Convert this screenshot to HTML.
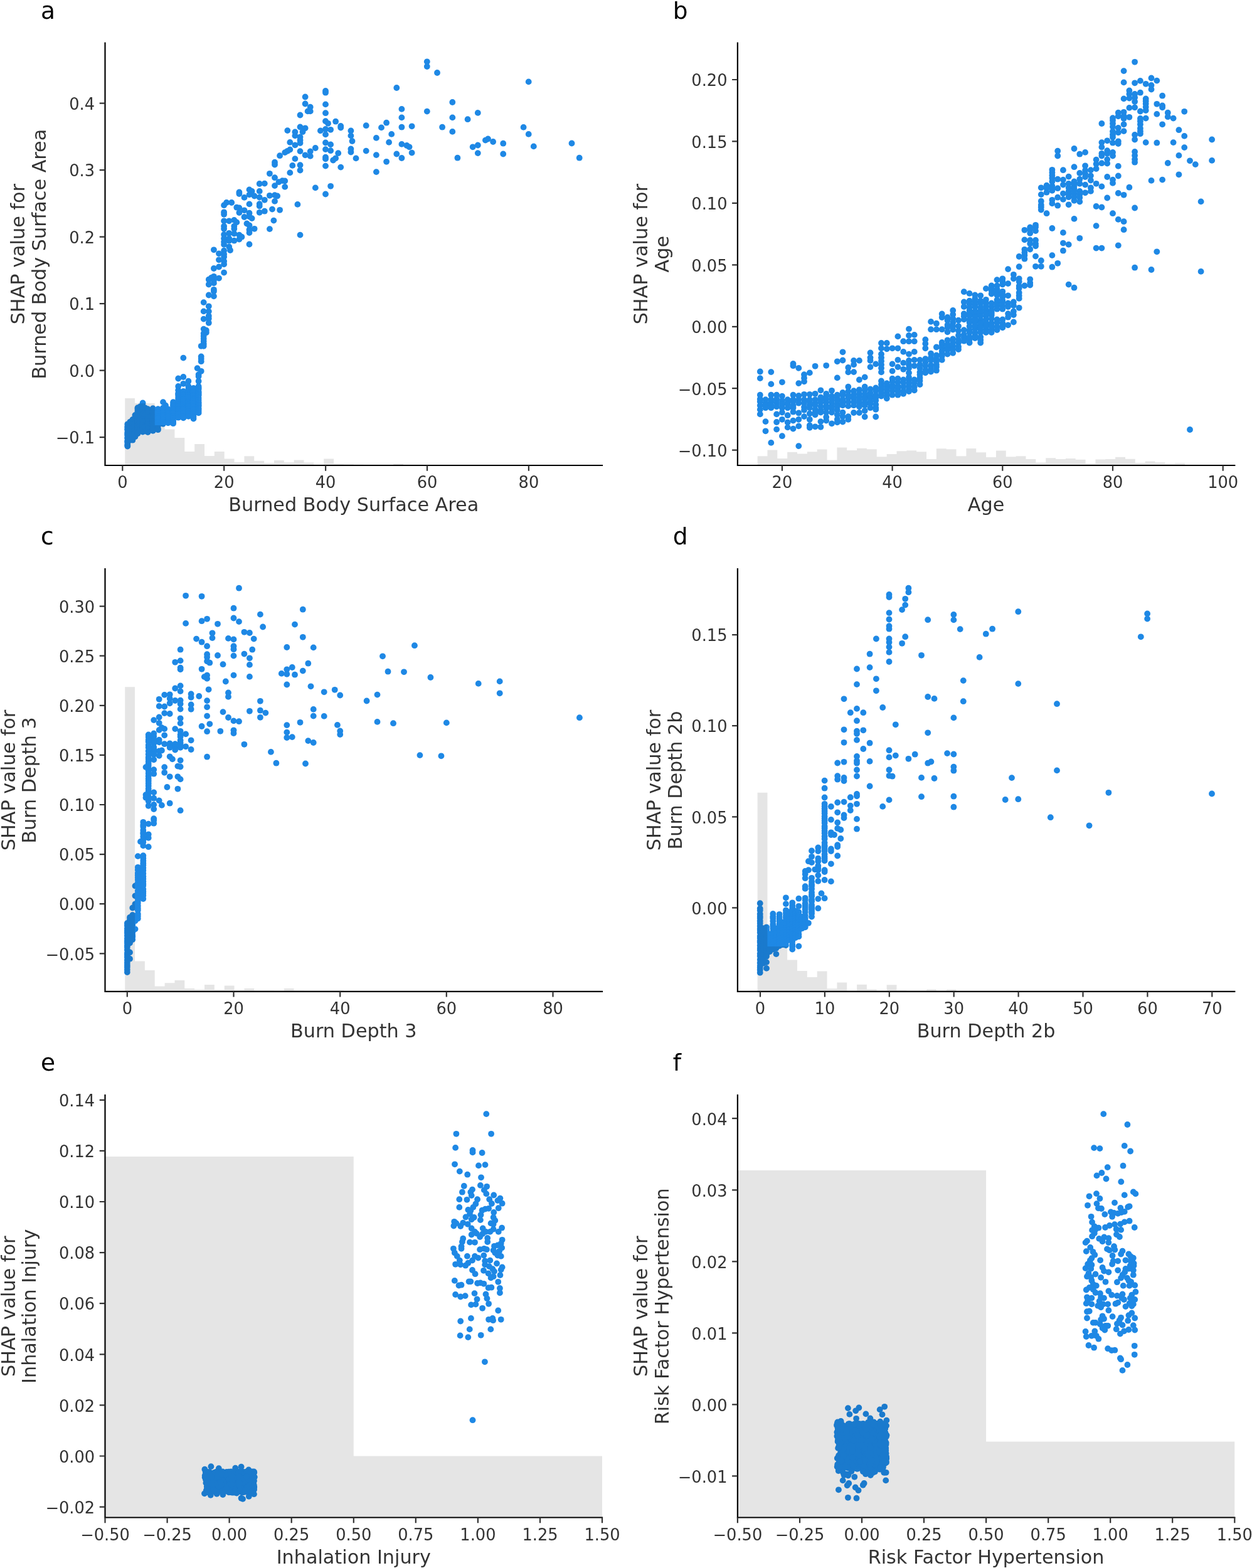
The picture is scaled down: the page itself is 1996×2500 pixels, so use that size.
<!DOCTYPE html>
<html lang="en">
<head>
<meta charset="utf-8">
<title>SHAP dependence plots</title>
<style>
html,body{margin:0;padding:0;background:#fff;}
body{width:1996px;height:2500px;overflow:hidden;font-family:"DejaVu Sans","Liberation Sans",sans-serif;}
svg{display:block;}
svg text{font-family:"DejaVu Sans","Liberation Sans",sans-serif;}
.tk text{font-size:25.7px;fill:#333333;}
.lb{font-size:30.25px;fill:#333333;}
.pl{font-size:37.5px;fill:#000;}
</style>
</head>
<body>
<svg width="1996" height="2500" viewBox="0 0 1996 2500">
<rect width="1996" height="2500" fill="#ffffff"/>
<g class="panel">
<g fill="#1e88e5">
<circle cx="680.8" cy="98.3" r="4.9"/><circle cx="680.8" cy="106" r="4.9"/><circle cx="697" cy="116" r="4.9"/><circle cx="842.7" cy="130.4" r="4.9"/><circle cx="632.3" cy="140" r="4.9"/><circle cx="721.3" cy="163" r="4.9"/><circle cx="640.4" cy="173.9" r="4.9"/><circle cx="680.8" cy="177.6" r="4.9"/><circle cx="761.8" cy="179.9" r="4.9"/><circle cx="640.4" cy="187.4" r="4.9"/><circle cx="721.3" cy="187.4" r="4.9"/><circle cx="745.6" cy="190.2" r="4.9"/><circle cx="616.1" cy="195.7" r="4.9"/><circle cx="583.7" cy="200.2" r="4.9"/><circle cx="608" cy="203.4" r="4.9"/><circle cx="640.4" cy="202.7" r="4.9"/><circle cx="656.6" cy="201.3" r="4.9"/><circle cx="705.1" cy="202.7" r="4.9"/><circle cx="834.6" cy="202.9" r="4.9"/><circle cx="624.2" cy="213.9" r="4.9"/><circle cx="721.3" cy="209.9" r="4.9"/><circle cx="842.7" cy="213.9" r="4.9"/><circle cx="599.9" cy="219.9" r="4.9"/><circle cx="620.1" cy="226.9" r="4.9"/><circle cx="773.9" cy="223.6" r="4.9"/><circle cx="778" cy="221.5" r="4.9"/><circle cx="786.1" cy="226" r="4.9"/><circle cx="802.2" cy="228.7" r="4.9"/><circle cx="911.5" cy="228.5" r="4.9"/><circle cx="640.4" cy="229.9" r="4.9"/><circle cx="648.5" cy="232" r="4.9"/><circle cx="652.5" cy="234.3" r="4.9"/><circle cx="761.8" cy="231.5" r="4.9"/><circle cx="753.7" cy="234.3" r="4.9"/><circle cx="850.8" cy="233.4" r="4.9"/><circle cx="583.7" cy="240.6" r="4.9"/><circle cx="656.6" cy="243.6" r="4.9"/><circle cx="632.3" cy="245.5" r="4.9"/><circle cx="599.9" cy="247.1" r="4.9"/><circle cx="761.8" cy="244.1" r="4.9"/><circle cx="802.2" cy="245.5" r="4.9"/><circle cx="567.5" cy="252.4" r="4.9"/><circle cx="640.4" cy="252" r="4.9"/><circle cx="729.4" cy="251.7" r="4.9"/><circle cx="923.7" cy="251.7" r="4.9"/><circle cx="616.1" cy="257.8" r="4.9"/><circle cx="599.9" cy="274.1" r="4.9"/><circle cx="519" cy="144.9" r="4.9"/><circle cx="519" cy="147.7" r="4.9"/><circle cx="486.6" cy="154.5" r="4.9"/><circle cx="486.6" cy="165.5" r="4.9"/><circle cx="519" cy="166.4" r="4.9"/><circle cx="494.7" cy="170.7" r="4.9"/><circle cx="490.6" cy="177.4" r="4.9"/><circle cx="494.7" cy="177.4" r="4.9"/><circle cx="519" cy="180.2" r="4.9"/><circle cx="478.5" cy="183.5" r="4.9"/><circle cx="519" cy="193.2" r="4.9"/><circle cx="523" cy="196.8" r="4.9"/><circle cx="535.1" cy="193.7" r="4.9"/><circle cx="543.2" cy="201" r="4.9"/><circle cx="543.2" cy="203.5" r="4.9"/><circle cx="478.5" cy="202.5" r="4.9"/><circle cx="486.6" cy="204.3" r="4.9"/><circle cx="482.5" cy="210.2" r="4.9"/><circle cx="458.3" cy="208.1" r="4.9"/><circle cx="470.4" cy="210.4" r="4.9"/><circle cx="510.9" cy="208.4" r="4.9"/><circle cx="519" cy="206" r="4.9"/><circle cx="527.1" cy="206.8" r="4.9"/><circle cx="519" cy="214.4" r="4.9"/><circle cx="559.4" cy="208.5" r="4.9"/><circle cx="470.4" cy="216.4" r="4.9"/><circle cx="478.5" cy="218.5" r="4.9"/><circle cx="559.4" cy="216.4" r="4.9"/><circle cx="478.5" cy="223.4" r="4.9"/><circle cx="561.5" cy="225" r="4.9"/><circle cx="462.3" cy="226.9" r="4.9"/><circle cx="478.5" cy="228" r="4.9"/><circle cx="470.4" cy="231.4" r="4.9"/><circle cx="519" cy="227.5" r="4.9"/><circle cx="527.1" cy="230.4" r="4.9"/><circle cx="502.8" cy="236" r="4.9"/><circle cx="462.3" cy="238.5" r="4.9"/><circle cx="458.3" cy="240.8" r="4.9"/><circle cx="454.2" cy="243.1" r="4.9"/><circle cx="519" cy="238.1" r="4.9"/><circle cx="527.1" cy="240.2" r="4.9"/><circle cx="559.4" cy="237.4" r="4.9"/><circle cx="559.4" cy="242.5" r="4.9"/><circle cx="478.5" cy="241.1" r="4.9"/><circle cx="494.7" cy="241.4" r="4.9"/><circle cx="539.2" cy="244.2" r="4.9"/><circle cx="446.1" cy="248.2" r="4.9"/><circle cx="486.6" cy="247.3" r="4.9"/><circle cx="494.7" cy="248.9" r="4.9"/><circle cx="519" cy="250.6" r="4.9"/><circle cx="519" cy="253.4" r="4.9"/><circle cx="535.1" cy="252.3" r="4.9"/><circle cx="531.1" cy="255.5" r="4.9"/><circle cx="470.4" cy="253.1" r="4.9"/><circle cx="438" cy="258.7" r="4.9"/><circle cx="438" cy="262.5" r="4.9"/><circle cx="466.3" cy="263.9" r="4.9"/><circle cx="478.5" cy="263.2" r="4.9"/><circle cx="519" cy="264.6" r="4.9"/><circle cx="543.2" cy="266.6" r="4.9"/><circle cx="478.5" cy="271.5" r="4.9"/><circle cx="462.3" cy="275.4" r="4.9"/><circle cx="429.9" cy="276.8" r="4.9"/><circle cx="438" cy="283.2" r="4.9"/><circle cx="450.2" cy="288.1" r="4.9"/><circle cx="454.2" cy="288.5" r="4.9"/><circle cx="444.4" cy="290.2" r="4.9"/><circle cx="413.7" cy="293" r="4.9"/><circle cx="421.8" cy="292.6" r="4.9"/><circle cx="438" cy="296.1" r="4.9"/><circle cx="454.2" cy="297.9" r="4.9"/><circle cx="502.8" cy="299.4" r="4.9"/><circle cx="527.1" cy="296.8" r="4.9"/><circle cx="519" cy="309.5" r="4.9"/><circle cx="397.5" cy="302.4" r="4.9"/><circle cx="401.6" cy="304.9" r="4.9"/><circle cx="381.4" cy="306.5" r="4.9"/><circle cx="381.4" cy="309" r="4.9"/><circle cx="413.7" cy="304.9" r="4.9"/><circle cx="397.5" cy="310.4" r="4.9"/><circle cx="405.6" cy="312.5" r="4.9"/><circle cx="429.9" cy="311.8" r="4.9"/><circle cx="438" cy="311.1" r="4.9"/><circle cx="442.1" cy="312.5" r="4.9"/><circle cx="389.5" cy="314.9" r="4.9"/><circle cx="413.7" cy="314.6" r="4.9"/><circle cx="421.8" cy="318.8" r="4.9"/><circle cx="438" cy="320.9" r="4.9"/><circle cx="361.1" cy="323" r="4.9"/><circle cx="369.2" cy="323" r="4.9"/><circle cx="357.1" cy="327.2" r="4.9"/><circle cx="397.5" cy="325.4" r="4.9"/><circle cx="413.7" cy="325.1" r="4.9"/><circle cx="413.7" cy="328.6" r="4.9"/><circle cx="474.4" cy="325.9" r="4.9"/><circle cx="377.3" cy="330.7" r="4.9"/><circle cx="381.4" cy="331.4" r="4.9"/><circle cx="389.5" cy="335.3" r="4.9"/><circle cx="434" cy="333.6" r="4.9"/><circle cx="446.1" cy="334.8" r="4.9"/><circle cx="381.4" cy="339" r="4.9"/><circle cx="397.5" cy="339.7" r="4.9"/><circle cx="413.7" cy="338.8" r="4.9"/><circle cx="421.8" cy="336.7" r="4.9"/><circle cx="357.1" cy="338.3" r="4.9"/><circle cx="357.1" cy="341.8" r="4.9"/><circle cx="389.5" cy="346" r="4.9"/><circle cx="397.5" cy="345.3" r="4.9"/><circle cx="401.6" cy="348.1" r="4.9"/><circle cx="357.1" cy="352.3" r="4.9"/><circle cx="365.2" cy="352.3" r="4.9"/><circle cx="373.3" cy="350.9" r="4.9"/><circle cx="377.3" cy="354.4" r="4.9"/><circle cx="436.4" cy="351.6" r="4.9"/><circle cx="393.5" cy="356.5" r="4.9"/><circle cx="397.5" cy="359.3" r="4.9"/><circle cx="357.1" cy="360.6" r="4.9"/><circle cx="373.3" cy="360.6" r="4.9"/><circle cx="357.1" cy="364.8" r="4.9"/><circle cx="373.3" cy="364.8" r="4.9"/><circle cx="405.6" cy="364.8" r="4.9"/><circle cx="429.9" cy="365.1" r="4.9"/><circle cx="397.5" cy="366.2" r="4.9"/><circle cx="397.5" cy="371.1" r="4.9"/><circle cx="365.2" cy="371.8" r="4.9"/><circle cx="357.1" cy="373.9" r="4.9"/><circle cx="373.3" cy="372.5" r="4.9"/><circle cx="381.4" cy="374.6" r="4.9"/><circle cx="385.4" cy="377.7" r="4.9"/><circle cx="478.5" cy="374.6" r="4.9"/><circle cx="357.1" cy="380.2" r="4.9"/><circle cx="365.2" cy="380.2" r="4.9"/><circle cx="381.4" cy="381.6" r="4.9"/><circle cx="373.3" cy="383.7" r="4.9"/><circle cx="365.2" cy="383.7" r="4.9"/><circle cx="357.1" cy="385.7" r="4.9"/><circle cx="397.5" cy="389.5" r="4.9"/><circle cx="357.1" cy="389.9" r="4.9"/><circle cx="365.2" cy="393.4" r="4.9"/><circle cx="340.9" cy="398.3" r="4.9"/><circle cx="367" cy="399" r="4.9"/><circle cx="357.1" cy="399.7" r="4.9"/><circle cx="349" cy="404.3" r="4.9"/><circle cx="357.1" cy="405.3" r="4.9"/><circle cx="357.1" cy="409.5" r="4.9"/><circle cx="349" cy="414.3" r="4.9"/><circle cx="357.1" cy="416.4" r="4.9"/><circle cx="357.1" cy="421.3" r="4.9"/><circle cx="349" cy="425.5" r="4.9"/><circle cx="340.9" cy="428" r="4.9"/><circle cx="357.1" cy="434.6" r="4.9"/><circle cx="340.9" cy="440.8" r="4.9"/><circle cx="349" cy="443.6" r="4.9"/><circle cx="332.8" cy="445.7" r="4.9"/><circle cx="340.9" cy="447.1" r="4.9"/><circle cx="336.8" cy="443" r="4.9"/><circle cx="340.9" cy="451.4" r="4.9"/><circle cx="332.8" cy="453.5" r="4.9"/><circle cx="340.9" cy="461.8" r="4.9"/><circle cx="340.9" cy="464.6" r="4.9"/><circle cx="332.8" cy="470.5" r="4.9"/><circle cx="340.9" cy="472.3" r="4.9"/><circle cx="324.7" cy="482.1" r="4.9"/><circle cx="332.8" cy="488.3" r="4.9"/><circle cx="324.7" cy="496.4" r="4.9"/><circle cx="332.8" cy="496.4" r="4.9"/><circle cx="332.8" cy="503.7" r="4.9"/><circle cx="324.7" cy="508.6" r="4.9"/><circle cx="332.8" cy="507.9" r="4.9"/><circle cx="332.8" cy="514.8" r="4.9"/><circle cx="324.7" cy="524.6" r="4.9"/><circle cx="328.8" cy="526.7" r="4.9"/><circle cx="328.8" cy="530.2" r="4.9"/><circle cx="324.7" cy="531.6" r="4.9"/><circle cx="324.7" cy="535.7" r="4.9"/><circle cx="324.7" cy="539.9" r="4.9"/><circle cx="324.7" cy="544.1" r="4.9"/><circle cx="324.7" cy="548.3" r="4.9"/><circle cx="320.7" cy="551.8" r="4.9"/><circle cx="324.7" cy="551.8" r="4.9"/><circle cx="320.7" cy="568.5" r="4.9"/><circle cx="292.3" cy="570.6" r="4.9"/><circle cx="320.7" cy="576.2" r="4.9"/><circle cx="314.6" cy="587.1" r="4.9"/><circle cx="320.7" cy="591.8" r="4.9"/><circle cx="316.6" cy="597.1" r="4.9"/><circle cx="320.7" cy="572.1" r="4.9"/><circle cx="316.6" cy="600" r="4.9"/><circle cx="316.6" cy="607.7" r="4.9"/><circle cx="284.2" cy="603.5" r="4.9"/><circle cx="292.3" cy="601" r="4.9"/><circle cx="300.4" cy="607.7" r="4.9"/><circle cx="292.3" cy="611.8" r="4.9"/><circle cx="284.2" cy="616" r="4.9"/><circle cx="300.4" cy="616" r="4.9"/><circle cx="308.5" cy="618.8" r="4.9"/><circle cx="316.6" cy="616" r="4.9"/><circle cx="260" cy="641.1" r="4.9"/><circle cx="264" cy="646.4" r="4.9"/><circle cx="203.3" cy="711.5" r="4.9"/><circle cx="308.5" cy="667.6" r="4.9"/><circle cx="227.6" cy="642.5" r="4.9"/><circle cx="203.3" cy="676.3" r="4.9"/><circle cx="203.3" cy="680" r="4.9"/><circle cx="203.3" cy="681.6" r="4.9"/><circle cx="203.3" cy="684.2" r="4.9"/><circle cx="203.3" cy="685.2" r="4.9"/><circle cx="203.3" cy="689.1" r="4.9"/><circle cx="203.3" cy="691.2" r="4.9"/><circle cx="203.3" cy="692.8" r="4.9"/><circle cx="203.3" cy="694.5" r="4.9"/><circle cx="203.3" cy="698.3" r="4.9"/><circle cx="203.3" cy="698.6" r="4.9"/><circle cx="203.3" cy="702.9" r="4.9"/><circle cx="203.3" cy="703.5" r="4.9"/><circle cx="203.3" cy="705.3" r="4.9"/><circle cx="203.3" cy="708.5" r="4.9"/><circle cx="203.3" cy="710.3" r="4.9"/><circle cx="207.3" cy="672.7" r="4.9"/><circle cx="207.3" cy="676.1" r="4.9"/><circle cx="207.3" cy="681.1" r="4.9"/><circle cx="207.3" cy="683.7" r="4.9"/><circle cx="207.3" cy="688" r="4.9"/><circle cx="207.3" cy="688.4" r="4.9"/><circle cx="207.3" cy="693.5" r="4.9"/><circle cx="207.3" cy="697.4" r="4.9"/><circle cx="207.3" cy="700.3" r="4.9"/><circle cx="207.3" cy="701.8" r="4.9"/><circle cx="211.4" cy="668.9" r="4.9"/><circle cx="211.4" cy="670.3" r="4.9"/><circle cx="211.4" cy="671.5" r="4.9"/><circle cx="211.4" cy="675.3" r="4.9"/><circle cx="211.4" cy="676.1" r="4.9"/><circle cx="211.4" cy="679.5" r="4.9"/><circle cx="211.4" cy="680.9" r="4.9"/><circle cx="211.4" cy="683.4" r="4.9"/><circle cx="211.4" cy="685.6" r="4.9"/><circle cx="211.4" cy="687.8" r="4.9"/><circle cx="211.4" cy="689" r="4.9"/><circle cx="211.4" cy="693.2" r="4.9"/><circle cx="211.4" cy="694.1" r="4.9"/><circle cx="211.4" cy="696.5" r="4.9"/><circle cx="211.4" cy="699.3" r="4.9"/><circle cx="211.4" cy="701.7" r="4.9"/><circle cx="215.4" cy="662" r="4.9"/><circle cx="215.4" cy="666" r="4.9"/><circle cx="215.4" cy="668.6" r="4.9"/><circle cx="215.4" cy="675" r="4.9"/><circle cx="215.4" cy="678.2" r="4.9"/><circle cx="215.4" cy="682.4" r="4.9"/><circle cx="215.4" cy="685.9" r="4.9"/><circle cx="215.4" cy="688.7" r="4.9"/><circle cx="215.4" cy="690.6" r="4.9"/><circle cx="215.4" cy="696.4" r="4.9"/><circle cx="219.5" cy="650.2" r="4.9"/><circle cx="219.5" cy="652.3" r="4.9"/><circle cx="219.5" cy="655.2" r="4.9"/><circle cx="219.5" cy="657.8" r="4.9"/><circle cx="219.5" cy="658.8" r="4.9"/><circle cx="219.5" cy="661.7" r="4.9"/><circle cx="219.5" cy="665.8" r="4.9"/><circle cx="219.5" cy="668.1" r="4.9"/><circle cx="219.5" cy="669.2" r="4.9"/><circle cx="219.5" cy="672.6" r="4.9"/><circle cx="219.5" cy="673.5" r="4.9"/><circle cx="219.5" cy="677.7" r="4.9"/><circle cx="219.5" cy="678.6" r="4.9"/><circle cx="219.5" cy="681.6" r="4.9"/><circle cx="219.5" cy="683.6" r="4.9"/><circle cx="219.5" cy="686.1" r="4.9"/><circle cx="219.5" cy="689.9" r="4.9"/><circle cx="219.5" cy="691.3" r="4.9"/><circle cx="223.5" cy="648.1" r="4.9"/><circle cx="223.5" cy="654" r="4.9"/><circle cx="223.5" cy="656.9" r="4.9"/><circle cx="223.5" cy="662.7" r="4.9"/><circle cx="223.5" cy="667.3" r="4.9"/><circle cx="223.5" cy="669.1" r="4.9"/><circle cx="223.5" cy="673.8" r="4.9"/><circle cx="223.5" cy="678.1" r="4.9"/><circle cx="223.5" cy="684.4" r="4.9"/><circle cx="223.5" cy="686.7" r="4.9"/><circle cx="227.6" cy="647" r="4.9"/><circle cx="227.6" cy="648.1" r="4.9"/><circle cx="227.6" cy="651" r="4.9"/><circle cx="227.6" cy="653.3" r="4.9"/><circle cx="227.6" cy="655.1" r="4.9"/><circle cx="227.6" cy="659.9" r="4.9"/><circle cx="227.6" cy="660.8" r="4.9"/><circle cx="227.6" cy="663.3" r="4.9"/><circle cx="227.6" cy="666.9" r="4.9"/><circle cx="227.6" cy="668.1" r="4.9"/><circle cx="227.6" cy="672.2" r="4.9"/><circle cx="227.6" cy="674.5" r="4.9"/><circle cx="227.6" cy="676.4" r="4.9"/><circle cx="227.6" cy="679.7" r="4.9"/><circle cx="227.6" cy="681.8" r="4.9"/><circle cx="227.6" cy="683.4" r="4.9"/><circle cx="227.6" cy="685.5" r="4.9"/><circle cx="227.6" cy="688.6" r="4.9"/><circle cx="231.6" cy="650.5" r="4.9"/><circle cx="231.6" cy="656.3" r="4.9"/><circle cx="231.6" cy="661.3" r="4.9"/><circle cx="231.6" cy="669" r="4.9"/><circle cx="231.6" cy="670.5" r="4.9"/><circle cx="231.6" cy="679.2" r="4.9"/><circle cx="231.6" cy="680.9" r="4.9"/><circle cx="231.6" cy="687.4" r="4.9"/><circle cx="235.7" cy="652.1" r="4.9"/><circle cx="235.7" cy="654.2" r="4.9"/><circle cx="235.7" cy="655.5" r="4.9"/><circle cx="235.7" cy="657.2" r="4.9"/><circle cx="235.7" cy="659.1" r="4.9"/><circle cx="235.7" cy="663.1" r="4.9"/><circle cx="235.7" cy="665" r="4.9"/><circle cx="235.7" cy="667.4" r="4.9"/><circle cx="235.7" cy="668.5" r="4.9"/><circle cx="235.7" cy="671.9" r="4.9"/><circle cx="235.7" cy="674.3" r="4.9"/><circle cx="235.7" cy="674.7" r="4.9"/><circle cx="235.7" cy="676.9" r="4.9"/><circle cx="235.7" cy="679.1" r="4.9"/><circle cx="235.7" cy="682.9" r="4.9"/><circle cx="235.7" cy="684.1" r="4.9"/><circle cx="235.7" cy="687.3" r="4.9"/><circle cx="235.7" cy="689" r="4.9"/><circle cx="243.8" cy="651.2" r="4.9"/><circle cx="243.8" cy="655.5" r="4.9"/><circle cx="243.8" cy="657.9" r="4.9"/><circle cx="243.8" cy="658.8" r="4.9"/><circle cx="243.8" cy="662.5" r="4.9"/><circle cx="243.8" cy="664.5" r="4.9"/><circle cx="243.8" cy="665.5" r="4.9"/><circle cx="243.8" cy="667.7" r="4.9"/><circle cx="243.8" cy="672.3" r="4.9"/><circle cx="243.8" cy="672.6" r="4.9"/><circle cx="243.8" cy="675.3" r="4.9"/><circle cx="243.8" cy="677.4" r="4.9"/><circle cx="243.8" cy="680.4" r="4.9"/><circle cx="243.8" cy="684" r="4.9"/><circle cx="243.8" cy="684.9" r="4.9"/><circle cx="243.8" cy="686.9" r="4.9"/><circle cx="251.9" cy="652.1" r="4.9"/><circle cx="251.9" cy="656.8" r="4.9"/><circle cx="251.9" cy="658.3" r="4.9"/><circle cx="251.9" cy="660" r="4.9"/><circle cx="251.9" cy="663.9" r="4.9"/><circle cx="251.9" cy="666.5" r="4.9"/><circle cx="251.9" cy="667.1" r="4.9"/><circle cx="251.9" cy="671.4" r="4.9"/><circle cx="251.9" cy="673.1" r="4.9"/><circle cx="251.9" cy="674.5" r="4.9"/><circle cx="251.9" cy="677" r="4.9"/><circle cx="251.9" cy="678.9" r="4.9"/><circle cx="251.9" cy="683.5" r="4.9"/><circle cx="251.9" cy="685.2" r="4.9"/><circle cx="260" cy="650.3" r="4.9"/><circle cx="260" cy="651.2" r="4.9"/><circle cx="260" cy="653.6" r="4.9"/><circle cx="260" cy="657.4" r="4.9"/><circle cx="260" cy="658.5" r="4.9"/><circle cx="260" cy="661.5" r="4.9"/><circle cx="260" cy="663.1" r="4.9"/><circle cx="260" cy="665.5" r="4.9"/><circle cx="260" cy="668.7" r="4.9"/><circle cx="260" cy="669.9" r="4.9"/><circle cx="260" cy="672.9" r="4.9"/><circle cx="260" cy="675.8" r="4.9"/><circle cx="268" cy="652.4" r="4.9"/><circle cx="268" cy="656.3" r="4.9"/><circle cx="268" cy="659.1" r="4.9"/><circle cx="268" cy="661.1" r="4.9"/><circle cx="268" cy="663.6" r="4.9"/><circle cx="268" cy="664.3" r="4.9"/><circle cx="268" cy="668.6" r="4.9"/><circle cx="268" cy="670.9" r="4.9"/><circle cx="268" cy="673.4" r="4.9"/><circle cx="268" cy="674.4" r="4.9"/><circle cx="276.1" cy="641.2" r="4.9"/><circle cx="276.1" cy="644" r="4.9"/><circle cx="276.1" cy="646.3" r="4.9"/><circle cx="276.1" cy="648.3" r="4.9"/><circle cx="276.1" cy="651.8" r="4.9"/><circle cx="276.1" cy="653.3" r="4.9"/><circle cx="276.1" cy="657.9" r="4.9"/><circle cx="276.1" cy="659.5" r="4.9"/><circle cx="276.1" cy="663" r="4.9"/><circle cx="276.1" cy="664.5" r="4.9"/><circle cx="276.1" cy="666.8" r="4.9"/><circle cx="276.1" cy="670.6" r="4.9"/><circle cx="276.1" cy="673.1" r="4.9"/><circle cx="276.1" cy="675.2" r="4.9"/><circle cx="284.2" cy="622.3" r="4.9"/><circle cx="284.2" cy="627" r="4.9"/><circle cx="284.2" cy="628.6" r="4.9"/><circle cx="284.2" cy="630.9" r="4.9"/><circle cx="284.2" cy="634.5" r="4.9"/><circle cx="284.2" cy="637.5" r="4.9"/><circle cx="284.2" cy="640.4" r="4.9"/><circle cx="284.2" cy="641.9" r="4.9"/><circle cx="284.2" cy="645.3" r="4.9"/><circle cx="284.2" cy="647.9" r="4.9"/><circle cx="284.2" cy="652" r="4.9"/><circle cx="284.2" cy="653" r="4.9"/><circle cx="284.2" cy="655.1" r="4.9"/><circle cx="284.2" cy="659.2" r="4.9"/><circle cx="284.2" cy="660.9" r="4.9"/><circle cx="284.2" cy="665.7" r="4.9"/><circle cx="292.3" cy="623.9" r="4.9"/><circle cx="292.3" cy="625.9" r="4.9"/><circle cx="292.3" cy="629.7" r="4.9"/><circle cx="292.3" cy="632.8" r="4.9"/><circle cx="292.3" cy="636" r="4.9"/><circle cx="292.3" cy="636.6" r="4.9"/><circle cx="292.3" cy="639.5" r="4.9"/><circle cx="292.3" cy="643.8" r="4.9"/><circle cx="292.3" cy="646.4" r="4.9"/><circle cx="292.3" cy="648.3" r="4.9"/><circle cx="292.3" cy="650.6" r="4.9"/><circle cx="292.3" cy="653.1" r="4.9"/><circle cx="292.3" cy="658" r="4.9"/><circle cx="292.3" cy="659.3" r="4.9"/><circle cx="292.3" cy="664.1" r="4.9"/><circle cx="292.3" cy="666.4" r="4.9"/><circle cx="300.4" cy="620" r="4.9"/><circle cx="300.4" cy="622.3" r="4.9"/><circle cx="300.4" cy="626.9" r="4.9"/><circle cx="300.4" cy="629.4" r="4.9"/><circle cx="300.4" cy="630.5" r="4.9"/><circle cx="300.4" cy="633.4" r="4.9"/><circle cx="300.4" cy="638.9" r="4.9"/><circle cx="300.4" cy="640.8" r="4.9"/><circle cx="300.4" cy="642.4" r="4.9"/><circle cx="300.4" cy="645.7" r="4.9"/><circle cx="300.4" cy="648" r="4.9"/><circle cx="300.4" cy="652.3" r="4.9"/><circle cx="300.4" cy="655.9" r="4.9"/><circle cx="300.4" cy="659.5" r="4.9"/><circle cx="300.4" cy="660.9" r="4.9"/><circle cx="300.4" cy="663.8" r="4.9"/><circle cx="308.5" cy="620.8" r="4.9"/><circle cx="308.5" cy="625.9" r="4.9"/><circle cx="308.5" cy="629.8" r="4.9"/><circle cx="308.5" cy="631.5" r="4.9"/><circle cx="308.5" cy="635.7" r="4.9"/><circle cx="308.5" cy="637.7" r="4.9"/><circle cx="308.5" cy="640.1" r="4.9"/><circle cx="308.5" cy="643.4" r="4.9"/><circle cx="308.5" cy="648.1" r="4.9"/><circle cx="308.5" cy="652.1" r="4.9"/><circle cx="308.5" cy="653.3" r="4.9"/><circle cx="308.5" cy="658" r="4.9"/><circle cx="308.5" cy="661.1" r="4.9"/><circle cx="308.5" cy="664.5" r="4.9"/><circle cx="316.6" cy="618.2" r="4.9"/><circle cx="316.6" cy="620.5" r="4.9"/><circle cx="316.6" cy="624.5" r="4.9"/><circle cx="316.6" cy="626.4" r="4.9"/><circle cx="316.6" cy="628.8" r="4.9"/><circle cx="316.6" cy="630.4" r="4.9"/><circle cx="316.6" cy="634.7" r="4.9"/><circle cx="316.6" cy="638" r="4.9"/><circle cx="316.6" cy="641.2" r="4.9"/><circle cx="316.6" cy="643.4" r="4.9"/><circle cx="316.6" cy="645.9" r="4.9"/><circle cx="316.6" cy="647.4" r="4.9"/><circle cx="316.6" cy="650.9" r="4.9"/><circle cx="316.6" cy="652.9" r="4.9"/><circle cx="316.6" cy="655.7" r="4.9"/><circle cx="316.6" cy="658.4" r="4.9"/>
</g>
<path d="M199.2 742V635H215.05V642.9H230.9V642.9H246.75V678.1H262.6V684.4H278.45V698H294.3V719.9H310.15V708.1H326V726.9H341.85V719.9H357.7V731.4H373.55V737.1H389.4V727.3H405.25V734.8H421.1V738.3H436.95V733.9H452.8V737.2H468.65V733.4H484.5V737.4H500.35V740.5H516.2V731.4H532.05V739H547.9V740H563.75V740.5H579.6V740.7H595.45V740.7H611.3V740.7H627.15V739H643V740.7H658.85V740.7H674.7V742Z" fill="#000" fill-opacity="0.1"/>
<g stroke="#000" stroke-width="2.2" fill="none">
<path d="M167.5 68.5V742H960" stroke-linecap="square"/>
</g>
<path d="M195.3 742v8.8M357.2 742v8.8M519.1 742v8.8M681 742v8.8M842.9 742v8.8M167.5 164.6h-8.8M167.5 271.1h-8.8M167.5 377.6h-8.8M167.5 484.1h-8.8M167.5 590.6h-8.8M167.5 697.1h-8.8" stroke="#333" stroke-width="2.2" fill="none"/>
<g class="tk" text-anchor="middle">
<text x="195.3" y="778.2">0</text>
<text x="357.2" y="778.2">20</text>
<text x="519.1" y="778.2">40</text>
<text x="681" y="778.2">60</text>
<text x="842.9" y="778.2">80</text>
</g>
<g class="tk" text-anchor="end">
<text x="151.1" y="174.8">0.4</text>
<text x="151.1" y="281.3">0.3</text>
<text x="151.1" y="387.8">0.2</text>
<text x="151.1" y="494.3">0.1</text>
<text x="151.1" y="600.8">0.0</text>
<text x="151.1" y="707.3">−0.1</text>
</g>
<text class="lb" text-anchor="middle" x="563.8" y="815">Burned Body Surface Area</text>
<text class="lb" text-anchor="middle" transform="translate(39.2 405.2) rotate(-90)">SHAP value for</text>
<text class="lb" text-anchor="middle" transform="translate(73.1 405.2) rotate(-90)">Burned Body Surface Area</text>
<text class="pl" x="65.1" y="29.5">a</text>
</g>
<g class="panel">
<g fill="#1e88e5">
<circle cx="1211.8" cy="592.5" r="4.9"/><circle cx="1211.8" cy="603.1" r="4.9"/><circle cx="1211.8" cy="629.7" r="4.9"/><circle cx="1211.8" cy="636.2" r="4.9"/><circle cx="1211.8" cy="640.2" r="4.9"/><circle cx="1211.8" cy="646.4" r="4.9"/><circle cx="1211.8" cy="652.9" r="4.9"/><circle cx="1211.8" cy="660.4" r="4.9"/><circle cx="1220.5" cy="637.1" r="4.9"/><circle cx="1220.5" cy="642.5" r="4.9"/><circle cx="1220.5" cy="646.6" r="4.9"/><circle cx="1220.5" cy="650.2" r="4.9"/><circle cx="1220.5" cy="672.1" r="4.9"/><circle cx="1220.5" cy="687.3" r="4.9"/><circle cx="1229.3" cy="593.1" r="4.9"/><circle cx="1229.3" cy="612.4" r="4.9"/><circle cx="1229.3" cy="629.7" r="4.9"/><circle cx="1229.3" cy="637.1" r="4.9"/><circle cx="1229.3" cy="640.7" r="4.9"/><circle cx="1229.3" cy="645.8" r="4.9"/><circle cx="1229.3" cy="650.2" r="4.9"/><circle cx="1229.3" cy="705.9" r="4.9"/><circle cx="1238.1" cy="629.7" r="4.9"/><circle cx="1238.1" cy="636.2" r="4.9"/><circle cx="1238.1" cy="642.1" r="4.9"/><circle cx="1238.1" cy="648.3" r="4.9"/><circle cx="1238.1" cy="660.4" r="4.9"/><circle cx="1238.1" cy="673" r="4.9"/><circle cx="1238.1" cy="684.6" r="4.9"/><circle cx="1246.9" cy="609.3" r="4.9"/><circle cx="1246.9" cy="631.6" r="4.9"/><circle cx="1246.9" cy="639" r="4.9"/><circle cx="1246.9" cy="645" r="4.9"/><circle cx="1246.9" cy="650.2" r="4.9"/><circle cx="1246.9" cy="657.6" r="4.9"/><circle cx="1246.9" cy="668.8" r="4.9"/><circle cx="1246.9" cy="695.2" r="4.9"/><circle cx="1255.7" cy="637.1" r="4.9"/><circle cx="1255.7" cy="642.3" r="4.9"/><circle cx="1255.7" cy="644.6" r="4.9"/><circle cx="1255.7" cy="650.2" r="4.9"/><circle cx="1255.7" cy="662.2" r="4.9"/><circle cx="1255.7" cy="673.4" r="4.9"/><circle cx="1255.7" cy="681.4" r="4.9"/><circle cx="1264.5" cy="579.9" r="4.9"/><circle cx="1264.5" cy="583.2" r="4.9"/><circle cx="1264.5" cy="629.7" r="4.9"/><circle cx="1264.5" cy="637.1" r="4.9"/><circle cx="1264.5" cy="640.1" r="4.9"/><circle cx="1264.5" cy="646.8" r="4.9"/><circle cx="1264.5" cy="650.2" r="4.9"/><circle cx="1264.5" cy="656.7" r="4.9"/><circle cx="1264.5" cy="670.6" r="4.9"/><circle cx="1264.5" cy="683.6" r="4.9"/><circle cx="1273.3" cy="586.9" r="4.9"/><circle cx="1273.3" cy="611.1" r="4.9"/><circle cx="1273.3" cy="631" r="4.9"/><circle cx="1273.3" cy="637.1" r="4.9"/><circle cx="1273.3" cy="642.7" r="4.9"/><circle cx="1273.3" cy="658.5" r="4.9"/><circle cx="1273.3" cy="668.8" r="4.9"/><circle cx="1273.3" cy="679.4" r="4.9"/><circle cx="1273.3" cy="711.1" r="4.9"/><circle cx="1282" cy="597.2" r="4.9"/><circle cx="1282" cy="602.7" r="4.9"/><circle cx="1282" cy="608.3" r="4.9"/><circle cx="1282" cy="628.8" r="4.9"/><circle cx="1282" cy="637.1" r="4.9"/><circle cx="1282" cy="642.5" r="4.9"/><circle cx="1282" cy="649.1" r="4.9"/><circle cx="1282" cy="653.9" r="4.9"/><circle cx="1282" cy="664.1" r="4.9"/><circle cx="1290.8" cy="594.4" r="4.9"/><circle cx="1290.8" cy="628.8" r="4.9"/><circle cx="1290.8" cy="637.1" r="4.9"/><circle cx="1290.8" cy="640" r="4.9"/><circle cx="1290.8" cy="645.7" r="4.9"/><circle cx="1290.8" cy="650.2" r="4.9"/><circle cx="1290.8" cy="659.5" r="4.9"/><circle cx="1290.8" cy="668.8" r="4.9"/><circle cx="1290.8" cy="678.1" r="4.9"/><circle cx="1290.8" cy="681.8" r="4.9"/><circle cx="1299.6" cy="583.8" r="4.9"/><circle cx="1299.6" cy="627.8" r="4.9"/><circle cx="1299.6" cy="637.1" r="4.9"/><circle cx="1299.6" cy="642.6" r="4.9"/><circle cx="1299.6" cy="646" r="4.9"/><circle cx="1299.6" cy="653" r="4.9"/><circle cx="1299.6" cy="657.7" r="4.9"/><circle cx="1299.6" cy="661.3" r="4.9"/><circle cx="1299.6" cy="680.3" r="4.9"/><circle cx="1308.4" cy="622.3" r="4.9"/><circle cx="1308.4" cy="633.4" r="4.9"/><circle cx="1308.4" cy="636.9" r="4.9"/><circle cx="1308.4" cy="641.7" r="4.9"/><circle cx="1308.4" cy="648.1" r="4.9"/><circle cx="1308.4" cy="654.1" r="4.9"/><circle cx="1308.4" cy="657.6" r="4.9"/><circle cx="1308.4" cy="672.1" r="4.9"/><circle cx="1308.4" cy="680.8" r="4.9"/><circle cx="1317.2" cy="582.8" r="4.9"/><circle cx="1317.2" cy="627.8" r="4.9"/><circle cx="1317.2" cy="631.6" r="4.9"/><circle cx="1317.2" cy="636.4" r="4.9"/><circle cx="1317.2" cy="641.1" r="4.9"/><circle cx="1317.2" cy="647" r="4.9"/><circle cx="1317.2" cy="651" r="4.9"/><circle cx="1317.2" cy="657.6" r="4.9"/><circle cx="1317.2" cy="665" r="4.9"/><circle cx="1317.2" cy="670.6" r="4.9"/><circle cx="1326" cy="622.8" r="4.9"/><circle cx="1326" cy="631.6" r="4.9"/><circle cx="1326" cy="635.9" r="4.9"/><circle cx="1326" cy="641.8" r="4.9"/><circle cx="1326" cy="647.2" r="4.9"/><circle cx="1326" cy="651.6" r="4.9"/><circle cx="1326" cy="657.6" r="4.9"/><circle cx="1326" cy="675.3" r="4.9"/><circle cx="1334.8" cy="576.3" r="4.9"/><circle cx="1334.8" cy="602.4" r="4.9"/><circle cx="1334.8" cy="629.7" r="4.9"/><circle cx="1334.8" cy="633.7" r="4.9"/><circle cx="1334.8" cy="638.5" r="4.9"/><circle cx="1334.8" cy="644.1" r="4.9"/><circle cx="1334.8" cy="648.4" r="4.9"/><circle cx="1334.8" cy="653.9" r="4.9"/><circle cx="1334.8" cy="661.3" r="4.9"/><circle cx="1334.8" cy="668.8" r="4.9"/><circle cx="1334.8" cy="673.4" r="4.9"/><circle cx="1343.5" cy="561.3" r="4.9"/><circle cx="1343.5" cy="574.5" r="4.9"/><circle cx="1343.5" cy="626" r="4.9"/><circle cx="1343.5" cy="629.7" r="4.9"/><circle cx="1343.5" cy="637.2" r="4.9"/><circle cx="1343.5" cy="641.5" r="4.9"/><circle cx="1343.5" cy="646.4" r="4.9"/><circle cx="1343.5" cy="657.6" r="4.9"/><circle cx="1343.5" cy="664.1" r="4.9"/><circle cx="1343.5" cy="672.5" r="4.9"/><circle cx="1352.3" cy="586" r="4.9"/><circle cx="1352.3" cy="593.4" r="4.9"/><circle cx="1352.3" cy="616.7" r="4.9"/><circle cx="1352.3" cy="624.1" r="4.9"/><circle cx="1352.3" cy="630.1" r="4.9"/><circle cx="1352.3" cy="634.3" r="4.9"/><circle cx="1352.3" cy="640.9" r="4.9"/><circle cx="1352.3" cy="647.4" r="4.9"/><circle cx="1352.3" cy="664.1" r="4.9"/><circle cx="1352.3" cy="668.8" r="4.9"/><circle cx="1361.1" cy="574.9" r="4.9"/><circle cx="1361.1" cy="581.4" r="4.9"/><circle cx="1361.1" cy="593.1" r="4.9"/><circle cx="1361.1" cy="623.2" r="4.9"/><circle cx="1361.1" cy="629.3" r="4.9"/><circle cx="1361.1" cy="633.6" r="4.9"/><circle cx="1361.1" cy="636" r="4.9"/><circle cx="1361.1" cy="641.3" r="4.9"/><circle cx="1361.1" cy="646.4" r="4.9"/><circle cx="1361.1" cy="658" r="4.9"/><circle cx="1369.9" cy="574.9" r="4.9"/><circle cx="1369.9" cy="605.5" r="4.9"/><circle cx="1369.9" cy="621.3" r="4.9"/><circle cx="1369.9" cy="627.4" r="4.9"/><circle cx="1369.9" cy="632.8" r="4.9"/><circle cx="1369.9" cy="638.8" r="4.9"/><circle cx="1369.9" cy="642.7" r="4.9"/><circle cx="1369.9" cy="648.3" r="4.9"/><circle cx="1369.9" cy="658" r="4.9"/><circle cx="1378.7" cy="601.4" r="4.9"/><circle cx="1378.7" cy="616.7" r="4.9"/><circle cx="1378.7" cy="622.3" r="4.9"/><circle cx="1378.7" cy="628.1" r="4.9"/><circle cx="1378.7" cy="632.4" r="4.9"/><circle cx="1378.7" cy="636.2" r="4.9"/><circle cx="1378.7" cy="641.9" r="4.9"/><circle cx="1378.7" cy="646.4" r="4.9"/><circle cx="1378.7" cy="654.8" r="4.9"/><circle cx="1378.7" cy="664.5" r="4.9"/><circle cx="1387.5" cy="562.4" r="4.9"/><circle cx="1387.5" cy="570.2" r="4.9"/><circle cx="1387.5" cy="574.9" r="4.9"/><circle cx="1387.5" cy="585.1" r="4.9"/><circle cx="1387.5" cy="620.4" r="4.9"/><circle cx="1387.5" cy="626.5" r="4.9"/><circle cx="1387.5" cy="631.4" r="4.9"/><circle cx="1387.5" cy="635.3" r="4.9"/><circle cx="1387.5" cy="640.5" r="4.9"/><circle cx="1387.5" cy="643.8" r="4.9"/><circle cx="1387.5" cy="650.2" r="4.9"/><circle cx="1396.2" cy="580.4" r="4.9"/><circle cx="1396.2" cy="618.5" r="4.9"/><circle cx="1396.2" cy="623" r="4.9"/><circle cx="1396.2" cy="630" r="4.9"/><circle cx="1396.2" cy="634.1" r="4.9"/><circle cx="1396.2" cy="638.6" r="4.9"/><circle cx="1396.2" cy="645" r="4.9"/><circle cx="1396.2" cy="650.2" r="4.9"/><circle cx="1396.2" cy="652.9" r="4.9"/><circle cx="1396.2" cy="664.5" r="4.9"/><circle cx="1405" cy="547" r="4.9"/><circle cx="1405" cy="555.3" r="4.9"/><circle cx="1405" cy="564.6" r="4.9"/><circle cx="1405" cy="570.2" r="4.9"/><circle cx="1405" cy="575.8" r="4.9"/><circle cx="1405" cy="581.4" r="4.9"/><circle cx="1405" cy="586.9" r="4.9"/><circle cx="1405" cy="593.4" r="4.9"/><circle cx="1405" cy="607.4" r="4.9"/><circle cx="1405" cy="613" r="4.9"/><circle cx="1405" cy="618.2" r="4.9"/><circle cx="1405" cy="622.8" r="4.9"/><circle cx="1405" cy="626.5" r="4.9"/><circle cx="1405" cy="631.6" r="4.9"/><circle cx="1413.8" cy="547" r="4.9"/><circle cx="1413.8" cy="556.3" r="4.9"/><circle cx="1413.8" cy="611.1" r="4.9"/><circle cx="1413.8" cy="615.8" r="4.9"/><circle cx="1413.8" cy="620.8" r="4.9"/><circle cx="1413.8" cy="626.5" r="4.9"/><circle cx="1413.8" cy="630.5" r="4.9"/><circle cx="1413.8" cy="635.3" r="4.9"/><circle cx="1422.6" cy="555.3" r="4.9"/><circle cx="1422.6" cy="580.4" r="4.9"/><circle cx="1422.6" cy="591.6" r="4.9"/><circle cx="1422.6" cy="603.7" r="4.9"/><circle cx="1422.6" cy="608.6" r="4.9"/><circle cx="1422.6" cy="614.1" r="4.9"/><circle cx="1422.6" cy="617.9" r="4.9"/><circle cx="1422.6" cy="623.1" r="4.9"/><circle cx="1422.6" cy="629.7" r="4.9"/><circle cx="1431.4" cy="536.4" r="4.9"/><circle cx="1431.4" cy="555.3" r="4.9"/><circle cx="1431.4" cy="573.9" r="4.9"/><circle cx="1431.4" cy="585.1" r="4.9"/><circle cx="1431.4" cy="603.7" r="4.9"/><circle cx="1431.4" cy="609.5" r="4.9"/><circle cx="1431.4" cy="615.5" r="4.9"/><circle cx="1431.4" cy="619.6" r="4.9"/><circle cx="1431.4" cy="624.2" r="4.9"/><circle cx="1431.4" cy="629.7" r="4.9"/><circle cx="1440.2" cy="544.2" r="4.9"/><circle cx="1440.2" cy="560.9" r="4.9"/><circle cx="1440.2" cy="578.6" r="4.9"/><circle cx="1440.2" cy="588.8" r="4.9"/><circle cx="1440.2" cy="605.5" r="4.9"/><circle cx="1440.2" cy="610.1" r="4.9"/><circle cx="1440.2" cy="616.7" r="4.9"/><circle cx="1440.2" cy="623.7" r="4.9"/><circle cx="1440.2" cy="627.8" r="4.9"/><circle cx="1449" cy="524.6" r="4.9"/><circle cx="1449" cy="534.9" r="4.9"/><circle cx="1449" cy="544.2" r="4.9"/><circle cx="1449" cy="564.6" r="4.9"/><circle cx="1449" cy="574.9" r="4.9"/><circle cx="1449" cy="581.4" r="4.9"/><circle cx="1449" cy="586.9" r="4.9"/><circle cx="1449" cy="594.4" r="4.9"/><circle cx="1449" cy="601.8" r="4.9"/><circle cx="1449" cy="605.5" r="4.9"/><circle cx="1449" cy="611" r="4.9"/><circle cx="1449" cy="614.9" r="4.9"/><circle cx="1449" cy="620.6" r="4.9"/><circle cx="1449" cy="624.1" r="4.9"/><circle cx="1457.7" cy="533.9" r="4.9"/><circle cx="1457.7" cy="544.2" r="4.9"/><circle cx="1457.7" cy="560.9" r="4.9"/><circle cx="1457.7" cy="573.9" r="4.9"/><circle cx="1457.7" cy="583.2" r="4.9"/><circle cx="1457.7" cy="605.5" r="4.9"/><circle cx="1457.7" cy="610.3" r="4.9"/><circle cx="1457.7" cy="616.7" r="4.9"/><circle cx="1457.7" cy="622.3" r="4.9"/><circle cx="1466.5" cy="573.9" r="4.9"/><circle cx="1466.5" cy="581.4" r="4.9"/><circle cx="1466.5" cy="586.9" r="4.9"/><circle cx="1466.5" cy="593.5" r="4.9"/><circle cx="1466.5" cy="597.6" r="4.9"/><circle cx="1466.5" cy="602.4" r="4.9"/><circle cx="1466.5" cy="607.1" r="4.9"/><circle cx="1466.5" cy="613" r="4.9"/><circle cx="1475.3" cy="541.4" r="4.9"/><circle cx="1475.3" cy="547.9" r="4.9"/><circle cx="1475.3" cy="555.3" r="4.9"/><circle cx="1475.3" cy="572.1" r="4.9"/><circle cx="1475.3" cy="577.6" r="4.9"/><circle cx="1475.3" cy="583.4" r="4.9"/><circle cx="1475.3" cy="590.2" r="4.9"/><circle cx="1475.3" cy="594.4" r="4.9"/><circle cx="1484.1" cy="525.2" r="4.9"/><circle cx="1484.1" cy="563.7" r="4.9"/><circle cx="1484.1" cy="570.2" r="4.9"/><circle cx="1484.1" cy="574.3" r="4.9"/><circle cx="1484.1" cy="582.2" r="4.9"/><circle cx="1484.1" cy="587.9" r="4.9"/><circle cx="1484.1" cy="592.5" r="4.9"/><circle cx="1484.1" cy="512.9" r="4.9"/><circle cx="1492.9" cy="525.2" r="4.9"/><circle cx="1492.9" cy="553.5" r="4.9"/><circle cx="1492.9" cy="566.5" r="4.9"/><circle cx="1492.9" cy="572.3" r="4.9"/><circle cx="1492.9" cy="576.5" r="4.9"/><circle cx="1492.9" cy="581.4" r="4.9"/><circle cx="1492.9" cy="585.1" r="4.9"/><circle cx="1492.9" cy="590.7" r="4.9"/><circle cx="1492.9" cy="515.7" r="4.9"/><circle cx="1501.7" cy="525.2" r="4.9"/><circle cx="1501.7" cy="546" r="4.9"/><circle cx="1501.7" cy="549.8" r="4.9"/><circle cx="1501.7" cy="554.6" r="4.9"/><circle cx="1501.7" cy="559.6" r="4.9"/><circle cx="1501.7" cy="564" r="4.9"/><circle cx="1501.7" cy="567.8" r="4.9"/><circle cx="1501.7" cy="573.9" r="4.9"/><circle cx="1510.5" cy="521.9" r="4.9"/><circle cx="1510.5" cy="529.3" r="4.9"/><circle cx="1510.5" cy="542.3" r="4.9"/><circle cx="1510.5" cy="549" r="4.9"/><circle cx="1510.5" cy="553.7" r="4.9"/><circle cx="1510.5" cy="558.1" r="4.9"/><circle cx="1510.5" cy="564.6" r="4.9"/><circle cx="1519.2" cy="525.6" r="4.9"/><circle cx="1519.2" cy="540.5" r="4.9"/><circle cx="1519.2" cy="546" r="4.9"/><circle cx="1519.2" cy="551.6" r="4.9"/><circle cx="1519.2" cy="556.8" r="4.9"/><circle cx="1519.2" cy="562.8" r="4.9"/><circle cx="1536.8" cy="465.2" r="4.9"/><circle cx="1536.8" cy="481.5" r="4.9"/><circle cx="1536.8" cy="489" r="4.9"/><circle cx="1536.8" cy="500.1" r="4.9"/><circle cx="1536.8" cy="504.3" r="4.9"/><circle cx="1536.8" cy="509.4" r="4.9"/><circle cx="1536.8" cy="526.1" r="4.9"/><circle cx="1545.6" cy="467.9" r="4.9"/><circle cx="1545.6" cy="479.7" r="4.9"/><circle cx="1545.6" cy="484.8" r="4.9"/><circle cx="1545.6" cy="490.1" r="4.9"/><circle cx="1545.6" cy="495.1" r="4.9"/><circle cx="1545.6" cy="499.7" r="4.9"/><circle cx="1545.6" cy="503.4" r="4.9"/><circle cx="1545.6" cy="509.1" r="4.9"/><circle cx="1545.6" cy="514" r="4.9"/><circle cx="1545.6" cy="520.2" r="4.9"/><circle cx="1545.6" cy="526.1" r="4.9"/><circle cx="1545.6" cy="530.1" r="4.9"/><circle cx="1554.4" cy="470.4" r="4.9"/><circle cx="1554.4" cy="476.2" r="4.9"/><circle cx="1554.4" cy="481.2" r="4.9"/><circle cx="1554.4" cy="486.2" r="4.9"/><circle cx="1554.4" cy="489.5" r="4.9"/><circle cx="1554.4" cy="496.3" r="4.9"/><circle cx="1554.4" cy="500.7" r="4.9"/><circle cx="1554.4" cy="503.9" r="4.9"/><circle cx="1554.4" cy="508.7" r="4.9"/><circle cx="1554.4" cy="513.7" r="4.9"/><circle cx="1554.4" cy="520.9" r="4.9"/><circle cx="1554.4" cy="524.3" r="4.9"/><circle cx="1554.4" cy="530.1" r="4.9"/><circle cx="1563.2" cy="471.3" r="4.9"/><circle cx="1563.2" cy="479.7" r="4.9"/><circle cx="1563.2" cy="483.5" r="4.9"/><circle cx="1563.2" cy="490.1" r="4.9"/><circle cx="1563.2" cy="494.3" r="4.9"/><circle cx="1563.2" cy="498.5" r="4.9"/><circle cx="1563.2" cy="503.8" r="4.9"/><circle cx="1563.2" cy="510" r="4.9"/><circle cx="1563.2" cy="513.9" r="4.9"/><circle cx="1563.2" cy="519.3" r="4.9"/><circle cx="1563.2" cy="525.6" r="4.9"/><circle cx="1563.2" cy="530.1" r="4.9"/><circle cx="1571.9" cy="460.1" r="4.9"/><circle cx="1571.9" cy="477.8" r="4.9"/><circle cx="1571.9" cy="482.9" r="4.9"/><circle cx="1571.9" cy="487.7" r="4.9"/><circle cx="1571.9" cy="493.4" r="4.9"/><circle cx="1571.9" cy="497.3" r="4.9"/><circle cx="1571.9" cy="503.6" r="4.9"/><circle cx="1571.9" cy="508.9" r="4.9"/><circle cx="1571.9" cy="513.4" r="4.9"/><circle cx="1571.9" cy="518.4" r="4.9"/><circle cx="1571.9" cy="526" r="4.9"/><circle cx="1571.9" cy="530.1" r="4.9"/><circle cx="1580.7" cy="455.5" r="4.9"/><circle cx="1580.7" cy="459.9" r="4.9"/><circle cx="1580.7" cy="463.3" r="4.9"/><circle cx="1580.7" cy="468.5" r="4.9"/><circle cx="1580.7" cy="483.4" r="4.9"/><circle cx="1580.7" cy="488.9" r="4.9"/><circle cx="1580.7" cy="494.7" r="4.9"/><circle cx="1580.7" cy="497.5" r="4.9"/><circle cx="1580.7" cy="502.7" r="4.9"/><circle cx="1580.7" cy="508.2" r="4.9"/><circle cx="1580.7" cy="515.2" r="4.9"/><circle cx="1580.7" cy="518.7" r="4.9"/><circle cx="1580.7" cy="525.5" r="4.9"/><circle cx="1580.7" cy="530.1" r="4.9"/><circle cx="1589.5" cy="446.2" r="4.9"/><circle cx="1589.5" cy="455.5" r="4.9"/><circle cx="1589.5" cy="461.3" r="4.9"/><circle cx="1589.5" cy="466.2" r="4.9"/><circle cx="1589.5" cy="470.6" r="4.9"/><circle cx="1589.5" cy="478.2" r="4.9"/><circle cx="1589.5" cy="482.9" r="4.9"/><circle cx="1589.5" cy="487.4" r="4.9"/><circle cx="1589.5" cy="492.7" r="4.9"/><circle cx="1589.5" cy="509.4" r="4.9"/><circle cx="1589.5" cy="514.2" r="4.9"/><circle cx="1589.5" cy="521" r="4.9"/><circle cx="1589.5" cy="526.1" r="4.9"/><circle cx="1598.3" cy="444.3" r="4.9"/><circle cx="1598.3" cy="448.7" r="4.9"/><circle cx="1598.3" cy="453.6" r="4.9"/><circle cx="1598.3" cy="464.8" r="4.9"/><circle cx="1598.3" cy="469.7" r="4.9"/><circle cx="1598.3" cy="473.5" r="4.9"/><circle cx="1598.3" cy="479.1" r="4.9"/><circle cx="1598.3" cy="482.1" r="4.9"/><circle cx="1598.3" cy="487.4" r="4.9"/><circle cx="1598.3" cy="492.7" r="4.9"/><circle cx="1598.3" cy="509.4" r="4.9"/><circle cx="1598.3" cy="515.2" r="4.9"/><circle cx="1598.3" cy="519.2" r="4.9"/><circle cx="1598.3" cy="522.4" r="4.9"/><circle cx="1607.1" cy="429.1" r="4.9"/><circle cx="1607.1" cy="452.1" r="4.9"/><circle cx="1607.1" cy="471.3" r="4.9"/><circle cx="1607.1" cy="483.4" r="4.9"/><circle cx="1607.1" cy="489" r="4.9"/><circle cx="1607.1" cy="500.1" r="4.9"/><circle cx="1607.1" cy="505.7" r="4.9"/><circle cx="1607.1" cy="518.3" r="4.9"/><circle cx="1615.9" cy="437.8" r="4.9"/><circle cx="1615.9" cy="444.3" r="4.9"/><circle cx="1615.9" cy="481.5" r="4.9"/><circle cx="1615.9" cy="487.1" r="4.9"/><circle cx="1615.9" cy="496.4" r="4.9"/><circle cx="1615.9" cy="502" r="4.9"/><circle cx="1615.9" cy="513.5" r="4.9"/><circle cx="1624.7" cy="409" r="4.9"/><circle cx="1624.7" cy="425.2" r="4.9"/><circle cx="1624.7" cy="444.3" r="4.9"/><circle cx="1624.7" cy="449" r="4.9"/><circle cx="1624.7" cy="455.9" r="4.9"/><circle cx="1624.7" cy="459.6" r="4.9"/><circle cx="1624.7" cy="466.7" r="4.9"/><circle cx="1624.7" cy="471.4" r="4.9"/><circle cx="1624.7" cy="475.9" r="4.9"/><circle cx="1624.7" cy="490.8" r="4.9"/><circle cx="1633.4" cy="366.8" r="4.9"/><circle cx="1633.4" cy="382.4" r="4.9"/><circle cx="1633.4" cy="397.8" r="4.9"/><circle cx="1633.4" cy="402.6" r="4.9"/><circle cx="1633.4" cy="407" r="4.9"/><circle cx="1633.4" cy="412.7" r="4.9"/><circle cx="1633.4" cy="455.5" r="4.9"/><circle cx="1642.2" cy="362.5" r="4.9"/><circle cx="1642.2" cy="365.7" r="4.9"/><circle cx="1642.2" cy="371.8" r="4.9"/><circle cx="1642.2" cy="383" r="4.9"/><circle cx="1642.2" cy="388.5" r="4.9"/><circle cx="1642.2" cy="397.5" r="4.9"/><circle cx="1642.2" cy="445.3" r="4.9"/><circle cx="1642.2" cy="451" r="4.9"/><circle cx="1642.2" cy="454.6" r="4.9"/><circle cx="1651" cy="358.8" r="4.9"/><circle cx="1651" cy="362.1" r="4.9"/><circle cx="1651" cy="368.1" r="4.9"/><circle cx="1651" cy="383" r="4.9"/><circle cx="1651" cy="388.6" r="4.9"/><circle cx="1651" cy="392.3" r="4.9"/><circle cx="1651" cy="408.6" r="4.9"/><circle cx="1651" cy="424.8" r="4.9"/><circle cx="1659.8" cy="299.3" r="4.9"/><circle cx="1659.8" cy="310.1" r="4.9"/><circle cx="1659.8" cy="320.7" r="4.9"/><circle cx="1659.8" cy="326.7" r="4.9"/><circle cx="1659.8" cy="330.2" r="4.9"/><circle cx="1659.8" cy="334.6" r="4.9"/><circle cx="1659.8" cy="415.5" r="4.9"/><circle cx="1659.8" cy="424.8" r="4.9"/><circle cx="1668.6" cy="295.6" r="4.9"/><circle cx="1668.6" cy="300.2" r="4.9"/><circle cx="1668.6" cy="306.7" r="4.9"/><circle cx="1668.6" cy="340.2" r="4.9"/><circle cx="1677.4" cy="296.5" r="4.9"/><circle cx="1677.4" cy="303.9" r="4.9"/><circle cx="1677.4" cy="318.8" r="4.9"/><circle cx="1677.4" cy="324.4" r="4.9"/><circle cx="1677.4" cy="364" r="4.9"/><circle cx="1677.4" cy="407.1" r="4.9"/><circle cx="1677.4" cy="425.7" r="4.9"/><circle cx="1686.2" cy="300.2" r="4.9"/><circle cx="1686.2" cy="314.7" r="4.9"/><circle cx="1686.2" cy="327.7" r="4.9"/><circle cx="1686.2" cy="419.8" r="4.9"/><circle cx="1694.9" cy="294.6" r="4.9"/><circle cx="1694.9" cy="308.6" r="4.9"/><circle cx="1694.9" cy="317.9" r="4.9"/><circle cx="1694.9" cy="370.9" r="4.9"/><circle cx="1694.9" cy="387.6" r="4.9"/><circle cx="1694.9" cy="399.7" r="4.9"/><circle cx="1703.7" cy="292.8" r="4.9"/><circle cx="1703.7" cy="299.2" r="4.9"/><circle cx="1703.7" cy="304.9" r="4.9"/><circle cx="1703.7" cy="309.4" r="4.9"/><circle cx="1703.7" cy="314.2" r="4.9"/><circle cx="1703.7" cy="326.3" r="4.9"/><circle cx="1703.7" cy="389.9" r="4.9"/><circle cx="1703.7" cy="453.6" r="4.9"/><circle cx="1712.5" cy="291.9" r="4.9"/><circle cx="1712.5" cy="296.5" r="4.9"/><circle cx="1712.5" cy="301.2" r="4.9"/><circle cx="1712.5" cy="308.6" r="4.9"/><circle cx="1712.5" cy="313.8" r="4.9"/><circle cx="1712.5" cy="319.8" r="4.9"/><circle cx="1712.5" cy="348.9" r="4.9"/><circle cx="1712.5" cy="458.7" r="4.9"/><circle cx="1721.3" cy="292.8" r="4.9"/><circle cx="1721.3" cy="304.9" r="4.9"/><circle cx="1721.3" cy="310" r="4.9"/><circle cx="1721.3" cy="315.1" r="4.9"/><circle cx="1721.3" cy="321.6" r="4.9"/><circle cx="1721.3" cy="379.8" r="4.9"/><circle cx="1730.1" cy="294.6" r="4.9"/><circle cx="1730.1" cy="307.3" r="4.9"/><circle cx="1738.9" cy="299.3" r="4.9"/><circle cx="1738.9" cy="304.9" r="4.9"/><circle cx="1747.6" cy="292.8" r="4.9"/><circle cx="1747.6" cy="329" r="4.9"/><circle cx="1747.6" cy="360.1" r="4.9"/><circle cx="1747.6" cy="395.6" r="4.9"/><circle cx="1756.4" cy="297.4" r="4.9"/><circle cx="1756.4" cy="330.5" r="4.9"/><circle cx="1756.4" cy="395.6" r="4.9"/><circle cx="1765.2" cy="315.5" r="4.9"/><circle cx="1774" cy="291.9" r="4.9"/><circle cx="1774" cy="340.2" r="4.9"/><circle cx="1782.8" cy="308" r="4.9"/><circle cx="1782.8" cy="349.9" r="4.9"/><circle cx="1782.8" cy="391.3" r="4.9"/><circle cx="1791.6" cy="310.8" r="4.9"/><circle cx="1791.6" cy="353.2" r="4.9"/><circle cx="1791.6" cy="366.2" r="4.9"/><circle cx="1800.4" cy="298.7" r="4.9"/><circle cx="1809.1" cy="331.5" r="4.9"/><circle cx="1809.1" cy="426.7" r="4.9"/><circle cx="1536.8" cy="533.7" r="4.9"/><circle cx="1536.8" cy="538.2" r="4.9"/><circle cx="1536.8" cy="543.7" r="4.9"/><circle cx="1545.6" cy="537.2" r="4.9"/><circle cx="1545.6" cy="541.3" r="4.9"/><circle cx="1545.6" cy="546.5" r="4.9"/><circle cx="1554.4" cy="506" r="4.9"/><circle cx="1554.4" cy="511" r="4.9"/><circle cx="1554.4" cy="518.6" r="4.9"/><circle cx="1554.4" cy="535" r="4.9"/><circle cx="1554.4" cy="539" r="4.9"/><circle cx="1563.2" cy="516" r="4.9"/><circle cx="1563.2" cy="521.7" r="4.9"/><circle cx="1563.2" cy="537.3" r="4.9"/><circle cx="1563.2" cy="541.9" r="4.9"/><circle cx="1563.2" cy="546.5" r="4.9"/><circle cx="1571.9" cy="500" r="4.9"/><circle cx="1571.9" cy="520.8" r="4.9"/><circle cx="1580.7" cy="500" r="4.9"/><circle cx="1580.7" cy="520.7" r="4.9"/><circle cx="1677.4" cy="270.8" r="4.9"/><circle cx="1677.4" cy="275.1" r="4.9"/><circle cx="1677.4" cy="279.6" r="4.9"/><circle cx="1677.4" cy="284.1" r="4.9"/><circle cx="1677.4" cy="289.4" r="4.9"/><circle cx="1677.4" cy="300.6" r="4.9"/><circle cx="1686.2" cy="240.7" r="4.9"/><circle cx="1686.2" cy="248.5" r="4.9"/><circle cx="1686.2" cy="285.7" r="4.9"/><circle cx="1694.9" cy="271.2" r="4.9"/><circle cx="1694.9" cy="286.6" r="4.9"/><circle cx="1703.7" cy="281.6" r="4.9"/><circle cx="1712.5" cy="237" r="4.9"/><circle cx="1712.5" cy="266.2" r="4.9"/><circle cx="1712.5" cy="289.4" r="4.9"/><circle cx="1712.5" cy="303.8" r="4.9"/><circle cx="1721.3" cy="245.7" r="4.9"/><circle cx="1721.3" cy="276" r="4.9"/><circle cx="1721.3" cy="285.7" r="4.9"/><circle cx="1730.1" cy="242.9" r="4.9"/><circle cx="1730.1" cy="264.3" r="4.9"/><circle cx="1730.1" cy="271.7" r="4.9"/><circle cx="1730.1" cy="277" r="4.9"/><circle cx="1730.1" cy="282" r="4.9"/><circle cx="1738.9" cy="271.2" r="4.9"/><circle cx="1738.9" cy="280.1" r="4.9"/><circle cx="1738.9" cy="287.6" r="4.9"/><circle cx="1747.6" cy="254.6" r="4.9"/><circle cx="1747.6" cy="261.5" r="4.9"/><circle cx="1747.6" cy="269" r="4.9"/><circle cx="1756.4" cy="197" r="4.9"/><circle cx="1756.4" cy="227.1" r="4.9"/><circle cx="1756.4" cy="234.6" r="4.9"/><circle cx="1756.4" cy="244.8" r="4.9"/><circle cx="1756.4" cy="248.5" r="4.9"/><circle cx="1756.4" cy="260.2" r="4.9"/><circle cx="1765.2" cy="224.3" r="4.9"/><circle cx="1765.2" cy="240.1" r="4.9"/><circle cx="1765.2" cy="244.8" r="4.9"/><circle cx="1765.2" cy="254.1" r="4.9"/><circle cx="1765.2" cy="260.6" r="4.9"/><circle cx="1765.2" cy="282" r="4.9"/><circle cx="1774" cy="188.1" r="4.9"/><circle cx="1774" cy="192" r="4.9"/><circle cx="1774" cy="196.9" r="4.9"/><circle cx="1774" cy="202.1" r="4.9"/><circle cx="1774" cy="209.6" r="4.9"/><circle cx="1774" cy="214.5" r="4.9"/><circle cx="1774" cy="218.8" r="4.9"/><circle cx="1774" cy="227.7" r="4.9"/><circle cx="1774" cy="242.9" r="4.9"/><circle cx="1774" cy="248.5" r="4.9"/><circle cx="1774" cy="286.6" r="4.9"/><circle cx="1782.8" cy="179.7" r="4.9"/><circle cx="1782.8" cy="185.3" r="4.9"/><circle cx="1782.8" cy="203.9" r="4.9"/><circle cx="1782.8" cy="211.3" r="4.9"/><circle cx="1782.8" cy="225.3" r="4.9"/><circle cx="1782.8" cy="229" r="4.9"/><circle cx="1782.8" cy="264.9" r="4.9"/><circle cx="1782.8" cy="280.5" r="4.9"/><circle cx="1791.6" cy="113.1" r="4.9"/><circle cx="1791.6" cy="131.4" r="4.9"/><circle cx="1791.6" cy="157.4" r="4.9"/><circle cx="1791.6" cy="178.8" r="4.9"/><circle cx="1791.6" cy="184.9" r="4.9"/><circle cx="1791.6" cy="189" r="4.9"/><circle cx="1791.6" cy="198.3" r="4.9"/><circle cx="1791.6" cy="209.1" r="4.9"/><circle cx="1800.4" cy="144.4" r="4.9"/><circle cx="1800.4" cy="149.9" r="4.9"/><circle cx="1800.4" cy="156.5" r="4.9"/><circle cx="1800.4" cy="171.9" r="4.9"/><circle cx="1800.4" cy="186.8" r="4.9"/><circle cx="1809.1" cy="98.8" r="4.9"/><circle cx="1809.1" cy="132.3" r="4.9"/><circle cx="1809.1" cy="150" r="4.9"/><circle cx="1809.1" cy="155.5" r="4.9"/><circle cx="1809.1" cy="162" r="4.9"/><circle cx="1809.1" cy="171.3" r="4.9"/><circle cx="1809.1" cy="215" r="4.9"/><circle cx="1809.1" cy="222.5" r="4.9"/><circle cx="1809.1" cy="242" r="4.9"/><circle cx="1809.1" cy="247.9" r="4.9"/><circle cx="1809.1" cy="254" r="4.9"/><circle cx="1809.1" cy="258.7" r="4.9"/><circle cx="1817.9" cy="128.9" r="4.9"/><circle cx="1817.9" cy="147.7" r="4.9"/><circle cx="1817.9" cy="177.5" r="4.9"/><circle cx="1817.9" cy="189" r="4.9"/><circle cx="1817.9" cy="193.3" r="4.9"/><circle cx="1817.9" cy="198.3" r="4.9"/><circle cx="1817.9" cy="204.8" r="4.9"/><circle cx="1817.9" cy="209.2" r="4.9"/><circle cx="1817.9" cy="213.2" r="4.9"/><circle cx="1826.7" cy="133.8" r="4.9"/><circle cx="1826.7" cy="157.4" r="4.9"/><circle cx="1826.7" cy="161.2" r="4.9"/><circle cx="1826.7" cy="165.4" r="4.9"/><circle cx="1826.7" cy="170.6" r="4.9"/><circle cx="1826.7" cy="176" r="4.9"/><circle cx="1826.7" cy="188.6" r="4.9"/><circle cx="1826.7" cy="227.1" r="4.9"/><circle cx="1835.5" cy="124.5" r="4.9"/><circle cx="1835.5" cy="136" r="4.9"/><circle cx="1835.5" cy="142.5" r="4.9"/><circle cx="1835.5" cy="287.9" r="4.9"/><circle cx="1844.3" cy="128.6" r="4.9"/><circle cx="1844.3" cy="165.8" r="4.9"/><circle cx="1844.3" cy="181.9" r="4.9"/><circle cx="1844.3" cy="227.7" r="4.9"/><circle cx="1853.1" cy="152.7" r="4.9"/><circle cx="1853.1" cy="168.5" r="4.9"/><circle cx="1853.1" cy="171.3" r="4.9"/><circle cx="1853.1" cy="198.3" r="4.9"/><circle cx="1853.1" cy="286.6" r="4.9"/><circle cx="1861.8" cy="179.7" r="4.9"/><circle cx="1861.8" cy="186.2" r="4.9"/><circle cx="1861.8" cy="260" r="4.9"/><circle cx="1870.6" cy="188.6" r="4.9"/><circle cx="1870.6" cy="227.1" r="4.9"/><circle cx="1879.4" cy="207.2" r="4.9"/><circle cx="1879.4" cy="247.9" r="4.9"/><circle cx="1879.4" cy="278.3" r="4.9"/><circle cx="1888.2" cy="177.8" r="4.9"/><circle cx="1888.2" cy="216.9" r="4.9"/><circle cx="1888.2" cy="235.1" r="4.9"/><circle cx="1897" cy="256.3" r="4.9"/><circle cx="1905.8" cy="262.1" r="4.9"/><circle cx="1932.1" cy="222.5" r="4.9"/><circle cx="1932.1" cy="255.9" r="4.9"/><circle cx="1844.3" cy="401.3" r="4.9"/><circle cx="1835.5" cy="430" r="4.9"/><circle cx="1914.6" cy="321.4" r="4.9"/><circle cx="1914.6" cy="432.9" r="4.9"/><circle cx="1897" cy="685" r="4.9"/><circle cx="1501.7" cy="500.4" r="4.9"/><circle cx="1501.7" cy="506" r="4.9"/><circle cx="1510.5" cy="506" r="4.9"/><circle cx="1510.5" cy="510.7" r="4.9"/><circle cx="1510.5" cy="518.1" r="4.9"/><circle cx="1519.2" cy="494.9" r="4.9"/><circle cx="1519.2" cy="501.4" r="4.9"/><circle cx="1519.2" cy="507.9" r="4.9"/><circle cx="1519.2" cy="514.4" r="4.9"/><circle cx="1519.2" cy="520" r="4.9"/><circle cx="1528" cy="510.7" r="4.9"/><circle cx="1528" cy="520" r="4.9"/><circle cx="1528" cy="527.4" r="4.9"/><circle cx="1528" cy="534.8" r="4.9"/><circle cx="1528" cy="541.6" r="4.9"/><circle cx="1528" cy="546.2" r="4.9"/><circle cx="1528" cy="552.8" r="4.9"/><circle cx="1528" cy="557.1" r="4.9"/>
</g>
<path d="M1207.6 742V727.3H1223.44V717.5H1239.29V731H1255.14V720.8H1270.99V723.6H1286.84V720.3H1302.68V716.5H1318.53V733.5H1334.38V713.4H1350.23V718H1366.08V714.7H1381.92V716.2H1397.77V728.3H1413.62V724H1429.47V719.3H1445.32V718.2H1461.16V720.3H1477.01V732H1492.86V715.2H1508.71V716.2H1524.56V727.2H1540.4V715.1H1556.25V721.3H1572.1V729.1H1587.95V718.5H1603.8V728.2H1619.64V727.2H1635.49V731.9H1651.34V737.6H1667.19V730.2H1683.04V732.1H1698.88V730.9H1714.73V732.8H1730.58V738.9H1746.43V732.4H1762.28V731.9H1778.12V728.8H1793.97V731.8H1809.82V738H1825.67V735.4H1841.52V737.2H1857.36V739.4H1873.21V738.3H1889.06V742Z" fill="#000" fill-opacity="0.1"/>
<g stroke="#000" stroke-width="2.2" fill="none">
<path d="M1175.9 68.5V742H1968.3" stroke-linecap="square"/>
</g>
<path d="M1246.9 742v8.8M1422.6 742v8.8M1598.3 742v8.8M1774 742v8.8M1949.7 742v8.8M1175.9 127h-8.8M1175.9 225.4h-8.8M1175.9 323.9h-8.8M1175.9 422.3h-8.8M1175.9 520.8h-8.8M1175.9 619.2h-8.8M1175.9 717.7h-8.8" stroke="#333" stroke-width="2.2" fill="none"/>
<g class="tk" text-anchor="middle">
<text x="1246.9" y="778.2">20</text>
<text x="1422.6" y="778.2">40</text>
<text x="1598.3" y="778.2">60</text>
<text x="1774" y="778.2">80</text>
<text x="1949.7" y="778.2">100</text>
</g>
<g class="tk" text-anchor="end">
<text x="1159.5" y="137.2">0.20</text>
<text x="1159.5" y="235.6">0.15</text>
<text x="1159.5" y="334.1">0.10</text>
<text x="1159.5" y="432.5">0.05</text>
<text x="1159.5" y="531">0.00</text>
<text x="1159.5" y="629.5">−0.05</text>
<text x="1159.5" y="727.9">−0.10</text>
</g>
<text class="lb" text-anchor="middle" x="1572.1" y="815">Age</text>
<text class="lb" text-anchor="middle" transform="translate(1032.2 405.2) rotate(-90)">SHAP value for</text>
<text class="lb" text-anchor="middle" transform="translate(1066.3 405.2) rotate(-90)">Age</text>
<text class="pl" x="1072.8" y="29.5">b</text>
</g>
<g class="panel">
<g fill="#1e88e5">
<circle cx="414.9" cy="1117.8" r="4.9"/><circle cx="364" cy="1110.9" r="4.9"/><circle cx="330.1" cy="1117.1" r="4.9"/><circle cx="330.1" cy="1127.3" r="4.9"/><circle cx="304.6" cy="1111.9" r="4.9"/><circle cx="317.3" cy="1110" r="4.9"/><circle cx="304.6" cy="1123.4" r="4.9"/><circle cx="304.6" cy="1130.8" r="4.9"/><circle cx="355.5" cy="1135.1" r="4.9"/><circle cx="397.9" cy="1133.8" r="4.9"/><circle cx="414.9" cy="1132.7" r="4.9"/><circle cx="423.4" cy="1136.6" r="4.9"/><circle cx="414.9" cy="1143.8" r="4.9"/><circle cx="330.1" cy="1141.6" r="4.9"/><circle cx="364" cy="1144" r="4.9"/><circle cx="372.5" cy="1149.4" r="4.9"/><circle cx="381" cy="1150.2" r="4.9"/><circle cx="334.3" cy="1154.3" r="4.9"/><circle cx="321.6" cy="1158" r="4.9"/><circle cx="330.1" cy="1166.2" r="4.9"/><circle cx="351.3" cy="1165.8" r="4.9"/><circle cx="372.5" cy="1164.3" r="4.9"/><circle cx="372.5" cy="1169.1" r="4.9"/><circle cx="457.3" cy="1156.1" r="4.9"/><circle cx="457.3" cy="1167.6" r="4.9"/><circle cx="457.3" cy="1176" r="4.9"/><circle cx="465.8" cy="1175.1" r="4.9"/><circle cx="389.4" cy="1186.8" r="4.9"/><circle cx="431.9" cy="1198.9" r="4.9"/><circle cx="440.4" cy="1216.7" r="4.9"/><circle cx="330.1" cy="1206.7" r="4.9"/><circle cx="304.6" cy="1180.3" r="4.9"/><circle cx="304.6" cy="1195" r="4.9"/><circle cx="296.1" cy="1170.4" r="4.9"/><circle cx="296.1" cy="1190.3" r="4.9"/><circle cx="381" cy="937.7" r="4.9"/><circle cx="296.1" cy="949.8" r="4.9"/><circle cx="321.6" cy="950.8" r="4.9"/><circle cx="372.5" cy="969.7" r="4.9"/><circle cx="414.9" cy="979.6" r="4.9"/><circle cx="330.1" cy="986.8" r="4.9"/><circle cx="321.6" cy="990.2" r="4.9"/><circle cx="372.5" cy="985.5" r="4.9"/><circle cx="381" cy="991.1" r="4.9"/><circle cx="296.1" cy="993.9" r="4.9"/><circle cx="347" cy="994.8" r="4.9"/><circle cx="470" cy="995.6" r="4.9"/><circle cx="419.1" cy="999.5" r="4.9"/><circle cx="338.5" cy="1009.3" r="4.9"/><circle cx="389.4" cy="1007.8" r="4.9"/><circle cx="397.9" cy="1009" r="4.9"/><circle cx="338.5" cy="1017.1" r="4.9"/><circle cx="313.1" cy="1018.6" r="4.9"/><circle cx="364" cy="1017.9" r="4.9"/><circle cx="372.5" cy="1019.4" r="4.9"/><circle cx="404.7" cy="1018.6" r="4.9"/><circle cx="321.6" cy="1023.7" r="4.9"/><circle cx="330.1" cy="1030.2" r="4.9"/><circle cx="372.5" cy="1030.2" r="4.9"/><circle cx="372.5" cy="1035.2" r="4.9"/><circle cx="457.3" cy="1032" r="4.9"/><circle cx="287.6" cy="1035.7" r="4.9"/><circle cx="402.2" cy="1035.7" r="4.9"/><circle cx="330.1" cy="1043.2" r="4.9"/><circle cx="330.1" cy="1047.8" r="4.9"/><circle cx="347" cy="1045" r="4.9"/><circle cx="372.5" cy="1045.6" r="4.9"/><circle cx="389.4" cy="1042.6" r="4.9"/><circle cx="397.9" cy="1049.3" r="4.9"/><circle cx="279.2" cy="1055.8" r="4.9"/><circle cx="287.6" cy="1053.4" r="4.9"/><circle cx="330.1" cy="1054.3" r="4.9"/><circle cx="334.3" cy="1056.7" r="4.9"/><circle cx="355.5" cy="1059.2" r="4.9"/><circle cx="397.9" cy="1059.9" r="4.9"/><circle cx="287.6" cy="1064.6" r="4.9"/><circle cx="287.6" cy="1067.3" r="4.9"/><circle cx="321.6" cy="1066.8" r="4.9"/><circle cx="465.8" cy="1064" r="4.9"/><circle cx="457.3" cy="1067.3" r="4.9"/><circle cx="448.8" cy="1073.9" r="4.9"/><circle cx="457.3" cy="1074.8" r="4.9"/><circle cx="470" cy="1075.7" r="4.9"/><circle cx="330.1" cy="1076.6" r="4.9"/><circle cx="325.8" cy="1079.1" r="4.9"/><circle cx="330.1" cy="1081.9" r="4.9"/><circle cx="372.5" cy="1076.6" r="4.9"/><circle cx="397.9" cy="1078.9" r="4.9"/><circle cx="359.8" cy="1086.5" r="4.9"/><circle cx="457.3" cy="1091.5" r="4.9"/><circle cx="287.6" cy="1093.4" r="4.9"/><circle cx="279.2" cy="1097.5" r="4.9"/><circle cx="287.6" cy="1102.1" r="4.9"/><circle cx="332.6" cy="1099.3" r="4.9"/><circle cx="364" cy="1104.5" r="4.9"/><circle cx="262.2" cy="1107.9" r="4.9"/><circle cx="270.7" cy="1107.3" r="4.9"/><circle cx="304.6" cy="1106.4" r="4.9"/><circle cx="270.7" cy="1113.8" r="4.9"/><circle cx="253.7" cy="1114.8" r="4.9"/><circle cx="279.2" cy="1117" r="4.9"/><circle cx="287.6" cy="1116.6" r="4.9"/><circle cx="270.7" cy="1121.3" r="4.9"/><circle cx="287.6" cy="1122.2" r="4.9"/><circle cx="253.7" cy="1125.9" r="4.9"/><circle cx="262.2" cy="1126.5" r="4.9"/><circle cx="287.6" cy="1130.6" r="4.9"/><circle cx="262.2" cy="1137.1" r="4.9"/><circle cx="270.7" cy="1138" r="4.9"/><circle cx="482.8" cy="971.7" r="4.9"/><circle cx="482.8" cy="1015.8" r="4.9"/><circle cx="499.7" cy="1032.4" r="4.9"/><circle cx="660.9" cy="1029.2" r="4.9"/><circle cx="610" cy="1046.3" r="4.9"/><circle cx="491.3" cy="1057.7" r="4.9"/><circle cx="482.8" cy="1069.6" r="4.9"/><circle cx="618.5" cy="1070.7" r="4.9"/><circle cx="644" cy="1071.3" r="4.9"/><circle cx="686.4" cy="1080" r="4.9"/><circle cx="762.7" cy="1089.9" r="4.9"/><circle cx="796.7" cy="1086.4" r="4.9"/><circle cx="796.7" cy="1105.3" r="4.9"/><circle cx="495.5" cy="1094.3" r="4.9"/><circle cx="516.7" cy="1103.3" r="4.9"/><circle cx="533.7" cy="1099.8" r="4.9"/><circle cx="542.2" cy="1108.5" r="4.9"/><circle cx="601.5" cy="1107.6" r="4.9"/><circle cx="584.6" cy="1117.5" r="4.9"/><circle cx="499.7" cy="1130.9" r="4.9"/><circle cx="499.7" cy="1141.6" r="4.9"/><circle cx="516.7" cy="1141.9" r="4.9"/><circle cx="478.5" cy="1151.8" r="4.9"/><circle cx="601.5" cy="1150.9" r="4.9"/><circle cx="627" cy="1153.2" r="4.9"/><circle cx="711.8" cy="1152.4" r="4.9"/><circle cx="923.9" cy="1144.2" r="4.9"/><circle cx="537.9" cy="1155.9" r="4.9"/><circle cx="542.2" cy="1165.5" r="4.9"/><circle cx="542.2" cy="1171" r="4.9"/><circle cx="491.3" cy="1181.1" r="4.9"/><circle cx="499.7" cy="1184" r="4.9"/><circle cx="669.4" cy="1204.1" r="4.9"/><circle cx="703.4" cy="1205.3" r="4.9"/><circle cx="487" cy="1217.5" r="4.9"/><circle cx="224" cy="1341.9" r="4.9"/><circle cx="228.3" cy="1348.4" r="4.9"/><circle cx="236.7" cy="1350.2" r="4.9"/><circle cx="219.8" cy="1365.1" r="4.9"/><circle cx="211.3" cy="1447.5" r="4.9"/><circle cx="215.5" cy="1412.5" r="4.9"/><circle cx="215.5" cy="1428.3" r="4.9"/><circle cx="215.5" cy="1441.3" r="4.9"/><circle cx="207" cy="1518.5" r="4.9"/><circle cx="207" cy="1528.7" r="4.9"/><circle cx="215.5" cy="1468.3" r="4.9"/><circle cx="215.5" cy="1481.3" r="4.9"/><circle cx="287.6" cy="1145.3" r="4.9"/><circle cx="287.6" cy="1153.1" r="4.9"/><circle cx="287.6" cy="1165.8" r="4.9"/><circle cx="287.6" cy="1171.4" r="4.9"/><circle cx="287.6" cy="1174.6" r="4.9"/><circle cx="287.6" cy="1180.4" r="4.9"/><circle cx="287.6" cy="1184.3" r="4.9"/><circle cx="287.6" cy="1187.1" r="4.9"/><circle cx="287.6" cy="1191.8" r="4.9"/><circle cx="287.6" cy="1212.3" r="4.9"/><circle cx="287.6" cy="1222.5" r="4.9"/><circle cx="287.6" cy="1242.4" r="4.9"/><circle cx="287.6" cy="1292.2" r="4.9"/><circle cx="283.4" cy="1221.6" r="4.9"/><circle cx="283.4" cy="1238.3" r="4.9"/><circle cx="283.4" cy="1257.8" r="4.9"/><circle cx="279.2" cy="1162.1" r="4.9"/><circle cx="279.2" cy="1186.2" r="4.9"/><circle cx="279.2" cy="1190.9" r="4.9"/><circle cx="279.2" cy="1195.5" r="4.9"/><circle cx="270.7" cy="1185.3" r="4.9"/><circle cx="270.7" cy="1188.4" r="4.9"/><circle cx="270.7" cy="1191.8" r="4.9"/><circle cx="270.7" cy="1206.3" r="4.9"/><circle cx="270.7" cy="1238.3" r="4.9"/><circle cx="270.7" cy="1280.7" r="4.9"/><circle cx="274.9" cy="1210.4" r="4.9"/><circle cx="262.2" cy="1162.1" r="4.9"/><circle cx="262.2" cy="1172.3" r="4.9"/><circle cx="262.2" cy="1186.2" r="4.9"/><circle cx="262.2" cy="1223.1" r="4.9"/><circle cx="262.2" cy="1231.8" r="4.9"/><circle cx="266.4" cy="1255" r="4.9"/><circle cx="253.7" cy="1143.5" r="4.9"/><circle cx="253.7" cy="1152.8" r="4.9"/><circle cx="253.7" cy="1163.9" r="4.9"/><circle cx="253.7" cy="1179.7" r="4.9"/><circle cx="253.7" cy="1183.4" r="4.9"/><circle cx="253.7" cy="1197.4" r="4.9"/><circle cx="253.7" cy="1204.8" r="4.9"/><circle cx="253.7" cy="1276.4" r="4.9"/><circle cx="257.9" cy="1160.2" r="4.9"/><circle cx="257.9" cy="1196.5" r="4.9"/><circle cx="257.9" cy="1283.9" r="4.9"/><circle cx="245.2" cy="1148.1" r="4.9"/><circle cx="245.2" cy="1169.5" r="4.9"/><circle cx="245.2" cy="1174" r="4.9"/><circle cx="245.2" cy="1178.6" r="4.9"/><circle cx="245.2" cy="1181.1" r="4.9"/><circle cx="245.2" cy="1185.1" r="4.9"/><circle cx="245.2" cy="1191.2" r="4.9"/><circle cx="245.2" cy="1194.4" r="4.9"/><circle cx="245.2" cy="1199.4" r="4.9"/><circle cx="245.2" cy="1203" r="4.9"/><circle cx="245.2" cy="1211.3" r="4.9"/><circle cx="245.2" cy="1227.1" r="4.9"/><circle cx="245.2" cy="1233.7" r="4.9"/><circle cx="245.2" cy="1263.4" r="4.9"/><circle cx="245.2" cy="1272.7" r="4.9"/><circle cx="245.2" cy="1282.9" r="4.9"/><circle cx="245.2" cy="1290" r="4.9"/><circle cx="245.2" cy="1305.2" r="4.9"/><circle cx="245.2" cy="1307.8" r="4.9"/><circle cx="245.2" cy="1312.7" r="4.9"/><circle cx="236.7" cy="1171.4" r="4.9"/><circle cx="236.7" cy="1175.1" r="4.9"/><circle cx="236.7" cy="1179.7" r="4.9"/><circle cx="236.7" cy="1182.4" r="4.9"/><circle cx="236.7" cy="1188" r="4.9"/><circle cx="236.7" cy="1191.8" r="4.9"/><circle cx="236.7" cy="1197.4" r="4.9"/><circle cx="236.7" cy="1202.6" r="4.9"/><circle cx="236.7" cy="1207.4" r="4.9"/><circle cx="236.7" cy="1210" r="4.9"/><circle cx="236.7" cy="1214.1" r="4.9"/><circle cx="236.7" cy="1217.8" r="4.9"/><circle cx="236.7" cy="1221.1" r="4.9"/><circle cx="236.7" cy="1225.6" r="4.9"/><circle cx="236.7" cy="1228.6" r="4.9"/><circle cx="236.7" cy="1233" r="4.9"/><circle cx="236.7" cy="1237.5" r="4.9"/><circle cx="236.7" cy="1241.6" r="4.9"/><circle cx="236.7" cy="1245" r="4.9"/><circle cx="236.7" cy="1248.9" r="4.9"/><circle cx="236.7" cy="1252.9" r="4.9"/><circle cx="236.7" cy="1257.4" r="4.9"/><circle cx="236.7" cy="1261" r="4.9"/><circle cx="236.7" cy="1264.3" r="4.9"/><circle cx="236.7" cy="1270.2" r="4.9"/><circle cx="236.7" cy="1273.5" r="4.9"/><circle cx="236.7" cy="1277.3" r="4.9"/><circle cx="236.7" cy="1284.8" r="4.9"/><circle cx="236.7" cy="1313.6" r="4.9"/><circle cx="236.7" cy="1330.3" r="4.9"/><circle cx="236.7" cy="1335.9" r="4.9"/><circle cx="232.5" cy="1223.1" r="4.9"/><circle cx="232.5" cy="1267.1" r="4.9"/><circle cx="232.5" cy="1271.8" r="4.9"/><circle cx="228.3" cy="1310.8" r="4.9"/><circle cx="228.3" cy="1315.1" r="4.9"/><circle cx="228.3" cy="1317.9" r="4.9"/><circle cx="228.3" cy="1323.8" r="4.9"/><circle cx="228.3" cy="1327.4" r="4.9"/><circle cx="228.3" cy="1329.5" r="4.9"/><circle cx="228.3" cy="1334" r="4.9"/><circle cx="228.3" cy="1338.8" r="4.9"/><circle cx="228.3" cy="1342.7" r="4.9"/><circle cx="202.8" cy="1472" r="4.9"/><circle cx="202.8" cy="1475.7" r="4.9"/><circle cx="202.8" cy="1480.6" r="4.9"/><circle cx="202.8" cy="1484.1" r="4.9"/><circle cx="202.8" cy="1487.2" r="4.9"/><circle cx="202.8" cy="1491.8" r="4.9"/><circle cx="202.8" cy="1496.4" r="4.9"/><circle cx="202.8" cy="1500.2" r="4.9"/><circle cx="202.8" cy="1503.3" r="4.9"/><circle cx="202.8" cy="1507.4" r="4.9"/><circle cx="202.8" cy="1510" r="4.9"/><circle cx="202.8" cy="1514.4" r="4.9"/><circle cx="202.8" cy="1519.6" r="4.9"/><circle cx="202.8" cy="1522.6" r="4.9"/><circle cx="202.8" cy="1525.9" r="4.9"/><circle cx="202.8" cy="1530.7" r="4.9"/><circle cx="202.8" cy="1535" r="4.9"/><circle cx="202.8" cy="1538.8" r="4.9"/><circle cx="202.8" cy="1542" r="4.9"/><circle cx="202.8" cy="1546.1" r="4.9"/><circle cx="202.8" cy="1550.1" r="4.9"/><circle cx="207" cy="1462.7" r="4.9"/><circle cx="207" cy="1466.8" r="4.9"/><circle cx="207" cy="1471.6" r="4.9"/><circle cx="207" cy="1475" r="4.9"/><circle cx="207" cy="1478.8" r="4.9"/><circle cx="207" cy="1483.2" r="4.9"/><circle cx="207" cy="1486.1" r="4.9"/><circle cx="207" cy="1490.3" r="4.9"/><circle cx="207" cy="1495.9" r="4.9"/><circle cx="207" cy="1500.7" r="4.9"/><circle cx="207" cy="1503.6" r="4.9"/><circle cx="211.3" cy="1459" r="4.9"/><circle cx="211.3" cy="1463.1" r="4.9"/><circle cx="211.3" cy="1466.6" r="4.9"/><circle cx="211.3" cy="1469.9" r="4.9"/><circle cx="211.3" cy="1474.6" r="4.9"/><circle cx="211.3" cy="1479.7" r="4.9"/><circle cx="211.3" cy="1483.1" r="4.9"/><circle cx="211.3" cy="1486.4" r="4.9"/><circle cx="211.3" cy="1491.1" r="4.9"/><circle cx="211.3" cy="1493.5" r="4.9"/><circle cx="211.3" cy="1498.1" r="4.9"/><circle cx="219.8" cy="1382.8" r="4.9"/><circle cx="219.8" cy="1386.9" r="4.9"/><circle cx="219.8" cy="1392" r="4.9"/><circle cx="219.8" cy="1395.2" r="4.9"/><circle cx="219.8" cy="1399" r="4.9"/><circle cx="219.8" cy="1402.7" r="4.9"/><circle cx="219.8" cy="1407.4" r="4.9"/><circle cx="219.8" cy="1412.5" r="4.9"/><circle cx="219.8" cy="1420.3" r="4.9"/><circle cx="219.8" cy="1424.4" r="4.9"/><circle cx="219.8" cy="1428.7" r="4.9"/><circle cx="219.8" cy="1432.4" r="4.9"/><circle cx="219.8" cy="1436.7" r="4.9"/><circle cx="219.8" cy="1440.1" r="4.9"/><circle cx="219.8" cy="1444.3" r="4.9"/><circle cx="219.8" cy="1448" r="4.9"/><circle cx="219.8" cy="1451.2" r="4.9"/><circle cx="219.8" cy="1457.3" r="4.9"/><circle cx="219.8" cy="1460.7" r="4.9"/><circle cx="219.8" cy="1464.6" r="4.9"/><circle cx="224" cy="1388.3" r="4.9"/><circle cx="224" cy="1391.3" r="4.9"/><circle cx="224" cy="1395.8" r="4.9"/><circle cx="224" cy="1399.5" r="4.9"/><circle cx="224" cy="1402.9" r="4.9"/><circle cx="224" cy="1406.6" r="4.9"/><circle cx="224" cy="1410.8" r="4.9"/><circle cx="224" cy="1414.4" r="4.9"/><circle cx="228.3" cy="1364.2" r="4.9"/><circle cx="228.3" cy="1368.5" r="4.9"/><circle cx="228.3" cy="1372.5" r="4.9"/><circle cx="228.3" cy="1376.2" r="4.9"/><circle cx="228.3" cy="1379.2" r="4.9"/><circle cx="228.3" cy="1383.8" r="4.9"/><circle cx="228.3" cy="1387.7" r="4.9"/><circle cx="228.3" cy="1392.7" r="4.9"/><circle cx="228.3" cy="1397.4" r="4.9"/><circle cx="228.3" cy="1401.3" r="4.9"/><circle cx="228.3" cy="1405.4" r="4.9"/><circle cx="228.3" cy="1409.4" r="4.9"/><circle cx="228.3" cy="1412.1" r="4.9"/><circle cx="228.3" cy="1417.6" r="4.9"/><circle cx="228.3" cy="1421.2" r="4.9"/><circle cx="228.3" cy="1423.9" r="4.9"/><circle cx="228.3" cy="1427.8" r="4.9"/><circle cx="228.3" cy="1433" r="4.9"/>
</g>
<path d="M199.2 1580.8V1095.2H215.05V1532.4H230.9V1547H246.75V1572.4H262.6V1567.2H278.45V1563.1H294.3V1576.1H310.15V1577.4H326V1570H341.85V1578H357.7V1571.5H373.55V1578.5H389.4V1576.1H405.25V1579H421.1V1579H436.95V1579.2H452.8V1576.1H468.65V1579H484.5V1579.2H500.35V1579.2H516.2V1579.2H532.05V1579.2H547.9V1580.8Z" fill="#000" fill-opacity="0.1"/>
<g stroke="#000" stroke-width="2.2" fill="none">
<path d="M167.5 907.2V1580.8H960" stroke-linecap="square"/>
</g>
<path d="M202.8 1580.8v8.8M372.5 1580.8v8.8M542.2 1580.8v8.8M711.8 1580.8v8.8M881.5 1580.8v8.8M167.5 966.6h-8.8M167.5 1045.7h-8.8M167.5 1124.8h-8.8M167.5 1203.9h-8.8M167.5 1283h-8.8M167.5 1362.1h-8.8M167.5 1441.2h-8.8M167.5 1520.3h-8.8" stroke="#333" stroke-width="2.2" fill="none"/>
<g class="tk" text-anchor="middle">
<text x="202.8" y="1617">0</text>
<text x="372.5" y="1617">20</text>
<text x="542.2" y="1617">40</text>
<text x="711.8" y="1617">60</text>
<text x="881.5" y="1617">80</text>
</g>
<g class="tk" text-anchor="end">
<text x="151.1" y="976.8">0.30</text>
<text x="151.1" y="1055.9">0.25</text>
<text x="151.1" y="1135">0.20</text>
<text x="151.1" y="1214.1">0.15</text>
<text x="151.1" y="1293.2">0.10</text>
<text x="151.1" y="1372.3">0.05</text>
<text x="151.1" y="1451.4">0.00</text>
<text x="151.1" y="1530.5">−0.05</text>
</g>
<text class="lb" text-anchor="middle" x="563.8" y="1653.8">Burn Depth 3</text>
<text class="lb" text-anchor="middle" transform="translate(23.6 1244) rotate(-90)">SHAP value for</text>
<text class="lb" text-anchor="middle" transform="translate(57.3 1244) rotate(-90)">Burn Depth 3</text>
<text class="pl" x="65.1" y="868">c</text>
</g>
<g class="panel">
<g fill="#1e88e5">
<circle cx="1407.2" cy="1128" r="4.9"/><circle cx="1366" cy="1129.9" r="4.9"/><circle cx="1355.8" cy="1136.2" r="4.9"/><circle cx="1376.3" cy="1136.2" r="4.9"/><circle cx="1366" cy="1149.2" r="4.9"/><circle cx="1427.8" cy="1155.3" r="4.9"/><circle cx="1345.5" cy="1163.3" r="4.9"/><circle cx="1376.3" cy="1164.3" r="4.9"/><circle cx="1366" cy="1165.6" r="4.9"/><circle cx="1366" cy="1169.8" r="4.9"/><circle cx="1479.2" cy="1168.3" r="4.9"/><circle cx="1366" cy="1179.9" r="4.9"/><circle cx="1345.5" cy="1183.8" r="4.9"/><circle cx="1386.6" cy="1184.7" r="4.9"/><circle cx="1376.3" cy="1194" r="4.9"/><circle cx="1417.5" cy="1196.2" r="4.9"/><circle cx="1427.8" cy="1204.6" r="4.9"/><circle cx="1417.5" cy="1207.4" r="4.9"/><circle cx="1458.7" cy="1202.7" r="4.9"/><circle cx="1448.4" cy="1209.8" r="4.9"/><circle cx="1366" cy="1205.9" r="4.9"/><circle cx="1366" cy="1213" r="4.9"/><circle cx="1366" cy="1216.7" r="4.9"/><circle cx="1386.6" cy="1213.9" r="4.9"/><circle cx="1335.2" cy="1216.5" r="4.9"/><circle cx="1345.5" cy="1214.8" r="4.9"/><circle cx="1484.4" cy="1214.5" r="4.9"/><circle cx="1479.2" cy="1216.7" r="4.9"/><circle cx="1366" cy="1227.5" r="4.9"/><circle cx="1417.5" cy="1227.5" r="4.9"/><circle cx="1417.5" cy="1236.8" r="4.9"/><circle cx="1422.6" cy="1237.7" r="4.9"/><circle cx="1366" cy="1237.5" r="4.9"/><circle cx="1335.2" cy="1237.1" r="4.9"/><circle cx="1335.2" cy="1242.7" r="4.9"/><circle cx="1345.5" cy="1239.9" r="4.9"/><circle cx="1345.5" cy="1245.1" r="4.9"/><circle cx="1469" cy="1239.9" r="4.9"/><circle cx="1314.6" cy="1244.6" r="4.9"/><circle cx="1314.6" cy="1256.7" r="4.9"/><circle cx="1386.6" cy="1253.5" r="4.9"/><circle cx="1314.6" cy="1271.5" r="4.9"/><circle cx="1366" cy="1266" r="4.9"/><circle cx="1366" cy="1269.3" r="4.9"/><circle cx="1355.8" cy="1271.2" r="4.9"/><circle cx="1469" cy="1270.2" r="4.9"/><circle cx="1417.5" cy="1275.4" r="4.9"/><circle cx="1335.2" cy="1279.5" r="4.9"/><circle cx="1345.5" cy="1278.6" r="4.9"/><circle cx="1366" cy="1281.8" r="4.9"/><circle cx="1355.8" cy="1284.6" r="4.9"/><circle cx="1407.2" cy="1285.9" r="4.9"/><circle cx="1324.9" cy="1286" r="4.9"/><circle cx="1355.8" cy="1292" r="4.9"/><circle cx="1335.2" cy="1295.3" r="4.9"/><circle cx="1345.5" cy="1299.4" r="4.9"/><circle cx="1345.5" cy="1304.1" r="4.9"/><circle cx="1324.9" cy="1306.9" r="4.9"/><circle cx="1366" cy="1305.9" r="4.9"/><circle cx="1335.2" cy="1311.5" r="4.9"/><circle cx="1366" cy="1321.7" r="4.9"/><circle cx="1335.2" cy="1320.8" r="4.9"/><circle cx="1340.3" cy="1323" r="4.9"/><circle cx="1324.9" cy="1327.3" r="4.9"/><circle cx="1324.9" cy="1331" r="4.9"/><circle cx="1330" cy="1331" r="4.9"/><circle cx="1340.3" cy="1337" r="4.9"/><circle cx="1335.2" cy="1347.2" r="4.9"/><circle cx="1304.3" cy="1351.5" r="4.9"/><circle cx="1324.9" cy="1353.4" r="4.9"/><circle cx="1294" cy="1356.5" r="4.9"/><circle cx="1304.3" cy="1357.1" r="4.9"/><circle cx="1324.9" cy="1357.1" r="4.9"/><circle cx="1448.4" cy="937.7" r="4.9"/><circle cx="1448.4" cy="944.2" r="4.9"/><circle cx="1417.5" cy="947.9" r="4.9"/><circle cx="1417.5" cy="952" r="4.9"/><circle cx="1443.2" cy="954.8" r="4.9"/><circle cx="1443.2" cy="964.6" r="4.9"/><circle cx="1438.1" cy="972.1" r="4.9"/><circle cx="1417.5" cy="977.1" r="4.9"/><circle cx="1623.3" cy="975.2" r="4.9"/><circle cx="1520.4" cy="979.9" r="4.9"/><circle cx="1417.5" cy="987.5" r="4.9"/><circle cx="1479.2" cy="988.2" r="4.9"/><circle cx="1520.4" cy="988.4" r="4.9"/><circle cx="1417.5" cy="998.1" r="4.9"/><circle cx="1417.5" cy="1002.7" r="4.9"/><circle cx="1530.7" cy="1003.1" r="4.9"/><circle cx="1582.1" cy="1002.7" r="4.9"/><circle cx="1571.8" cy="1010.7" r="4.9"/><circle cx="1443.2" cy="1015.2" r="4.9"/><circle cx="1396.9" cy="1018.5" r="4.9"/><circle cx="1417.5" cy="1018.5" r="4.9"/><circle cx="1417.5" cy="1024.1" r="4.9"/><circle cx="1438.1" cy="1025.8" r="4.9"/><circle cx="1417.5" cy="1031.6" r="4.9"/><circle cx="1417.5" cy="1039.9" r="4.9"/><circle cx="1386.6" cy="1042.7" r="4.9"/><circle cx="1469" cy="1044.8" r="4.9"/><circle cx="1561.6" cy="1047.9" r="4.9"/><circle cx="1417.5" cy="1055" r="4.9"/><circle cx="1386.6" cy="1064.1" r="4.9"/><circle cx="1366" cy="1066.5" r="4.9"/><circle cx="1396.9" cy="1082.3" r="4.9"/><circle cx="1535.8" cy="1085.1" r="4.9"/><circle cx="1366" cy="1091.1" r="4.9"/><circle cx="1623.3" cy="1090.1" r="4.9"/><circle cx="1396.9" cy="1101.3" r="4.9"/><circle cx="1479.2" cy="1111" r="4.9"/><circle cx="1489.5" cy="1113.9" r="4.9"/><circle cx="1345.5" cy="1114.3" r="4.9"/><circle cx="1535.8" cy="1118.2" r="4.9"/><circle cx="1520.4" cy="1144.4" r="4.9"/><circle cx="1510.1" cy="1201.1" r="4.9"/><circle cx="1520.4" cy="1202.5" r="4.9"/><circle cx="1520.4" cy="1222.6" r="4.9"/><circle cx="1520.4" cy="1228.7" r="4.9"/><circle cx="1489.5" cy="1241" r="4.9"/><circle cx="1613" cy="1240.1" r="4.9"/><circle cx="1685" cy="1228.4" r="4.9"/><circle cx="1767.4" cy="1263.8" r="4.9"/><circle cx="1932" cy="1265.5" r="4.9"/><circle cx="1520.4" cy="1269.7" r="4.9"/><circle cx="1602.7" cy="1275" r="4.9"/><circle cx="1623.3" cy="1274.2" r="4.9"/><circle cx="1520.4" cy="1286.7" r="4.9"/><circle cx="1674.8" cy="1303.2" r="4.9"/><circle cx="1736.5" cy="1316.3" r="4.9"/><circle cx="1829.1" cy="978.5" r="4.9"/><circle cx="1829.1" cy="986.6" r="4.9"/><circle cx="1818.8" cy="1015.3" r="4.9"/><circle cx="1685" cy="1122.2" r="4.9"/><circle cx="1211.7" cy="1440.2" r="4.9"/><circle cx="1211.7" cy="1448.5" r="4.9"/><circle cx="1211.7" cy="1451.6" r="4.9"/><circle cx="1211.7" cy="1457.3" r="4.9"/><circle cx="1211.7" cy="1461" r="4.9"/><circle cx="1211.7" cy="1463.7" r="4.9"/><circle cx="1211.7" cy="1468.2" r="4.9"/><circle cx="1211.7" cy="1472" r="4.9"/><circle cx="1211.7" cy="1476.4" r="4.9"/><circle cx="1211.7" cy="1480.7" r="4.9"/><circle cx="1211.7" cy="1483" r="4.9"/><circle cx="1211.7" cy="1486.8" r="4.9"/><circle cx="1211.7" cy="1492.6" r="4.9"/><circle cx="1211.7" cy="1495.6" r="4.9"/><circle cx="1211.7" cy="1500.3" r="4.9"/><circle cx="1211.7" cy="1502.4" r="4.9"/><circle cx="1211.7" cy="1507.4" r="4.9"/><circle cx="1211.7" cy="1512" r="4.9"/><circle cx="1211.7" cy="1514.8" r="4.9"/><circle cx="1211.7" cy="1520.4" r="4.9"/><circle cx="1211.7" cy="1524.2" r="4.9"/><circle cx="1211.7" cy="1530" r="4.9"/><circle cx="1211.7" cy="1535.2" r="4.9"/><circle cx="1211.7" cy="1540.1" r="4.9"/><circle cx="1211.7" cy="1542.7" r="4.9"/><circle cx="1211.7" cy="1546.2" r="4.9"/><circle cx="1211.7" cy="1550.8" r="4.9"/><circle cx="1216.8" cy="1480.2" r="4.9"/><circle cx="1216.8" cy="1484" r="4.9"/><circle cx="1216.8" cy="1487" r="4.9"/><circle cx="1216.8" cy="1491.4" r="4.9"/><circle cx="1216.8" cy="1495.9" r="4.9"/><circle cx="1216.8" cy="1500.1" r="4.9"/><circle cx="1216.8" cy="1503.4" r="4.9"/><circle cx="1216.8" cy="1507.4" r="4.9"/><circle cx="1216.8" cy="1511.4" r="4.9"/><circle cx="1216.8" cy="1515.9" r="4.9"/><circle cx="1216.8" cy="1519.5" r="4.9"/><circle cx="1216.8" cy="1522.8" r="4.9"/><circle cx="1216.8" cy="1528.8" r="4.9"/><circle cx="1216.8" cy="1532.1" r="4.9"/><circle cx="1216.8" cy="1535.9" r="4.9"/><circle cx="1222" cy="1478.3" r="4.9"/><circle cx="1222" cy="1482.5" r="4.9"/><circle cx="1222" cy="1485.3" r="4.9"/><circle cx="1222" cy="1491.1" r="4.9"/><circle cx="1222" cy="1494.7" r="4.9"/><circle cx="1222" cy="1496.8" r="4.9"/><circle cx="1222" cy="1501.1" r="4.9"/><circle cx="1222" cy="1505.9" r="4.9"/><circle cx="1222" cy="1509.8" r="4.9"/><circle cx="1222" cy="1514.2" r="4.9"/><circle cx="1222" cy="1516.9" r="4.9"/><circle cx="1222" cy="1521.7" r="4.9"/><circle cx="1222" cy="1524.8" r="4.9"/><circle cx="1222" cy="1534.1" r="4.9"/><circle cx="1222" cy="1543.9" r="4.9"/><circle cx="1227.1" cy="1489.5" r="4.9"/><circle cx="1227.1" cy="1493.9" r="4.9"/><circle cx="1227.1" cy="1497" r="4.9"/><circle cx="1227.1" cy="1501.6" r="4.9"/><circle cx="1227.1" cy="1506.3" r="4.9"/><circle cx="1227.1" cy="1510.2" r="4.9"/><circle cx="1227.1" cy="1513.4" r="4.9"/><circle cx="1227.1" cy="1517.3" r="4.9"/><circle cx="1232.3" cy="1456.9" r="4.9"/><circle cx="1232.3" cy="1461.2" r="4.9"/><circle cx="1232.3" cy="1463.9" r="4.9"/><circle cx="1232.3" cy="1468.5" r="4.9"/><circle cx="1232.3" cy="1473.8" r="4.9"/><circle cx="1232.3" cy="1477" r="4.9"/><circle cx="1232.3" cy="1480.4" r="4.9"/><circle cx="1232.3" cy="1485.4" r="4.9"/><circle cx="1232.3" cy="1489.8" r="4.9"/><circle cx="1232.3" cy="1493.8" r="4.9"/><circle cx="1232.3" cy="1497.1" r="4.9"/><circle cx="1232.3" cy="1501.3" r="4.9"/><circle cx="1232.3" cy="1505.5" r="4.9"/><circle cx="1232.3" cy="1510.2" r="4.9"/><circle cx="1232.3" cy="1513.6" r="4.9"/><circle cx="1237.4" cy="1480.2" r="4.9"/><circle cx="1237.4" cy="1484.2" r="4.9"/><circle cx="1237.4" cy="1487.8" r="4.9"/><circle cx="1237.4" cy="1492" r="4.9"/><circle cx="1237.4" cy="1494.8" r="4.9"/><circle cx="1237.4" cy="1498.8" r="4.9"/><circle cx="1237.4" cy="1504.4" r="4.9"/><circle cx="1237.4" cy="1509" r="4.9"/><circle cx="1237.4" cy="1511.8" r="4.9"/><circle cx="1237.4" cy="1521.1" r="4.9"/><circle cx="1242.6" cy="1457.8" r="4.9"/><circle cx="1242.6" cy="1461.9" r="4.9"/><circle cx="1242.6" cy="1465.3" r="4.9"/><circle cx="1242.6" cy="1468.6" r="4.9"/><circle cx="1242.6" cy="1473.3" r="4.9"/><circle cx="1242.6" cy="1478.3" r="4.9"/><circle cx="1242.6" cy="1481.7" r="4.9"/><circle cx="1242.6" cy="1485" r="4.9"/><circle cx="1242.6" cy="1489.6" r="4.9"/><circle cx="1242.6" cy="1492" r="4.9"/><circle cx="1242.6" cy="1496.5" r="4.9"/><circle cx="1242.6" cy="1501.4" r="4.9"/><circle cx="1242.6" cy="1504.4" r="4.9"/><circle cx="1242.6" cy="1508.1" r="4.9"/><circle cx="1247.7" cy="1470.9" r="4.9"/><circle cx="1247.7" cy="1474.7" r="4.9"/><circle cx="1247.7" cy="1478.2" r="4.9"/><circle cx="1247.7" cy="1482.8" r="4.9"/><circle cx="1247.7" cy="1487.7" r="4.9"/><circle cx="1247.7" cy="1495.1" r="4.9"/><circle cx="1247.7" cy="1499.1" r="4.9"/><circle cx="1247.7" cy="1503.2" r="4.9"/><circle cx="1247.7" cy="1506.2" r="4.9"/><circle cx="1252.9" cy="1431.3" r="4.9"/><circle cx="1252.9" cy="1441.1" r="4.9"/><circle cx="1252.9" cy="1451.3" r="4.9"/><circle cx="1252.9" cy="1455.8" r="4.9"/><circle cx="1252.9" cy="1459.9" r="4.9"/><circle cx="1252.9" cy="1463.2" r="4.9"/><circle cx="1252.9" cy="1467.2" r="4.9"/><circle cx="1252.9" cy="1470.8" r="4.9"/><circle cx="1252.9" cy="1473.9" r="4.9"/><circle cx="1252.9" cy="1479.8" r="4.9"/><circle cx="1252.9" cy="1483" r="4.9"/><circle cx="1252.9" cy="1486" r="4.9"/><circle cx="1252.9" cy="1490.7" r="4.9"/><circle cx="1252.9" cy="1494.6" r="4.9"/><circle cx="1252.9" cy="1498.2" r="4.9"/><circle cx="1252.9" cy="1502.5" r="4.9"/><circle cx="1252.9" cy="1507.1" r="4.9"/><circle cx="1258" cy="1454.1" r="4.9"/><circle cx="1258" cy="1457.8" r="4.9"/><circle cx="1258" cy="1462.3" r="4.9"/><circle cx="1258" cy="1466.6" r="4.9"/><circle cx="1258" cy="1470.6" r="4.9"/><circle cx="1258" cy="1474.3" r="4.9"/><circle cx="1258" cy="1477.3" r="4.9"/><circle cx="1258" cy="1481.9" r="4.9"/><circle cx="1258" cy="1485.8" r="4.9"/><circle cx="1258" cy="1490.8" r="4.9"/><circle cx="1258" cy="1495.6" r="4.9"/><circle cx="1258" cy="1498.8" r="4.9"/><circle cx="1263.2" cy="1439.3" r="4.9"/><circle cx="1263.2" cy="1443.9" r="4.9"/><circle cx="1263.2" cy="1447.8" r="4.9"/><circle cx="1263.2" cy="1451.8" r="4.9"/><circle cx="1263.2" cy="1454.3" r="4.9"/><circle cx="1263.2" cy="1459.6" r="4.9"/><circle cx="1263.2" cy="1463.2" r="4.9"/><circle cx="1263.2" cy="1465.7" r="4.9"/><circle cx="1263.2" cy="1469.4" r="4.9"/><circle cx="1263.2" cy="1473.3" r="4.9"/><circle cx="1263.2" cy="1479" r="4.9"/><circle cx="1263.2" cy="1481.7" r="4.9"/><circle cx="1263.2" cy="1485.3" r="4.9"/><circle cx="1263.2" cy="1490.4" r="4.9"/><circle cx="1263.2" cy="1493.7" r="4.9"/><circle cx="1263.2" cy="1496.9" r="4.9"/><circle cx="1263.2" cy="1501.1" r="4.9"/><circle cx="1263.2" cy="1505.9" r="4.9"/><circle cx="1263.2" cy="1508.9" r="4.9"/><circle cx="1263.2" cy="1513.6" r="4.9"/><circle cx="1268.3" cy="1452.3" r="4.9"/><circle cx="1268.3" cy="1455.6" r="4.9"/><circle cx="1268.3" cy="1460.6" r="4.9"/><circle cx="1268.3" cy="1463.8" r="4.9"/><circle cx="1268.3" cy="1467.4" r="4.9"/><circle cx="1268.3" cy="1471.6" r="4.9"/><circle cx="1268.3" cy="1474.5" r="4.9"/><circle cx="1268.3" cy="1479.2" r="4.9"/><circle cx="1268.3" cy="1483.2" r="4.9"/><circle cx="1268.3" cy="1486.5" r="4.9"/><circle cx="1268.3" cy="1490.2" r="4.9"/><circle cx="1268.3" cy="1495" r="4.9"/><circle cx="1273.4" cy="1432.7" r="4.9"/><circle cx="1273.4" cy="1444.8" r="4.9"/><circle cx="1273.4" cy="1454.1" r="4.9"/><circle cx="1273.4" cy="1459" r="4.9"/><circle cx="1273.4" cy="1462" r="4.9"/><circle cx="1273.4" cy="1465.1" r="4.9"/><circle cx="1273.4" cy="1470" r="4.9"/><circle cx="1273.4" cy="1474.4" r="4.9"/><circle cx="1273.4" cy="1480.3" r="4.9"/><circle cx="1273.4" cy="1484.5" r="4.9"/><circle cx="1273.4" cy="1489.8" r="4.9"/><circle cx="1273.4" cy="1493.2" r="4.9"/><circle cx="1273.4" cy="1508.6" r="4.9"/><circle cx="1278.6" cy="1461.6" r="4.9"/><circle cx="1278.6" cy="1464.5" r="4.9"/><circle cx="1278.6" cy="1469.5" r="4.9"/><circle cx="1278.6" cy="1473.1" r="4.9"/><circle cx="1278.6" cy="1476.5" r="4.9"/><circle cx="1278.6" cy="1480.2" r="4.9"/><circle cx="1283.7" cy="1389" r="4.9"/><circle cx="1283.7" cy="1393.7" r="4.9"/><circle cx="1283.7" cy="1400.2" r="4.9"/><circle cx="1283.7" cy="1413.2" r="4.9"/><circle cx="1283.7" cy="1416.9" r="4.9"/><circle cx="1283.7" cy="1431.8" r="4.9"/><circle cx="1283.7" cy="1434.9" r="4.9"/><circle cx="1283.7" cy="1440.4" r="4.9"/><circle cx="1283.7" cy="1443.7" r="4.9"/><circle cx="1283.7" cy="1446.7" r="4.9"/><circle cx="1283.7" cy="1449.7" r="4.9"/><circle cx="1283.7" cy="1454.1" r="4.9"/><circle cx="1283.7" cy="1459.7" r="4.9"/><circle cx="1283.7" cy="1463.8" r="4.9"/><circle cx="1283.7" cy="1466.9" r="4.9"/><circle cx="1283.7" cy="1471" r="4.9"/><circle cx="1283.7" cy="1474.2" r="4.9"/><circle cx="1283.7" cy="1478.3" r="4.9"/><circle cx="1288.9" cy="1373.2" r="4.9"/><circle cx="1288.9" cy="1387.2" r="4.9"/><circle cx="1288.9" cy="1471.8" r="4.9"/><circle cx="1294" cy="1365.8" r="4.9"/><circle cx="1294" cy="1375.1" r="4.9"/><circle cx="1294" cy="1399.8" r="4.9"/><circle cx="1294" cy="1405.8" r="4.9"/><circle cx="1294" cy="1410.1" r="4.9"/><circle cx="1294" cy="1412.7" r="4.9"/><circle cx="1294" cy="1417.3" r="4.9"/><circle cx="1294" cy="1422.8" r="4.9"/><circle cx="1294" cy="1426.6" r="4.9"/><circle cx="1294" cy="1429.2" r="4.9"/><circle cx="1294" cy="1434.5" r="4.9"/><circle cx="1294" cy="1437.2" r="4.9"/><circle cx="1294" cy="1442.7" r="4.9"/><circle cx="1294" cy="1446.2" r="4.9"/><circle cx="1294" cy="1449.4" r="4.9"/><circle cx="1294" cy="1453" r="4.9"/><circle cx="1294" cy="1456.4" r="4.9"/><circle cx="1294" cy="1461.6" r="4.9"/><circle cx="1299.2" cy="1386.3" r="4.9"/><circle cx="1304.3" cy="1368.6" r="4.9"/><circle cx="1304.3" cy="1373.2" r="4.9"/><circle cx="1304.3" cy="1380.5" r="4.9"/><circle cx="1304.3" cy="1384.6" r="4.9"/><circle cx="1304.3" cy="1387.2" r="4.9"/><circle cx="1304.3" cy="1395.6" r="4.9"/><circle cx="1304.3" cy="1404.9" r="4.9"/><circle cx="1304.3" cy="1433.1" r="4.9"/><circle cx="1304.3" cy="1448.2" r="4.9"/><circle cx="1309.5" cy="1424.4" r="4.9"/><circle cx="1314.6" cy="1350" r="4.9"/><circle cx="1314.6" cy="1353.9" r="4.9"/><circle cx="1314.6" cy="1356.6" r="4.9"/><circle cx="1314.6" cy="1362" r="4.9"/><circle cx="1314.6" cy="1366" r="4.9"/><circle cx="1314.6" cy="1369.1" r="4.9"/><circle cx="1314.6" cy="1372.3" r="4.9"/><circle cx="1314.6" cy="1387.2" r="4.9"/><circle cx="1314.6" cy="1390" r="4.9"/><circle cx="1314.6" cy="1403" r="4.9"/><circle cx="1314.6" cy="1432.2" r="4.9"/><circle cx="1324.9" cy="1377.3" r="4.9"/><circle cx="1324.9" cy="1405.4" r="4.9"/><circle cx="1335.2" cy="1350" r="4.9"/><circle cx="1335.2" cy="1364.5" r="4.9"/><circle cx="1314.6" cy="1281.8" r="4.9"/><circle cx="1314.6" cy="1285.7" r="4.9"/><circle cx="1314.6" cy="1289.3" r="4.9"/><circle cx="1314.6" cy="1293.1" r="4.9"/><circle cx="1314.6" cy="1296.7" r="4.9"/><circle cx="1314.6" cy="1301.8" r="4.9"/><circle cx="1314.6" cy="1305.1" r="4.9"/><circle cx="1314.6" cy="1308.4" r="4.9"/><circle cx="1314.6" cy="1312.1" r="4.9"/><circle cx="1314.6" cy="1317.4" r="4.9"/><circle cx="1314.6" cy="1320.4" r="4.9"/><circle cx="1314.6" cy="1324.8" r="4.9"/><circle cx="1314.6" cy="1328.3" r="4.9"/><circle cx="1314.6" cy="1333.5" r="4.9"/><circle cx="1314.6" cy="1337.5" r="4.9"/><circle cx="1314.6" cy="1343.7" r="4.9"/><circle cx="1314.6" cy="1347.9" r="4.9"/>
</g>
<path d="M1207.6 1580.8V1263.7H1223.44V1509H1239.29V1509H1255.14V1530.4H1270.99V1548H1286.84V1557.9H1302.68V1548.4H1318.53V1576.3H1334.38V1566.6H1350.23V1579.3H1366.08V1569.8H1381.92V1577.2H1397.77V1579.3H1413.62V1570.3H1429.47V1578.7H1445.32V1579.3H1461.16V1579.3H1477.01V1577.2H1492.86V1579.3H1508.71V1577.4H1524.56V1580.8Z" fill="#000" fill-opacity="0.1"/>
<g stroke="#000" stroke-width="2.2" fill="none">
<path d="M1175.9 907.2V1580.8H1968.3" stroke-linecap="square"/>
</g>
<path d="M1212 1580.8v8.8M1314.9 1580.8v8.8M1417.8 1580.8v8.8M1520.7 1580.8v8.8M1623.6 1580.8v8.8M1726.5 1580.8v8.8M1829.4 1580.8v8.8M1932.3 1580.8v8.8M1175.9 1012.1h-8.8M1175.9 1157.2h-8.8M1175.9 1302.3h-8.8M1175.9 1447.4h-8.8" stroke="#333" stroke-width="2.2" fill="none"/>
<g class="tk" text-anchor="middle">
<text x="1212" y="1617">0</text>
<text x="1314.9" y="1617">10</text>
<text x="1417.8" y="1617">20</text>
<text x="1520.7" y="1617">30</text>
<text x="1623.6" y="1617">40</text>
<text x="1726.5" y="1617">50</text>
<text x="1829.4" y="1617">60</text>
<text x="1932.3" y="1617">70</text>
</g>
<g class="tk" text-anchor="end">
<text x="1159.5" y="1022.3">0.15</text>
<text x="1159.5" y="1167.4">0.10</text>
<text x="1159.5" y="1312.5">0.05</text>
<text x="1159.5" y="1457.6">0.00</text>
</g>
<text class="lb" text-anchor="middle" x="1572.1" y="1653.8">Burn Depth 2b</text>
<text class="lb" text-anchor="middle" transform="translate(1053.3 1244) rotate(-90)">SHAP value for</text>
<text class="lb" text-anchor="middle" transform="translate(1087.3 1244) rotate(-90)">Burn Depth 2b</text>
<text class="pl" x="1072.8" y="868">d</text>
</g>
<g class="panel">
<g fill="#1e88e5">
<circle cx="775.3" cy="1776.1" r="4.9"/><circle cx="727.4" cy="1807.8" r="4.9"/><circle cx="783.1" cy="1807.8" r="4.9"/><circle cx="726.1" cy="1829.9" r="4.9"/><circle cx="753.5" cy="1833.9" r="4.9"/><circle cx="753.5" cy="1837.4" r="4.9"/><circle cx="768.6" cy="1838" r="4.9"/><circle cx="725" cy="1856.3" r="4.9"/><circle cx="763" cy="1858.4" r="4.9"/><circle cx="773.5" cy="1857.1" r="4.9"/><circle cx="732.8" cy="1867.6" r="4.9"/><circle cx="745.2" cy="1872.7" r="4.9"/><circle cx="767" cy="1877.3" r="4.9"/><circle cx="739.8" cy="1891" r="4.9"/><circle cx="765.9" cy="1889.9" r="4.9"/><circle cx="776.1" cy="1891.8" r="4.9"/><circle cx="753" cy="1896.6" r="4.9"/><circle cx="736.9" cy="1900.7" r="4.9"/><circle cx="750.3" cy="1900.7" r="4.9"/><circle cx="771.8" cy="1897.4" r="4.9"/><circle cx="775.3" cy="1903.4" r="4.9"/><circle cx="787.2" cy="1905.5" r="4.9"/><circle cx="797.4" cy="1910.6" r="4.9"/><circle cx="751.7" cy="1906.1" r="4.9"/><circle cx="732.3" cy="1912.2" r="4.9"/><circle cx="744.4" cy="1912.8" r="4.9"/><circle cx="761.1" cy="1912.2" r="4.9"/><circle cx="780.2" cy="1912.2" r="4.9"/><circle cx="793.4" cy="1914.1" r="4.9"/><circle cx="800.6" cy="1918.7" r="4.9"/><circle cx="758.4" cy="1919.5" r="4.9"/><circle cx="783.9" cy="1919" r="4.9"/><circle cx="732.3" cy="1924.9" r="4.9"/><circle cx="754.3" cy="1924.9" r="4.9"/><circle cx="794.7" cy="1926.2" r="4.9"/><circle cx="746.3" cy="1928.9" r="4.9"/><circle cx="750.3" cy="1930.3" r="4.9"/><circle cx="768.6" cy="1929.7" r="4.9"/><circle cx="773.7" cy="1927.6" r="4.9"/><circle cx="779.1" cy="1926.8" r="4.9"/><circle cx="787.2" cy="1933" r="4.9"/><circle cx="766.5" cy="1937" r="4.9"/><circle cx="749" cy="1935.6" r="4.9"/><circle cx="742.5" cy="1940.5" r="4.9"/><circle cx="755.7" cy="1941" r="4.9"/><circle cx="751.7" cy="1944.3" r="4.9"/><circle cx="765.9" cy="1945.1" r="4.9"/><circle cx="786.6" cy="1941" r="4.9"/><circle cx="789.3" cy="1945.9" r="4.9"/><circle cx="782.6" cy="1950.4" r="4.9"/><circle cx="724.2" cy="1947.8" r="4.9"/><circle cx="727.4" cy="1950.4" r="4.9"/><circle cx="738.2" cy="1949.6" r="4.9"/><circle cx="745.7" cy="1951.8" r="4.9"/><circle cx="723.4" cy="1954.5" r="4.9"/><circle cx="734.2" cy="1955" r="4.9"/><circle cx="786.6" cy="1951.8" r="4.9"/><circle cx="751.7" cy="1958.5" r="4.9"/><circle cx="769.7" cy="1958.5" r="4.9"/><circle cx="800.1" cy="1957.7" r="4.9"/><circle cx="786.6" cy="1959.9" r="4.9"/><circle cx="757" cy="1963.9" r="4.9"/><circle cx="794.7" cy="1963.9" r="4.9"/><circle cx="774.5" cy="1963.9" r="4.9"/><circle cx="781.3" cy="1963.9" r="4.9"/><circle cx="751.7" cy="1968.5" r="4.9"/><circle cx="759.7" cy="1966.6" r="4.9"/><circle cx="769.1" cy="1967.4" r="4.9"/><circle cx="765.1" cy="1972" r="4.9"/><circle cx="738.2" cy="1974.7" r="4.9"/><circle cx="777.2" cy="1973.9" r="4.9"/><circle cx="800.6" cy="1976.8" r="4.9"/><circle cx="736.9" cy="1980" r="4.9"/><circle cx="749" cy="1980.6" r="4.9"/><circle cx="757" cy="1980.8" r="4.9"/><circle cx="777.2" cy="1980" r="4.9"/><circle cx="798.7" cy="1982.7" r="4.9"/><circle cx="735.5" cy="1987.3" r="4.9"/><circle cx="788" cy="1986.8" r="4.9"/><circle cx="793.4" cy="1985.4" r="4.9"/><circle cx="722.9" cy="1990.8" r="4.9"/><circle cx="735.5" cy="1990.8" r="4.9"/><circle cx="765.1" cy="1992.2" r="4.9"/><circle cx="771.8" cy="1990.8" r="4.9"/><circle cx="775.9" cy="1992.2" r="4.9"/><circle cx="786.6" cy="1993.5" r="4.9"/><circle cx="800.1" cy="1989.5" r="4.9"/><circle cx="796.1" cy="1994.8" r="4.9"/><circle cx="724.8" cy="1997.5" r="4.9"/><circle cx="789.3" cy="1997.5" r="4.9"/><circle cx="728.8" cy="2002.9" r="4.9"/><circle cx="744.9" cy="2002.9" r="4.9"/><circle cx="757" cy="2002.9" r="4.9"/><circle cx="771.3" cy="2001.6" r="4.9"/><circle cx="793.4" cy="2001.6" r="4.9"/><circle cx="798.7" cy="2002.9" r="4.9"/><circle cx="762.4" cy="2005.6" r="4.9"/><circle cx="732.8" cy="2009.6" r="4.9"/><circle cx="753" cy="2009.6" r="4.9"/><circle cx="746.3" cy="2013.7" r="4.9"/><circle cx="773.2" cy="2010.4" r="4.9"/><circle cx="781.3" cy="2009.6" r="4.9"/><circle cx="726.1" cy="2015.8" r="4.9"/><circle cx="734.2" cy="2016.4" r="4.9"/><circle cx="742.2" cy="2017.7" r="4.9"/><circle cx="773.2" cy="2016.4" r="4.9"/><circle cx="792" cy="2014.5" r="4.9"/><circle cx="779.9" cy="2019.1" r="4.9"/><circle cx="800.6" cy="2020.4" r="4.9"/><circle cx="785.3" cy="2023.1" r="4.9"/><circle cx="798.7" cy="2024.4" r="4.9"/><circle cx="753" cy="2025" r="4.9"/><circle cx="771" cy="2025.8" r="4.9"/><circle cx="788" cy="2027.1" r="4.9"/><circle cx="757.6" cy="2031.2" r="4.9"/><circle cx="778.6" cy="2030.4" r="4.9"/><circle cx="797.4" cy="2033" r="4.9"/><circle cx="786.6" cy="2035.2" r="4.9"/><circle cx="782.6" cy="2037.4" r="4.9"/><circle cx="724.8" cy="2041.9" r="4.9"/><circle cx="747.6" cy="2043.3" r="4.9"/><circle cx="750.3" cy="2043.3" r="4.9"/><circle cx="761.1" cy="2046" r="4.9"/><circle cx="765.9" cy="2045.4" r="4.9"/><circle cx="771.3" cy="2046.8" r="4.9"/><circle cx="794.2" cy="2043.8" r="4.9"/><circle cx="731.5" cy="2049.5" r="4.9"/><circle cx="735.5" cy="2048.7" r="4.9"/><circle cx="778.6" cy="2053.2" r="4.9"/><circle cx="783.4" cy="2052.7" r="4.9"/><circle cx="796.9" cy="2054" r="4.9"/><circle cx="726.1" cy="2064" r="4.9"/><circle cx="756.5" cy="2062.1" r="4.9"/><circle cx="774.5" cy="2063.5" r="4.9"/><circle cx="796.9" cy="2061.3" r="4.9"/><circle cx="734.2" cy="2067.5" r="4.9"/><circle cx="741.7" cy="2066.1" r="4.9"/><circle cx="760.5" cy="2071.5" r="4.9"/><circle cx="776.4" cy="2070.2" r="4.9"/><circle cx="779.1" cy="2078.8" r="4.9"/><circle cx="751.1" cy="2080.4" r="4.9"/><circle cx="758.4" cy="2079.6" r="4.9"/><circle cx="769.1" cy="2085.8" r="4.9"/><circle cx="794.2" cy="2089.5" r="4.9"/><circle cx="750.9" cy="2101.9" r="4.9"/><circle cx="734.2" cy="2106.5" r="4.9"/><circle cx="779.1" cy="2103.8" r="4.9"/><circle cx="785.3" cy="2101.9" r="4.9"/><circle cx="786.1" cy="2105.2" r="4.9"/><circle cx="798.7" cy="2103.8" r="4.9"/><circle cx="748.7" cy="2119.4" r="4.9"/><circle cx="782.3" cy="2119.4" r="4.9"/><circle cx="733.6" cy="2129.4" r="4.9"/><circle cx="746.3" cy="2132.1" r="4.9"/><circle cx="766.7" cy="2128.8" r="4.9"/><circle cx="772.9" cy="2171.3" r="4.9"/><circle cx="753.5" cy="2264.2" r="4.9"/><circle cx="336.4" cy="2338.2" r="4.9"/><circle cx="348.8" cy="2341.1" r="4.9"/><circle cx="375.2" cy="2340.7" r="4.9"/><circle cx="384.6" cy="2338.6" r="4.9"/><circle cx="396.4" cy="2343.5" r="4.9"/><circle cx="326.4" cy="2342.7" r="4.9"/><circle cx="404.9" cy="2346.4" r="4.9"/><circle cx="384.6" cy="2388.7" r="4.9"/><circle cx="387" cy="2389.9" r="4.9"/><circle cx="335.8" cy="2383.8" r="4.9"/><circle cx="355.3" cy="2383" r="4.9"/><circle cx="396.8" cy="2385.8" r="4.9"/><circle cx="326" cy="2381.3" r="4.9"/><circle cx="345.6" cy="2381.8" r="4.9"/><circle cx="404.9" cy="2382.2" r="4.9"/><circle cx="370" cy="2379.7" r="4.9"/><circle cx="377.3" cy="2380.5" r="4.9"/><circle cx="337.1" cy="2374.7" r="4.9"/><circle cx="387" cy="2354.8" r="4.9"/><circle cx="365.7" cy="2361.4" r="4.9"/><circle cx="378.1" cy="2372.7" r="4.9"/><circle cx="333.8" cy="2347.2" r="4.9"/><circle cx="392.7" cy="2360.8" r="4.9"/><circle cx="386.8" cy="2346.4" r="4.9"/><circle cx="361.7" cy="2370.5" r="4.9"/><circle cx="344.5" cy="2378" r="4.9"/><circle cx="397.9" cy="2347.3" r="4.9"/><circle cx="328.4" cy="2364.4" r="4.9"/><circle cx="400.9" cy="2359.1" r="4.9"/><circle cx="343.6" cy="2360.4" r="4.9"/><circle cx="328.7" cy="2353.7" r="4.9"/><circle cx="361.1" cy="2362.9" r="4.9"/><circle cx="344.9" cy="2354" r="4.9"/><circle cx="343.7" cy="2361.7" r="4.9"/><circle cx="349.4" cy="2347" r="4.9"/><circle cx="392.8" cy="2364.9" r="4.9"/><circle cx="377.3" cy="2352.5" r="4.9"/><circle cx="405.1" cy="2375.1" r="4.9"/><circle cx="336" cy="2357.4" r="4.9"/><circle cx="383.6" cy="2370.1" r="4.9"/><circle cx="400.7" cy="2360.4" r="4.9"/><circle cx="392.2" cy="2368.8" r="4.9"/><circle cx="350.5" cy="2366" r="4.9"/><circle cx="396.4" cy="2374.6" r="4.9"/><circle cx="366.5" cy="2366" r="4.9"/><circle cx="329.1" cy="2354.4" r="4.9"/><circle cx="389.6" cy="2360.2" r="4.9"/><circle cx="340.1" cy="2364.7" r="4.9"/><circle cx="382.2" cy="2368.9" r="4.9"/><circle cx="356.1" cy="2361" r="4.9"/><circle cx="366.7" cy="2372.4" r="4.9"/><circle cx="367.7" cy="2359.5" r="4.9"/><circle cx="365.2" cy="2347.3" r="4.9"/><circle cx="329.8" cy="2369.9" r="4.9"/><circle cx="404.4" cy="2366.2" r="4.9"/><circle cx="357.6" cy="2352" r="4.9"/><circle cx="366.2" cy="2379.2" r="4.9"/><circle cx="387.5" cy="2364.4" r="4.9"/><circle cx="394.6" cy="2354.1" r="4.9"/><circle cx="367.1" cy="2378.2" r="4.9"/><circle cx="372.2" cy="2361.7" r="4.9"/><circle cx="347.8" cy="2364.7" r="4.9"/><circle cx="402.3" cy="2346.5" r="4.9"/><circle cx="388.5" cy="2373.8" r="4.9"/><circle cx="396.7" cy="2371.1" r="4.9"/><circle cx="390.6" cy="2363.7" r="4.9"/><circle cx="370.9" cy="2360.6" r="4.9"/><circle cx="330.9" cy="2375.4" r="4.9"/><circle cx="371.6" cy="2353" r="4.9"/><circle cx="366.4" cy="2362.5" r="4.9"/><circle cx="354.7" cy="2357.9" r="4.9"/><circle cx="369.1" cy="2367.2" r="4.9"/><circle cx="375" cy="2361.6" r="4.9"/><circle cx="328.6" cy="2354" r="4.9"/><circle cx="340.5" cy="2365.9" r="4.9"/><circle cx="394.7" cy="2373" r="4.9"/><circle cx="389.6" cy="2373.7" r="4.9"/><circle cx="346.6" cy="2374.5" r="4.9"/><circle cx="379.8" cy="2349.1" r="4.9"/><circle cx="327.7" cy="2346.8" r="4.9"/><circle cx="386.3" cy="2354.7" r="4.9"/><circle cx="335.1" cy="2367.2" r="4.9"/><circle cx="353.7" cy="2348.6" r="4.9"/><circle cx="339.1" cy="2364" r="4.9"/><circle cx="339.7" cy="2355.4" r="4.9"/><circle cx="382.8" cy="2361.5" r="4.9"/><circle cx="351.9" cy="2362.2" r="4.9"/><circle cx="328.3" cy="2359.2" r="4.9"/><circle cx="359.8" cy="2352.6" r="4.9"/><circle cx="335" cy="2376.4" r="4.9"/><circle cx="366.9" cy="2353.3" r="4.9"/><circle cx="374.4" cy="2373.7" r="4.9"/><circle cx="328.1" cy="2346.9" r="4.9"/><circle cx="338" cy="2370.4" r="4.9"/><circle cx="339.1" cy="2369.9" r="4.9"/><circle cx="380.2" cy="2364.5" r="4.9"/><circle cx="343.9" cy="2379" r="4.9"/><circle cx="389.7" cy="2363.6" r="4.9"/><circle cx="344.1" cy="2368" r="4.9"/><circle cx="357.7" cy="2365.6" r="4.9"/><circle cx="351.9" cy="2367.4" r="4.9"/><circle cx="331.1" cy="2356.3" r="4.9"/><circle cx="403.2" cy="2375.6" r="4.9"/><circle cx="350.7" cy="2375.1" r="4.9"/><circle cx="351" cy="2377.8" r="4.9"/><circle cx="385.4" cy="2360.2" r="4.9"/><circle cx="346.4" cy="2346.6" r="4.9"/><circle cx="396.1" cy="2347.6" r="4.9"/><circle cx="391.4" cy="2378.5" r="4.9"/><circle cx="371.6" cy="2352" r="4.9"/><circle cx="395.2" cy="2378.9" r="4.9"/><circle cx="382.2" cy="2363.3" r="4.9"/><circle cx="356.4" cy="2357.9" r="4.9"/><circle cx="342.7" cy="2368.9" r="4.9"/><circle cx="360.7" cy="2352.8" r="4.9"/><circle cx="334.7" cy="2368.6" r="4.9"/><circle cx="349.9" cy="2363" r="4.9"/><circle cx="352.2" cy="2375.5" r="4.9"/><circle cx="397.7" cy="2346.9" r="4.9"/><circle cx="342.3" cy="2357.3" r="4.9"/><circle cx="404.7" cy="2372.5" r="4.9"/><circle cx="353.3" cy="2353.4" r="4.9"/><circle cx="379.9" cy="2374.4" r="4.9"/><circle cx="400.3" cy="2357.8" r="4.9"/><circle cx="396.4" cy="2369.3" r="4.9"/><circle cx="364.8" cy="2379.3" r="4.9"/><circle cx="345" cy="2370.6" r="4.9"/><circle cx="333.1" cy="2352" r="4.9"/><circle cx="398.6" cy="2353.4" r="4.9"/><circle cx="386.6" cy="2366.4" r="4.9"/><circle cx="393.1" cy="2358.6" r="4.9"/><circle cx="353.4" cy="2356.1" r="4.9"/><circle cx="395.2" cy="2366.5" r="4.9"/><circle cx="402.1" cy="2376" r="4.9"/><circle cx="337.1" cy="2364.8" r="4.9"/><circle cx="334.7" cy="2347.6" r="4.9"/><circle cx="332.2" cy="2375.3" r="4.9"/><circle cx="388.9" cy="2374.1" r="4.9"/><circle cx="353.4" cy="2366.9" r="4.9"/><circle cx="388.4" cy="2359" r="4.9"/><circle cx="371.7" cy="2353.8" r="4.9"/><circle cx="332.9" cy="2355.2" r="4.9"/><circle cx="397" cy="2365.2" r="4.9"/><circle cx="399.8" cy="2361.6" r="4.9"/><circle cx="348.4" cy="2372.7" r="4.9"/><circle cx="392" cy="2346.7" r="4.9"/><circle cx="379.6" cy="2349.4" r="4.9"/><circle cx="335.5" cy="2375.9" r="4.9"/><circle cx="329.6" cy="2354.3" r="4.9"/><circle cx="404.8" cy="2360.4" r="4.9"/><circle cx="335.6" cy="2351.9" r="4.9"/><circle cx="345.5" cy="2371.2" r="4.9"/><circle cx="334.6" cy="2376.8" r="4.9"/><circle cx="356.4" cy="2378.8" r="4.9"/><circle cx="398.5" cy="2356.1" r="4.9"/><circle cx="346.5" cy="2362.3" r="4.9"/><circle cx="334.3" cy="2368.1" r="4.9"/><circle cx="329.5" cy="2346.7" r="4.9"/><circle cx="404.3" cy="2356.2" r="4.9"/><circle cx="373.7" cy="2361.4" r="4.9"/><circle cx="351.2" cy="2348.4" r="4.9"/><circle cx="398.8" cy="2378.8" r="4.9"/><circle cx="403.3" cy="2350" r="4.9"/><circle cx="343.5" cy="2367" r="4.9"/><circle cx="404.1" cy="2364.5" r="4.9"/><circle cx="381" cy="2368.5" r="4.9"/><circle cx="346.9" cy="2364.4" r="4.9"/><circle cx="350.8" cy="2354.6" r="4.9"/><circle cx="332.9" cy="2355.7" r="4.9"/><circle cx="404.4" cy="2361.3" r="4.9"/><circle cx="378.1" cy="2367.9" r="4.9"/><circle cx="401" cy="2359.4" r="4.9"/><circle cx="350.7" cy="2357.3" r="4.9"/><circle cx="351.5" cy="2374.7" r="4.9"/><circle cx="397.3" cy="2356.4" r="4.9"/><circle cx="352.9" cy="2364.5" r="4.9"/><circle cx="372.3" cy="2366.3" r="4.9"/><circle cx="345.8" cy="2347" r="4.9"/><circle cx="345.7" cy="2348.7" r="4.9"/><circle cx="370.1" cy="2348.7" r="4.9"/><circle cx="332.4" cy="2367.6" r="4.9"/><circle cx="349.5" cy="2372.8" r="4.9"/><circle cx="365.5" cy="2375.2" r="4.9"/><circle cx="338.6" cy="2363.1" r="4.9"/><circle cx="389.4" cy="2348.9" r="4.9"/><circle cx="401.7" cy="2352.1" r="4.9"/><circle cx="388" cy="2379.3" r="4.9"/><circle cx="391.5" cy="2357" r="4.9"/><circle cx="334.9" cy="2363.5" r="4.9"/><circle cx="399.3" cy="2356.1" r="4.9"/><circle cx="397.3" cy="2351" r="4.9"/><circle cx="398.6" cy="2347.4" r="4.9"/><circle cx="351.5" cy="2376.6" r="4.9"/><circle cx="390.1" cy="2376.7" r="4.9"/><circle cx="393.1" cy="2371.3" r="4.9"/><circle cx="381.1" cy="2352.3" r="4.9"/><circle cx="360.7" cy="2351.6" r="4.9"/><circle cx="383.1" cy="2368.7" r="4.9"/><circle cx="346.4" cy="2348.5" r="4.9"/><circle cx="402.8" cy="2373.4" r="4.9"/><circle cx="370" cy="2364.4" r="4.9"/><circle cx="393.9" cy="2361.5" r="4.9"/><circle cx="357.8" cy="2357.6" r="4.9"/><circle cx="346.9" cy="2347.1" r="4.9"/><circle cx="377.7" cy="2360.3" r="4.9"/><circle cx="371.6" cy="2348.4" r="4.9"/><circle cx="354.5" cy="2350.9" r="4.9"/><circle cx="336.3" cy="2355" r="4.9"/><circle cx="392.1" cy="2359.6" r="4.9"/><circle cx="358.2" cy="2366.8" r="4.9"/><circle cx="344.9" cy="2346.6" r="4.9"/><circle cx="368.3" cy="2363.1" r="4.9"/><circle cx="377.9" cy="2361" r="4.9"/><circle cx="380.8" cy="2370.8" r="4.9"/><circle cx="345.3" cy="2362.9" r="4.9"/><circle cx="364.4" cy="2353.8" r="4.9"/><circle cx="359.1" cy="2365.1" r="4.9"/><circle cx="398.3" cy="2377" r="4.9"/><circle cx="348.2" cy="2368" r="4.9"/><circle cx="330.2" cy="2348.7" r="4.9"/><circle cx="367" cy="2375.7" r="4.9"/><circle cx="339" cy="2372" r="4.9"/><circle cx="396.4" cy="2356.7" r="4.9"/><circle cx="381.3" cy="2374.7" r="4.9"/><circle cx="355.9" cy="2369.8" r="4.9"/><circle cx="384.8" cy="2366.2" r="4.9"/><circle cx="394.3" cy="2376.3" r="4.9"/><circle cx="402.5" cy="2365.4" r="4.9"/><circle cx="340.4" cy="2354.7" r="4.9"/><circle cx="343.7" cy="2365.4" r="4.9"/><circle cx="386.5" cy="2348" r="4.9"/><circle cx="380.5" cy="2370.3" r="4.9"/><circle cx="354" cy="2363.6" r="4.9"/><circle cx="339.5" cy="2370.8" r="4.9"/><circle cx="329.6" cy="2379.2" r="4.9"/><circle cx="390.5" cy="2367.4" r="4.9"/><circle cx="347.6" cy="2376.9" r="4.9"/><circle cx="402.5" cy="2351" r="4.9"/><circle cx="387.9" cy="2374.5" r="4.9"/><circle cx="378.7" cy="2369.8" r="4.9"/><circle cx="361.7" cy="2377.3" r="4.9"/><circle cx="403.4" cy="2359.1" r="4.9"/><circle cx="390.1" cy="2360.8" r="4.9"/><circle cx="339.5" cy="2357.2" r="4.9"/><circle cx="336.4" cy="2376.7" r="4.9"/><circle cx="402.5" cy="2350.3" r="4.9"/><circle cx="374" cy="2360" r="4.9"/><circle cx="335.8" cy="2356.2" r="4.9"/><circle cx="346.1" cy="2371.4" r="4.9"/><circle cx="326.7" cy="2352.7" r="4.9"/><circle cx="361.2" cy="2347" r="4.9"/><circle cx="376.2" cy="2366.6" r="4.9"/><circle cx="392.6" cy="2353.2" r="4.9"/><circle cx="349" cy="2364.5" r="4.9"/><circle cx="348.1" cy="2365.9" r="4.9"/><circle cx="346.3" cy="2369.2" r="4.9"/><circle cx="389.1" cy="2373.4" r="4.9"/><circle cx="403.6" cy="2364.6" r="4.9"/><circle cx="365.3" cy="2375" r="4.9"/><circle cx="387.4" cy="2365.4" r="4.9"/><circle cx="356.8" cy="2355.8" r="4.9"/><circle cx="335" cy="2373.4" r="4.9"/><circle cx="335.8" cy="2371.3" r="4.9"/><circle cx="369.6" cy="2378.6" r="4.9"/><circle cx="386.8" cy="2378.9" r="4.9"/><circle cx="337.2" cy="2363.1" r="4.9"/><circle cx="371.8" cy="2356.7" r="4.9"/><circle cx="366.3" cy="2358.3" r="4.9"/><circle cx="368.3" cy="2346.3" r="4.9"/><circle cx="361.5" cy="2361.4" r="4.9"/><circle cx="350.6" cy="2359.7" r="4.9"/><circle cx="388.5" cy="2369.2" r="4.9"/><circle cx="365.4" cy="2368" r="4.9"/><circle cx="356.3" cy="2353.1" r="4.9"/><circle cx="326.7" cy="2355.6" r="4.9"/><circle cx="373.8" cy="2375.8" r="4.9"/><circle cx="392.2" cy="2363.4" r="4.9"/><circle cx="404.7" cy="2361.8" r="4.9"/><circle cx="392.6" cy="2360" r="4.9"/><circle cx="385.4" cy="2379.4" r="4.9"/><circle cx="350.6" cy="2352" r="4.9"/><circle cx="375.6" cy="2364.1" r="4.9"/><circle cx="354.9" cy="2346.4" r="4.9"/><circle cx="357.3" cy="2360.6" r="4.9"/><circle cx="358.5" cy="2375.2" r="4.9"/><circle cx="372.7" cy="2370.9" r="4.9"/><circle cx="397.6" cy="2371.4" r="4.9"/><circle cx="365.5" cy="2371.3" r="4.9"/><circle cx="377.2" cy="2368" r="4.9"/><circle cx="376.3" cy="2359.9" r="4.9"/><circle cx="376.3" cy="2367.5" r="4.9"/><circle cx="400.7" cy="2372.5" r="4.9"/><circle cx="393.5" cy="2372" r="4.9"/><circle cx="391.1" cy="2366.6" r="4.9"/><circle cx="354.1" cy="2355.2" r="4.9"/><circle cx="382.5" cy="2375.6" r="4.9"/><circle cx="369.6" cy="2351.4" r="4.9"/><circle cx="392.5" cy="2362.5" r="4.9"/><circle cx="363.4" cy="2347.8" r="4.9"/><circle cx="366.9" cy="2371.2" r="4.9"/><circle cx="359.9" cy="2358.2" r="4.9"/><circle cx="378.5" cy="2347" r="4.9"/><circle cx="366.6" cy="2378" r="4.9"/><circle cx="381.2" cy="2359.8" r="4.9"/><circle cx="381" cy="2366.6" r="4.9"/><circle cx="343" cy="2353.3" r="4.9"/><circle cx="396.7" cy="2355.3" r="4.9"/><circle cx="332.3" cy="2374.1" r="4.9"/><circle cx="367.9" cy="2358.6" r="4.9"/><circle cx="367" cy="2371" r="4.9"/><circle cx="339.8" cy="2368.2" r="4.9"/><circle cx="383" cy="2373.6" r="4.9"/><circle cx="347.8" cy="2366.7" r="4.9"/><circle cx="344.8" cy="2365.1" r="4.9"/><circle cx="340.1" cy="2372.8" r="4.9"/><circle cx="395.1" cy="2357.3" r="4.9"/><circle cx="344" cy="2378.6" r="4.9"/><circle cx="382.4" cy="2374.6" r="4.9"/><circle cx="328.8" cy="2376.4" r="4.9"/><circle cx="375.8" cy="2356.9" r="4.9"/><circle cx="360.6" cy="2371.8" r="4.9"/><circle cx="388.7" cy="2352.7" r="4.9"/><circle cx="376" cy="2351.8" r="4.9"/><circle cx="403.6" cy="2361.2" r="4.9"/><circle cx="398.8" cy="2370.7" r="4.9"/><circle cx="374.5" cy="2355.1" r="4.9"/><circle cx="368.2" cy="2350.9" r="4.9"/><circle cx="337.4" cy="2370.3" r="4.9"/><circle cx="355" cy="2371.5" r="4.9"/><circle cx="345.5" cy="2370.4" r="4.9"/><circle cx="383.4" cy="2356.5" r="4.9"/><circle cx="334.8" cy="2359.6" r="4.9"/><circle cx="365.4" cy="2349.6" r="4.9"/><circle cx="341.2" cy="2348.2" r="4.9"/><circle cx="373.8" cy="2376.1" r="4.9"/><circle cx="343.6" cy="2347.5" r="4.9"/><circle cx="382.2" cy="2373.6" r="4.9"/><circle cx="402.9" cy="2366.8" r="4.9"/><circle cx="353.6" cy="2374.4" r="4.9"/><circle cx="335.8" cy="2369.5" r="4.9"/><circle cx="334" cy="2359.7" r="4.9"/><circle cx="365.7" cy="2359" r="4.9"/><circle cx="339.8" cy="2354.1" r="4.9"/><circle cx="391.4" cy="2361.8" r="4.9"/><circle cx="372.4" cy="2353.4" r="4.9"/><circle cx="383.1" cy="2357.4" r="4.9"/><circle cx="373.5" cy="2376.8" r="4.9"/><circle cx="405.3" cy="2347.8" r="4.9"/><circle cx="389.6" cy="2375" r="4.9"/><circle cx="351.7" cy="2359.1" r="4.9"/><circle cx="372.4" cy="2377.1" r="4.9"/><circle cx="358.1" cy="2375.8" r="4.9"/><circle cx="386.6" cy="2351.4" r="4.9"/><circle cx="398.9" cy="2346.8" r="4.9"/><circle cx="337.9" cy="2368.6" r="4.9"/><circle cx="330.9" cy="2359" r="4.9"/><circle cx="336.7" cy="2361.8" r="4.9"/><circle cx="393" cy="2376.7" r="4.9"/><circle cx="329.2" cy="2348.3" r="4.9"/><circle cx="393.1" cy="2347.7" r="4.9"/><circle cx="348.1" cy="2350.2" r="4.9"/><circle cx="333.6" cy="2347.2" r="4.9"/><circle cx="377" cy="2371.2" r="4.9"/><circle cx="380.9" cy="2374.6" r="4.9"/><circle cx="379" cy="2359.4" r="4.9"/><circle cx="376.4" cy="2378.8" r="4.9"/><circle cx="377.3" cy="2354.4" r="4.9"/><circle cx="331.2" cy="2377.6" r="4.9"/><circle cx="373.2" cy="2358" r="4.9"/><circle cx="374.4" cy="2365.1" r="4.9"/><circle cx="367.8" cy="2348.3" r="4.9"/><circle cx="354.4" cy="2360.1" r="4.9"/><circle cx="342.2" cy="2375.8" r="4.9"/><circle cx="360" cy="2368.5" r="4.9"/><circle cx="383" cy="2371.2" r="4.9"/><circle cx="383.6" cy="2371.5" r="4.9"/><circle cx="346.4" cy="2379" r="4.9"/><circle cx="338.4" cy="2377.1" r="4.9"/><circle cx="394.2" cy="2374.8" r="4.9"/><circle cx="330.6" cy="2349.4" r="4.9"/><circle cx="390.9" cy="2362" r="4.9"/><circle cx="355.8" cy="2379.3" r="4.9"/><circle cx="329.6" cy="2364.1" r="4.9"/><circle cx="361.6" cy="2350.6" r="4.9"/><circle cx="357.7" cy="2370" r="4.9"/><circle cx="396.4" cy="2347.1" r="4.9"/><circle cx="368" cy="2349.3" r="4.9"/><circle cx="389.9" cy="2349.2" r="4.9"/><circle cx="329.1" cy="2359.2" r="4.9"/><circle cx="384.5" cy="2356.8" r="4.9"/><circle cx="336.7" cy="2372.9" r="4.9"/><circle cx="390.4" cy="2375" r="4.9"/><circle cx="350.5" cy="2360.5" r="4.9"/><circle cx="345.9" cy="2365" r="4.9"/><circle cx="352.6" cy="2357.6" r="4.9"/><circle cx="388.5" cy="2378.3" r="4.9"/><circle cx="372.7" cy="2349.8" r="4.9"/><circle cx="378.1" cy="2361.3" r="4.9"/><circle cx="404.8" cy="2370.4" r="4.9"/><circle cx="392.6" cy="2369.8" r="4.9"/><circle cx="368.9" cy="2376.3" r="4.9"/><circle cx="392.3" cy="2356.1" r="4.9"/><circle cx="338.9" cy="2358.7" r="4.9"/><circle cx="367.7" cy="2349.6" r="4.9"/><circle cx="353.8" cy="2365.6" r="4.9"/><circle cx="329.9" cy="2373.6" r="4.9"/><circle cx="378" cy="2356.8" r="4.9"/><circle cx="350.1" cy="2358.1" r="4.9"/><circle cx="352.2" cy="2371.4" r="4.9"/><circle cx="366.1" cy="2363.9" r="4.9"/><circle cx="338.2" cy="2376.9" r="4.9"/><circle cx="352.2" cy="2357.3" r="4.9"/><circle cx="331.9" cy="2379.1" r="4.9"/><circle cx="364.4" cy="2376.9" r="4.9"/><circle cx="400" cy="2378.8" r="4.9"/><circle cx="391.1" cy="2377.3" r="4.9"/><circle cx="399.5" cy="2373.1" r="4.9"/><circle cx="337.1" cy="2363.8" r="4.9"/><circle cx="372" cy="2379.5" r="4.9"/><circle cx="388.6" cy="2369.8" r="4.9"/><circle cx="385.6" cy="2358.4" r="4.9"/><circle cx="401.1" cy="2367.9" r="4.9"/><circle cx="358.3" cy="2361.9" r="4.9"/><circle cx="404.1" cy="2364.1" r="4.9"/><circle cx="339.7" cy="2351.3" r="4.9"/><circle cx="380.9" cy="2365.2" r="4.9"/><circle cx="398.3" cy="2352.5" r="4.9"/><circle cx="359" cy="2370.7" r="4.9"/><circle cx="330.4" cy="2349.6" r="4.9"/><circle cx="369.7" cy="2355.2" r="4.9"/><circle cx="334.9" cy="2355.1" r="4.9"/><circle cx="376.5" cy="2363.9" r="4.9"/><circle cx="332.6" cy="2348.7" r="4.9"/><circle cx="393.9" cy="2367.8" r="4.9"/><circle cx="340.1" cy="2375.2" r="4.9"/><circle cx="328.1" cy="2358.6" r="4.9"/><circle cx="393.6" cy="2370.1" r="4.9"/><circle cx="348.9" cy="2376.2" r="4.9"/><circle cx="373.8" cy="2375.3" r="4.9"/><circle cx="397.2" cy="2360.6" r="4.9"/><circle cx="380" cy="2364.5" r="4.9"/><circle cx="401.3" cy="2373" r="4.9"/><circle cx="384" cy="2373.6" r="4.9"/><circle cx="405.6" cy="2354.9" r="4.9"/><circle cx="342.4" cy="2371.3" r="4.9"/><circle cx="387.5" cy="2363.5" r="4.9"/><circle cx="365" cy="2359.8" r="4.9"/><circle cx="396.4" cy="2373" r="4.9"/><circle cx="372.8" cy="2347.6" r="4.9"/><circle cx="393.9" cy="2361.7" r="4.9"/><circle cx="341.4" cy="2356.3" r="4.9"/><circle cx="381.2" cy="2346.5" r="4.9"/><circle cx="335.9" cy="2356.4" r="4.9"/><circle cx="396.8" cy="2371.3" r="4.9"/><circle cx="403.4" cy="2364.5" r="4.9"/><circle cx="371.8" cy="2364.8" r="4.9"/><circle cx="368.1" cy="2364.5" r="4.9"/><circle cx="391.3" cy="2378.2" r="4.9"/><circle cx="358.8" cy="2367.4" r="4.9"/><circle cx="350.8" cy="2356.4" r="4.9"/><circle cx="366.6" cy="2365.9" r="4.9"/><circle cx="370" cy="2379" r="4.9"/><circle cx="339.3" cy="2367.6" r="4.9"/><circle cx="405.3" cy="2371" r="4.9"/><circle cx="371.3" cy="2358.6" r="4.9"/><circle cx="358.3" cy="2377.7" r="4.9"/><circle cx="397.4" cy="2368.7" r="4.9"/><circle cx="397.7" cy="2377.3" r="4.9"/><circle cx="393.5" cy="2359.1" r="4.9"/><circle cx="363.2" cy="2373" r="4.9"/><circle cx="355.9" cy="2371.4" r="4.9"/><circle cx="364.6" cy="2357.6" r="4.9"/><circle cx="362.6" cy="2350.2" r="4.9"/><circle cx="354.5" cy="2360.2" r="4.9"/><circle cx="327.8" cy="2352.1" r="4.9"/><circle cx="347" cy="2375" r="4.9"/><circle cx="373.2" cy="2355.9" r="4.9"/><circle cx="405.5" cy="2354.9" r="4.9"/><circle cx="367.1" cy="2371.1" r="4.9"/><circle cx="381.2" cy="2360.8" r="4.9"/><circle cx="388" cy="2362.6" r="4.9"/><circle cx="383.1" cy="2362.8" r="4.9"/><circle cx="403.4" cy="2370.3" r="4.9"/><circle cx="333.6" cy="2350.6" r="4.9"/><circle cx="403" cy="2354" r="4.9"/><circle cx="328.5" cy="2354.8" r="4.9"/><circle cx="364.4" cy="2378.2" r="4.9"/><circle cx="358.1" cy="2370.5" r="4.9"/><circle cx="392.6" cy="2349.3" r="4.9"/><circle cx="374.9" cy="2379.7" r="4.9"/><circle cx="370" cy="2364.2" r="4.9"/><circle cx="353.9" cy="2378" r="4.9"/><circle cx="403.3" cy="2349.8" r="4.9"/><circle cx="370.2" cy="2360.4" r="4.9"/><circle cx="379.7" cy="2350.3" r="4.9"/><circle cx="347.4" cy="2355.6" r="4.9"/><circle cx="364.4" cy="2372.9" r="4.9"/><circle cx="394.4" cy="2372.6" r="4.9"/><circle cx="380.1" cy="2349.2" r="4.9"/><circle cx="357.3" cy="2368.7" r="4.9"/><circle cx="349.7" cy="2363.3" r="4.9"/><circle cx="398.2" cy="2350.2" r="4.9"/><circle cx="394.1" cy="2349.8" r="4.9"/><circle cx="357" cy="2376.6" r="4.9"/><circle cx="342.4" cy="2363.7" r="4.9"/><circle cx="359.4" cy="2376" r="4.9"/><circle cx="405.1" cy="2356" r="4.9"/><circle cx="365.5" cy="2376.3" r="4.9"/><circle cx="369.6" cy="2353.5" r="4.9"/><circle cx="386.6" cy="2357.6" r="4.9"/><circle cx="364.9" cy="2346.6" r="4.9"/><circle cx="404.8" cy="2368.3" r="4.9"/><circle cx="399.8" cy="2378.8" r="4.9"/><circle cx="347.6" cy="2364.4" r="4.9"/><circle cx="361.3" cy="2371.8" r="4.9"/><circle cx="393.2" cy="2354" r="4.9"/><circle cx="348.2" cy="2370" r="4.9"/><circle cx="359" cy="2350.7" r="4.9"/><circle cx="341.9" cy="2365.1" r="4.9"/><circle cx="373.9" cy="2378.5" r="4.9"/><circle cx="368.6" cy="2366.7" r="4.9"/><circle cx="338.2" cy="2360.2" r="4.9"/><circle cx="348.6" cy="2369.6" r="4.9"/><circle cx="347.6" cy="2353.5" r="4.9"/><circle cx="355.6" cy="2362.1" r="4.9"/><circle cx="353.2" cy="2366.6" r="4.9"/><circle cx="340.8" cy="2375.8" r="4.9"/><circle cx="381.4" cy="2364.2" r="4.9"/><circle cx="331" cy="2357.2" r="4.9"/><circle cx="381.1" cy="2367.9" r="4.9"/><circle cx="390.8" cy="2376.2" r="4.9"/><circle cx="351.4" cy="2362.8" r="4.9"/><circle cx="352.6" cy="2350.6" r="4.9"/><circle cx="337.5" cy="2354.9" r="4.9"/><circle cx="333.4" cy="2364.4" r="4.9"/><circle cx="382.1" cy="2365.2" r="4.9"/><circle cx="380.7" cy="2353.9" r="4.9"/>
</g>
<path d="M167.5 2419.5V1844H563.75V2321.4H960V2419.5Z" fill="#000" fill-opacity="0.1"/>
<g stroke="#000" stroke-width="2.2" fill="none">
<path d="M167.5 1746V2419.5H960" stroke-linecap="square"/>
</g>
<path d="M167.5 2419.5v8.8M266.6 2419.5v8.8M365.6 2419.5v8.8M464.7 2419.5v8.8M563.8 2419.5v8.8M662.8 2419.5v8.8M761.9 2419.5v8.8M861 2419.5v8.8M960 2419.5v8.8M167.5 1753.8h-8.8M167.5 1834.9h-8.8M167.5 1916h-8.8M167.5 1997.1h-8.8M167.5 2078.2h-8.8M167.5 2159.3h-8.8M167.5 2240.4h-8.8M167.5 2321.5h-8.8M167.5 2402.6h-8.8" stroke="#333" stroke-width="2.2" fill="none"/>
<g class="tk" text-anchor="middle">
<text x="167.5" y="2455.7">−0.50</text>
<text x="266.6" y="2455.7">−0.25</text>
<text x="365.6" y="2455.7">0.00</text>
<text x="464.7" y="2455.7">0.25</text>
<text x="563.8" y="2455.7">0.50</text>
<text x="662.8" y="2455.7">0.75</text>
<text x="761.9" y="2455.7">1.00</text>
<text x="861" y="2455.7">1.25</text>
<text x="960" y="2455.7">1.50</text>
</g>
<g class="tk" text-anchor="end">
<text x="151.1" y="1764">0.14</text>
<text x="151.1" y="1845.1">0.12</text>
<text x="151.1" y="1926.2">0.10</text>
<text x="151.1" y="2007.3">0.08</text>
<text x="151.1" y="2088.4">0.06</text>
<text x="151.1" y="2169.5">0.04</text>
<text x="151.1" y="2250.6">0.02</text>
<text x="151.1" y="2331.7">0.00</text>
<text x="151.1" y="2412.8">−0.02</text>
</g>
<text class="lb" text-anchor="middle" x="563.8" y="2492.5">Inhalation Injury</text>
<text class="lb" text-anchor="middle" transform="translate(23.6 2082.8) rotate(-90)">SHAP value for</text>
<text class="lb" text-anchor="middle" transform="translate(57.3 2082.8) rotate(-90)">Inhalation Injury</text>
<text class="pl" x="65.1" y="1707">e</text>
</g>
<g class="panel">
<g fill="#1e88e5">
<circle cx="1759.3" cy="1776.1" r="4.9"/><circle cx="1797.4" cy="1793" r="4.9"/><circle cx="1744.1" cy="1830.1" r="4.9"/><circle cx="1753.4" cy="1831.1" r="4.9"/><circle cx="1792.7" cy="1826.9" r="4.9"/><circle cx="1802.1" cy="1835.5" r="4.9"/><circle cx="1765.7" cy="1861.1" r="4.9"/><circle cx="1790.5" cy="1858.7" r="4.9"/><circle cx="1756.4" cy="1870" r="4.9"/><circle cx="1748.5" cy="1874.4" r="4.9"/><circle cx="1763.5" cy="1879.5" r="4.9"/><circle cx="1787.3" cy="1884.2" r="4.9"/><circle cx="1806.8" cy="1900.4" r="4.9"/><circle cx="1810.4" cy="1903.4" r="4.9"/><circle cx="1748" cy="1903.1" r="4.9"/><circle cx="1736.5" cy="1907.3" r="4.9"/><circle cx="1792.7" cy="1905.4" r="4.9"/><circle cx="1753.4" cy="1911" r="4.9"/><circle cx="1777" cy="1917.6" r="4.9"/><circle cx="1748.5" cy="1919.1" r="4.9"/><circle cx="1734" cy="1921.8" r="4.9"/><circle cx="1786.4" cy="1926" r="4.9"/><circle cx="1800.6" cy="1923.3" r="4.9"/><circle cx="1798.2" cy="1924.5" r="4.9"/><circle cx="1751" cy="1926.3" r="4.9"/><circle cx="1755.9" cy="1927" r="4.9"/><circle cx="1770.9" cy="1932.4" r="4.9"/><circle cx="1776" cy="1933.9" r="4.9"/><circle cx="1782.2" cy="1934.9" r="4.9"/><circle cx="1792.7" cy="1931.9" r="4.9"/><circle cx="1787.8" cy="1933.1" r="4.9"/><circle cx="1761.3" cy="1936.1" r="4.9"/><circle cx="1773.1" cy="1939.8" r="4.9"/><circle cx="1739.6" cy="1939.8" r="4.9"/><circle cx="1741.1" cy="1948.6" r="4.9"/><circle cx="1800.6" cy="1946.7" r="4.9"/><circle cx="1792.7" cy="1948.4" r="4.9"/><circle cx="1786.1" cy="1951.6" r="4.9"/><circle cx="1777" cy="1952.1" r="4.9"/><circle cx="1768.9" cy="1954" r="4.9"/><circle cx="1762" cy="1957" r="4.9"/><circle cx="1751.4" cy="1957.7" r="4.9"/><circle cx="1744.8" cy="1955.3" r="4.9"/><circle cx="1808.7" cy="1957" r="4.9"/><circle cx="1741.1" cy="1961.4" r="4.9"/><circle cx="1746" cy="1960.9" r="4.9"/><circle cx="1779.7" cy="1959.7" r="4.9"/><circle cx="1787.1" cy="1960.9" r="4.9"/><circle cx="1744.8" cy="1966.3" r="4.9"/><circle cx="1741.1" cy="1971.2" r="4.9"/><circle cx="1780" cy="1968.3" r="4.9"/><circle cx="1784.9" cy="1972" r="4.9"/><circle cx="1752.2" cy="1974.9" r="4.9"/><circle cx="1760.3" cy="1972.5" r="4.9"/><circle cx="1767.4" cy="1974.2" r="4.9"/><circle cx="1757.6" cy="1979.4" r="4.9"/><circle cx="1767.4" cy="1981.1" r="4.9"/><circle cx="1733" cy="1978.6" r="4.9"/><circle cx="1730.6" cy="1981.1" r="4.9"/><circle cx="1776" cy="1987.2" r="4.9"/><circle cx="1738.2" cy="1988.9" r="4.9"/><circle cx="1765" cy="1991.4" r="4.9"/><circle cx="1768.7" cy="1993.4" r="4.9"/><circle cx="1777.3" cy="1992.6" r="4.9"/><circle cx="1789.5" cy="1994.6" r="4.9"/><circle cx="1731.8" cy="1995.1" r="4.9"/><circle cx="1742.4" cy="1995.8" r="4.9"/><circle cx="1745.3" cy="2000.7" r="4.9"/><circle cx="1773.6" cy="2002" r="4.9"/><circle cx="1787.1" cy="1999.5" r="4.9"/><circle cx="1799.4" cy="1999.5" r="4.9"/><circle cx="1802.6" cy="2003.2" r="4.9"/><circle cx="1806.8" cy="2005.7" r="4.9"/><circle cx="1740.4" cy="2006.1" r="4.9"/><circle cx="1754.1" cy="2009.3" r="4.9"/><circle cx="1737.9" cy="2009.8" r="4.9"/><circle cx="1794.5" cy="2009.3" r="4.9"/><circle cx="1774.8" cy="2010.6" r="4.9"/><circle cx="1782.2" cy="2010.6" r="4.9"/><circle cx="1802.6" cy="2010.6" r="4.9"/><circle cx="1807.5" cy="2014.3" r="4.9"/><circle cx="1734.2" cy="2015.5" r="4.9"/><circle cx="1740.4" cy="2016.7" r="4.9"/><circle cx="1773.1" cy="2015.5" r="4.9"/><circle cx="1801.8" cy="2017.9" r="4.9"/><circle cx="1807.5" cy="2017.9" r="4.9"/><circle cx="1757.6" cy="2020.9" r="4.9"/><circle cx="1730.6" cy="2022.1" r="4.9"/><circle cx="1739.2" cy="2022.9" r="4.9"/><circle cx="1794.5" cy="2022.9" r="4.9"/><circle cx="1799.4" cy="2022.9" r="4.9"/><circle cx="1782.2" cy="2025.3" r="4.9"/><circle cx="1806.8" cy="2025.3" r="4.9"/><circle cx="1760" cy="2026.5" r="4.9"/><circle cx="1767.4" cy="2028.3" r="4.9"/><circle cx="1793.2" cy="2028.3" r="4.9"/><circle cx="1735.5" cy="2030.2" r="4.9"/><circle cx="1746.5" cy="2031.5" r="4.9"/><circle cx="1789.5" cy="2032.7" r="4.9"/><circle cx="1806.8" cy="2032.7" r="4.9"/><circle cx="1733" cy="2035.2" r="4.9"/><circle cx="1739.2" cy="2036.4" r="4.9"/><circle cx="1755.1" cy="2036.9" r="4.9"/><circle cx="1787.1" cy="2037.6" r="4.9"/><circle cx="1796.9" cy="2037.6" r="4.9"/><circle cx="1740.4" cy="2041.8" r="4.9"/><circle cx="1762.5" cy="2043.8" r="4.9"/><circle cx="1780.9" cy="2044.2" r="4.9"/><circle cx="1799.4" cy="2041.8" r="4.9"/><circle cx="1803.1" cy="2043.8" r="4.9"/><circle cx="1742.8" cy="2047.4" r="4.9"/><circle cx="1747.8" cy="2049.9" r="4.9"/><circle cx="1790.8" cy="2049.9" r="4.9"/><circle cx="1800.6" cy="2049.9" r="4.9"/><circle cx="1809.2" cy="2049.2" r="4.9"/><circle cx="1736.7" cy="2052.9" r="4.9"/><circle cx="1731.8" cy="2056.5" r="4.9"/><circle cx="1742.8" cy="2056" r="4.9"/><circle cx="1767.4" cy="2058.5" r="4.9"/><circle cx="1810.4" cy="2059.7" r="4.9"/><circle cx="1746.5" cy="2061" r="4.9"/><circle cx="1753.9" cy="2062.2" r="4.9"/><circle cx="1772.3" cy="2064.7" r="4.9"/><circle cx="1780.9" cy="2065.9" r="4.9"/><circle cx="1789.5" cy="2063.4" r="4.9"/><circle cx="1804.3" cy="2064.7" r="4.9"/><circle cx="1733" cy="2068.3" r="4.9"/><circle cx="1740.4" cy="2069.6" r="4.9"/><circle cx="1760" cy="2069.6" r="4.9"/><circle cx="1755.1" cy="2068.3" r="4.9"/><circle cx="1788.3" cy="2069.6" r="4.9"/><circle cx="1801.8" cy="2069.6" r="4.9"/><circle cx="1809.2" cy="2072" r="4.9"/><circle cx="1792" cy="2072" r="4.9"/><circle cx="1734.2" cy="2073.3" r="4.9"/><circle cx="1752.7" cy="2074.5" r="4.9"/><circle cx="1805.5" cy="2074.5" r="4.9"/><circle cx="1731.8" cy="2078.2" r="4.9"/><circle cx="1740.4" cy="2079.4" r="4.9"/><circle cx="1758.8" cy="2079.4" r="4.9"/><circle cx="1766.2" cy="2079.4" r="4.9"/><circle cx="1778.5" cy="2078.7" r="4.9"/><circle cx="1782.2" cy="2076.9" r="4.9"/><circle cx="1800.6" cy="2078.2" r="4.9"/><circle cx="1806.8" cy="2079.4" r="4.9"/><circle cx="1750.2" cy="2081.9" r="4.9"/><circle cx="1755.1" cy="2084.3" r="4.9"/><circle cx="1794.5" cy="2083.1" r="4.9"/><circle cx="1804.3" cy="2082.4" r="4.9"/><circle cx="1767.4" cy="2089.2" r="4.9"/><circle cx="1733" cy="2091.2" r="4.9"/><circle cx="1736.7" cy="2090.5" r="4.9"/><circle cx="1804.3" cy="2093.4" r="4.9"/><circle cx="1757.6" cy="2098.3" r="4.9"/><circle cx="1773.6" cy="2099.1" r="4.9"/><circle cx="1787.1" cy="2100.8" r="4.9"/><circle cx="1799.4" cy="2097.1" r="4.9"/><circle cx="1809.2" cy="2101.5" r="4.9"/><circle cx="1733" cy="2101.5" r="4.9"/><circle cx="1755.1" cy="2104" r="4.9"/><circle cx="1760" cy="2102.8" r="4.9"/><circle cx="1784.6" cy="2105.2" r="4.9"/><circle cx="1798.2" cy="2105.7" r="4.9"/><circle cx="1742.8" cy="2108.9" r="4.9"/><circle cx="1746.5" cy="2108.9" r="4.9"/><circle cx="1780.9" cy="2110.6" r="4.9"/><circle cx="1753.9" cy="2111.4" r="4.9"/><circle cx="1789.5" cy="2112.6" r="4.9"/><circle cx="1762.5" cy="2113.8" r="4.9"/><circle cx="1766.2" cy="2113.8" r="4.9"/><circle cx="1806.8" cy="2113.1" r="4.9"/><circle cx="1757.6" cy="2117.5" r="4.9"/><circle cx="1761.3" cy="2120.5" r="4.9"/><circle cx="1779.7" cy="2119.2" r="4.9"/><circle cx="1799.4" cy="2120" r="4.9"/><circle cx="1809.2" cy="2120.5" r="4.9"/><circle cx="1792" cy="2122.4" r="4.9"/><circle cx="1745.3" cy="2122.4" r="4.9"/><circle cx="1730.6" cy="2122.9" r="4.9"/><circle cx="1785.9" cy="2126.6" r="4.9"/><circle cx="1740.4" cy="2129.8" r="4.9"/><circle cx="1731.8" cy="2131" r="4.9"/><circle cx="1747.8" cy="2129.8" r="4.9"/><circle cx="1751.4" cy="2134.7" r="4.9"/><circle cx="1735.5" cy="2145" r="4.9"/><circle cx="1744.1" cy="2148.7" r="4.9"/><circle cx="1808.7" cy="2145.8" r="4.9"/><circle cx="1766.2" cy="2150.2" r="4.9"/><circle cx="1772.3" cy="2153.1" r="4.9"/><circle cx="1777.3" cy="2152.7" r="4.9"/><circle cx="1808.7" cy="2159.8" r="4.9"/><circle cx="1785.9" cy="2165.4" r="4.9"/><circle cx="1787.1" cy="2167.2" r="4.9"/><circle cx="1797.4" cy="2176" r="4.9"/><circle cx="1789.5" cy="2184.9" r="4.9"/><circle cx="1351.9" cy="2245.1" r="4.9"/><circle cx="1369.3" cy="2244.5" r="4.9"/><circle cx="1364.2" cy="2249.3" r="4.9"/><circle cx="1354.4" cy="2254.9" r="4.9"/><circle cx="1380.4" cy="2254.4" r="4.9"/><circle cx="1410.2" cy="2242.8" r="4.9"/><circle cx="1402.7" cy="2247.4" r="4.9"/><circle cx="1406.5" cy="2255.3" r="4.9"/><circle cx="1387.4" cy="2261.4" r="4.9"/><circle cx="1365.1" cy="2261.8" r="4.9"/><circle cx="1413.4" cy="2264.6" r="4.9"/><circle cx="1340.4" cy="2266.5" r="4.9"/><circle cx="1334.9" cy="2269.7" r="4.9"/><circle cx="1336.7" cy="2345" r="4.9"/><circle cx="1345.6" cy="2352" r="4.9"/><circle cx="1352.1" cy="2352.5" r="4.9"/><circle cx="1362.3" cy="2354.8" r="4.9"/><circle cx="1380" cy="2350.2" r="4.9"/><circle cx="1387.9" cy="2352" r="4.9"/><circle cx="1391.1" cy="2348.3" r="4.9"/><circle cx="1409.2" cy="2347.8" r="4.9"/><circle cx="1343.7" cy="2360.4" r="4.9"/><circle cx="1412.2" cy="2360.4" r="4.9"/><circle cx="1353.2" cy="2365" r="4.9"/><circle cx="1350.7" cy="2368.3" r="4.9"/><circle cx="1377.6" cy="2365" r="4.9"/><circle cx="1375.8" cy="2367.8" r="4.9"/><circle cx="1363.7" cy="2371.5" r="4.9"/><circle cx="1368.5" cy="2376.2" r="4.9"/><circle cx="1336.9" cy="2375.3" r="4.9"/><circle cx="1351.9" cy="2387.8" r="4.9"/><circle cx="1365.5" cy="2388.7" r="4.9"/><circle cx="1344.8" cy="2331" r="4.9"/><circle cx="1394.7" cy="2288.2" r="4.9"/><circle cx="1373.4" cy="2302.3" r="4.9"/><circle cx="1385.8" cy="2326.7" r="4.9"/><circle cx="1341.6" cy="2271.8" r="4.9"/><circle cx="1400.5" cy="2301" r="4.9"/><circle cx="1394.6" cy="2270" r="4.9"/><circle cx="1369.5" cy="2321.9" r="4.9"/><circle cx="1352.3" cy="2338" r="4.9"/><circle cx="1405.7" cy="2272" r="4.9"/><circle cx="1336.1" cy="2308.9" r="4.9"/><circle cx="1408.7" cy="2297.3" r="4.9"/><circle cx="1351.3" cy="2300.3" r="4.9"/><circle cx="1336.4" cy="2285.8" r="4.9"/><circle cx="1368.9" cy="2305.6" r="4.9"/><circle cx="1352.6" cy="2286.5" r="4.9"/><circle cx="1351.5" cy="2303" r="4.9"/><circle cx="1357.1" cy="2271.4" r="4.9"/><circle cx="1400.6" cy="2310" r="4.9"/><circle cx="1385.1" cy="2283.2" r="4.9"/><circle cx="1412.9" cy="2331.9" r="4.9"/><circle cx="1343.7" cy="2293.8" r="4.9"/><circle cx="1391.4" cy="2321.1" r="4.9"/><circle cx="1408.5" cy="2300.3" r="4.9"/><circle cx="1400" cy="2318.2" r="4.9"/><circle cx="1358.2" cy="2312.2" r="4.9"/><circle cx="1404.2" cy="2330.9" r="4.9"/><circle cx="1374.2" cy="2312.3" r="4.9"/><circle cx="1336.8" cy="2287.3" r="4.9"/><circle cx="1397.4" cy="2299.7" r="4.9"/><circle cx="1347.8" cy="2309.4" r="4.9"/><circle cx="1389.9" cy="2318.5" r="4.9"/><circle cx="1363.9" cy="2301.5" r="4.9"/><circle cx="1374.5" cy="2326" r="4.9"/><circle cx="1375.5" cy="2298.2" r="4.9"/><circle cx="1373" cy="2271.9" r="4.9"/><circle cx="1337.6" cy="2320.6" r="4.9"/><circle cx="1412.2" cy="2312.6" r="4.9"/><circle cx="1365.4" cy="2282.1" r="4.9"/><circle cx="1374" cy="2340.7" r="4.9"/><circle cx="1395.3" cy="2308.8" r="4.9"/><circle cx="1402.4" cy="2286.6" r="4.9"/><circle cx="1374.9" cy="2338.6" r="4.9"/><circle cx="1380" cy="2302.9" r="4.9"/><circle cx="1355.5" cy="2309.4" r="4.9"/><circle cx="1410.1" cy="2270.2" r="4.9"/><circle cx="1396.3" cy="2329" r="4.9"/><circle cx="1404.5" cy="2323.3" r="4.9"/><circle cx="1398.3" cy="2307.2" r="4.9"/><circle cx="1378.7" cy="2300.6" r="4.9"/><circle cx="1338.6" cy="2332.6" r="4.9"/><circle cx="1379.4" cy="2284.2" r="4.9"/><circle cx="1374.2" cy="2304.8" r="4.9"/><circle cx="1362.4" cy="2294.8" r="4.9"/><circle cx="1376.9" cy="2314.8" r="4.9"/><circle cx="1382.7" cy="2302.9" r="4.9"/><circle cx="1336.3" cy="2286.4" r="4.9"/><circle cx="1348.2" cy="2312" r="4.9"/><circle cx="1402.5" cy="2327.4" r="4.9"/><circle cx="1397.4" cy="2328.7" r="4.9"/><circle cx="1354.4" cy="2330.6" r="4.9"/><circle cx="1387.5" cy="2275.8" r="4.9"/><circle cx="1335.4" cy="2270.9" r="4.9"/><circle cx="1394.1" cy="2287.8" r="4.9"/><circle cx="1342.8" cy="2314.9" r="4.9"/><circle cx="1361.4" cy="2274.8" r="4.9"/><circle cx="1346.8" cy="2307.9" r="4.9"/><circle cx="1347.5" cy="2289.5" r="4.9"/><circle cx="1390.6" cy="2302.6" r="4.9"/><circle cx="1359.7" cy="2304" r="4.9"/><circle cx="1336" cy="2297.7" r="4.9"/><circle cx="1367.5" cy="2283.4" r="4.9"/><circle cx="1342.7" cy="2334.8" r="4.9"/><circle cx="1374.6" cy="2284.9" r="4.9"/><circle cx="1382.2" cy="2328.8" r="4.9"/><circle cx="1335.8" cy="2271.1" r="4.9"/><circle cx="1345.7" cy="2321.7" r="4.9"/><circle cx="1346.8" cy="2320.7" r="4.9"/><circle cx="1387.9" cy="2309.1" r="4.9"/><circle cx="1351.6" cy="2340.2" r="4.9"/><circle cx="1397.4" cy="2307.1" r="4.9"/><circle cx="1351.8" cy="2316.6" r="4.9"/><circle cx="1365.5" cy="2311.4" r="4.9"/><circle cx="1359.6" cy="2315.4" r="4.9"/><circle cx="1338.8" cy="2291.4" r="4.9"/><circle cx="1411" cy="2333" r="4.9"/><circle cx="1358.4" cy="2331.8" r="4.9"/><circle cx="1358.7" cy="2337.6" r="4.9"/><circle cx="1393.2" cy="2299.8" r="4.9"/><circle cx="1354.1" cy="2270.4" r="4.9"/><circle cx="1403.9" cy="2272.5" r="4.9"/><circle cx="1399.2" cy="2339.3" r="4.9"/><circle cx="1379.4" cy="2282.2" r="4.9"/><circle cx="1403" cy="2340.1" r="4.9"/><circle cx="1390" cy="2306.5" r="4.9"/><circle cx="1364.1" cy="2294.8" r="4.9"/><circle cx="1350.4" cy="2318.5" r="4.9"/><circle cx="1368.5" cy="2283.8" r="4.9"/><circle cx="1342.4" cy="2317.9" r="4.9"/><circle cx="1357.6" cy="2305.9" r="4.9"/><circle cx="1359.9" cy="2332.7" r="4.9"/><circle cx="1405.5" cy="2271.1" r="4.9"/><circle cx="1350" cy="2293.5" r="4.9"/><circle cx="1412.5" cy="2326.3" r="4.9"/><circle cx="1361" cy="2285.2" r="4.9"/><circle cx="1387.7" cy="2330.3" r="4.9"/><circle cx="1408.1" cy="2294.6" r="4.9"/><circle cx="1404.2" cy="2319.4" r="4.9"/><circle cx="1372.6" cy="2341" r="4.9"/><circle cx="1352.7" cy="2322.2" r="4.9"/><circle cx="1340.8" cy="2282.1" r="4.9"/><circle cx="1406.4" cy="2285.2" r="4.9"/><circle cx="1394.4" cy="2313.1" r="4.9"/><circle cx="1400.9" cy="2296.4" r="4.9"/><circle cx="1361.1" cy="2290.8" r="4.9"/><circle cx="1403" cy="2313.4" r="4.9"/><circle cx="1409.9" cy="2333.9" r="4.9"/><circle cx="1344.8" cy="2309.6" r="4.9"/><circle cx="1342.4" cy="2272.6" r="4.9"/><circle cx="1339.9" cy="2332.3" r="4.9"/><circle cx="1396.7" cy="2329.6" r="4.9"/><circle cx="1361.2" cy="2314.2" r="4.9"/><circle cx="1396.2" cy="2297.1" r="4.9"/><circle cx="1379.4" cy="2286" r="4.9"/><circle cx="1340.6" cy="2289.1" r="4.9"/><circle cx="1404.8" cy="2310.6" r="4.9"/><circle cx="1407.6" cy="2302.9" r="4.9"/><circle cx="1356.1" cy="2326.6" r="4.9"/><circle cx="1399.8" cy="2270.7" r="4.9"/><circle cx="1387.3" cy="2276.4" r="4.9"/><circle cx="1343.2" cy="2333.7" r="4.9"/><circle cx="1337.3" cy="2287.1" r="4.9"/><circle cx="1412.6" cy="2300.2" r="4.9"/><circle cx="1343.3" cy="2281.9" r="4.9"/><circle cx="1353.3" cy="2323.5" r="4.9"/><circle cx="1342.3" cy="2335.6" r="4.9"/><circle cx="1364.1" cy="2339.9" r="4.9"/><circle cx="1406.3" cy="2291" r="4.9"/><circle cx="1354.2" cy="2304.2" r="4.9"/><circle cx="1342.1" cy="2316.9" r="4.9"/><circle cx="1337.2" cy="2270.6" r="4.9"/><circle cx="1412.1" cy="2291.1" r="4.9"/><circle cx="1381.5" cy="2302.3" r="4.9"/><circle cx="1359" cy="2274.3" r="4.9"/><circle cx="1406.6" cy="2339.8" r="4.9"/><circle cx="1411.1" cy="2277.8" r="4.9"/><circle cx="1351.2" cy="2314.4" r="4.9"/><circle cx="1411.9" cy="2309" r="4.9"/><circle cx="1388.7" cy="2317.6" r="4.9"/><circle cx="1354.7" cy="2308.9" r="4.9"/><circle cx="1358.5" cy="2287.6" r="4.9"/><circle cx="1340.6" cy="2290.1" r="4.9"/><circle cx="1412.2" cy="2302.1" r="4.9"/><circle cx="1385.9" cy="2316.3" r="4.9"/><circle cx="1408.8" cy="2298" r="4.9"/><circle cx="1358.5" cy="2293.4" r="4.9"/><circle cx="1359.2" cy="2331" r="4.9"/><circle cx="1405" cy="2291.7" r="4.9"/><circle cx="1360.6" cy="2309.1" r="4.9"/><circle cx="1380.1" cy="2312.8" r="4.9"/><circle cx="1353.6" cy="2271.3" r="4.9"/><circle cx="1353.5" cy="2275" r="4.9"/><circle cx="1377.9" cy="2274.9" r="4.9"/><circle cx="1340.1" cy="2315.7" r="4.9"/><circle cx="1357.2" cy="2327" r="4.9"/><circle cx="1373.3" cy="2332.1" r="4.9"/><circle cx="1346.3" cy="2306" r="4.9"/><circle cx="1397.2" cy="2275.4" r="4.9"/><circle cx="1409.5" cy="2282.3" r="4.9"/><circle cx="1395.7" cy="2340.9" r="4.9"/><circle cx="1399.3" cy="2292.9" r="4.9"/><circle cx="1342.6" cy="2306.9" r="4.9"/><circle cx="1407.1" cy="2291" r="4.9"/><circle cx="1405.1" cy="2280" r="4.9"/><circle cx="1406.4" cy="2272.1" r="4.9"/><circle cx="1359.2" cy="2335" r="4.9"/><circle cx="1397.9" cy="2335.3" r="4.9"/><circle cx="1400.9" cy="2323.7" r="4.9"/><circle cx="1388.9" cy="2282.7" r="4.9"/><circle cx="1368.5" cy="2281.2" r="4.9"/><circle cx="1390.9" cy="2318" r="4.9"/><circle cx="1354.2" cy="2274.5" r="4.9"/><circle cx="1410.6" cy="2328.2" r="4.9"/><circle cx="1377.7" cy="2308.9" r="4.9"/><circle cx="1401.7" cy="2302.5" r="4.9"/><circle cx="1365.5" cy="2294.3" r="4.9"/><circle cx="1354.6" cy="2271.6" r="4.9"/><circle cx="1385.4" cy="2299.9" r="4.9"/><circle cx="1379.4" cy="2274.3" r="4.9"/><circle cx="1362.3" cy="2279.8" r="4.9"/><circle cx="1344" cy="2288.5" r="4.9"/><circle cx="1399.9" cy="2298.5" r="4.9"/><circle cx="1365.9" cy="2314" r="4.9"/><circle cx="1352.6" cy="2270.3" r="4.9"/><circle cx="1376.1" cy="2306" r="4.9"/><circle cx="1385.6" cy="2301.4" r="4.9"/><circle cx="1388.6" cy="2322.6" r="4.9"/><circle cx="1353" cy="2305.5" r="4.9"/><circle cx="1372.1" cy="2286" r="4.9"/><circle cx="1366.8" cy="2310.3" r="4.9"/><circle cx="1406.1" cy="2336.1" r="4.9"/><circle cx="1356" cy="2316.5" r="4.9"/><circle cx="1337.9" cy="2275" r="4.9"/><circle cx="1374.7" cy="2333.2" r="4.9"/><circle cx="1346.8" cy="2325.1" r="4.9"/><circle cx="1404.2" cy="2292.3" r="4.9"/><circle cx="1389.1" cy="2331.1" r="4.9"/><circle cx="1363.6" cy="2320.4" r="4.9"/><circle cx="1392.6" cy="2312.7" r="4.9"/><circle cx="1402.1" cy="2334.5" r="4.9"/><circle cx="1410.3" cy="2311" r="4.9"/><circle cx="1348.1" cy="2287.9" r="4.9"/><circle cx="1351.4" cy="2310.9" r="4.9"/><circle cx="1394.3" cy="2273.6" r="4.9"/><circle cx="1388.2" cy="2321.6" r="4.9"/><circle cx="1361.7" cy="2307" r="4.9"/><circle cx="1347.2" cy="2322.5" r="4.9"/><circle cx="1337.3" cy="2340.6" r="4.9"/><circle cx="1398.3" cy="2315.2" r="4.9"/><circle cx="1355.3" cy="2335.7" r="4.9"/><circle cx="1410.3" cy="2279.8" r="4.9"/><circle cx="1395.7" cy="2330.6" r="4.9"/><circle cx="1386.5" cy="2320.4" r="4.9"/><circle cx="1369.4" cy="2336.5" r="4.9"/><circle cx="1411.2" cy="2297.4" r="4.9"/><circle cx="1397.8" cy="2301.1" r="4.9"/><circle cx="1347.2" cy="2293.3" r="4.9"/><circle cx="1344.1" cy="2335.4" r="4.9"/><circle cx="1410.3" cy="2278.4" r="4.9"/><circle cx="1381.8" cy="2299.3" r="4.9"/><circle cx="1343.5" cy="2291.1" r="4.9"/><circle cx="1353.8" cy="2323.9" r="4.9"/><circle cx="1334.4" cy="2283.5" r="4.9"/><circle cx="1368.9" cy="2271.3" r="4.9"/><circle cx="1383.9" cy="2313.5" r="4.9"/><circle cx="1400.4" cy="2284.7" r="4.9"/><circle cx="1356.7" cy="2309" r="4.9"/><circle cx="1355.8" cy="2312.1" r="4.9"/><circle cx="1354" cy="2319.2" r="4.9"/><circle cx="1396.9" cy="2328.2" r="4.9"/><circle cx="1411.4" cy="2309.2" r="4.9"/><circle cx="1373.1" cy="2331.6" r="4.9"/><circle cx="1395.2" cy="2311" r="4.9"/><circle cx="1364.5" cy="2290.3" r="4.9"/><circle cx="1342.7" cy="2328.1" r="4.9"/><circle cx="1343.5" cy="2323.8" r="4.9"/><circle cx="1377.4" cy="2339.5" r="4.9"/><circle cx="1394.5" cy="2340.1" r="4.9"/><circle cx="1344.9" cy="2305.9" r="4.9"/><circle cx="1379.6" cy="2292.3" r="4.9"/><circle cx="1374" cy="2295.6" r="4.9"/><circle cx="1376.1" cy="2269.9" r="4.9"/><circle cx="1369.2" cy="2302.3" r="4.9"/><circle cx="1358.3" cy="2298.6" r="4.9"/><circle cx="1396.3" cy="2319.1" r="4.9"/><circle cx="1373.2" cy="2316.6" r="4.9"/><circle cx="1364.1" cy="2284.5" r="4.9"/><circle cx="1334.4" cy="2289.8" r="4.9"/><circle cx="1381.6" cy="2333.5" r="4.9"/><circle cx="1400" cy="2306.7" r="4.9"/><circle cx="1412.5" cy="2303.1" r="4.9"/><circle cx="1400.4" cy="2299.3" r="4.9"/><circle cx="1393.2" cy="2341.1" r="4.9"/><circle cx="1358.3" cy="2282.1" r="4.9"/><circle cx="1383.3" cy="2308.1" r="4.9"/><circle cx="1362.6" cy="2270.1" r="4.9"/><circle cx="1365" cy="2300.5" r="4.9"/><circle cx="1366.3" cy="2332" r="4.9"/><circle cx="1380.5" cy="2322.8" r="4.9"/><circle cx="1405.4" cy="2323.9" r="4.9"/><circle cx="1373.2" cy="2323.6" r="4.9"/><circle cx="1384.9" cy="2316.6" r="4.9"/><circle cx="1384.1" cy="2299.2" r="4.9"/><circle cx="1384.1" cy="2315.6" r="4.9"/><circle cx="1408.5" cy="2326.3" r="4.9"/><circle cx="1401.3" cy="2325.2" r="4.9"/><circle cx="1398.8" cy="2313.5" r="4.9"/><circle cx="1361.8" cy="2288.9" r="4.9"/><circle cx="1390.3" cy="2332.9" r="4.9"/><circle cx="1377.3" cy="2280.8" r="4.9"/><circle cx="1400.2" cy="2304.8" r="4.9"/><circle cx="1371.2" cy="2273.1" r="4.9"/><circle cx="1374.6" cy="2323.6" r="4.9"/><circle cx="1367.7" cy="2295.4" r="4.9"/><circle cx="1386.3" cy="2271.2" r="4.9"/><circle cx="1374.4" cy="2338.1" r="4.9"/><circle cx="1388.9" cy="2298.8" r="4.9"/><circle cx="1388.8" cy="2313.5" r="4.9"/><circle cx="1350.7" cy="2284.8" r="4.9"/><circle cx="1404.5" cy="2289.2" r="4.9"/><circle cx="1340" cy="2329.8" r="4.9"/><circle cx="1375.6" cy="2296.4" r="4.9"/><circle cx="1374.7" cy="2323" r="4.9"/><circle cx="1347.5" cy="2317" r="4.9"/><circle cx="1390.7" cy="2328.6" r="4.9"/><circle cx="1355.5" cy="2313.8" r="4.9"/><circle cx="1352.5" cy="2310.3" r="4.9"/><circle cx="1347.8" cy="2326.8" r="4.9"/><circle cx="1402.9" cy="2293.6" r="4.9"/><circle cx="1351.8" cy="2339.4" r="4.9"/><circle cx="1390.2" cy="2330.7" r="4.9"/><circle cx="1336.5" cy="2334.7" r="4.9"/><circle cx="1383.5" cy="2292.7" r="4.9"/><circle cx="1368.4" cy="2324.8" r="4.9"/><circle cx="1396.5" cy="2283.5" r="4.9"/><circle cx="1383.8" cy="2281.8" r="4.9"/><circle cx="1411.4" cy="2301.8" r="4.9"/><circle cx="1406.6" cy="2322.4" r="4.9"/><circle cx="1382.2" cy="2288.7" r="4.9"/><circle cx="1375.9" cy="2279.8" r="4.9"/><circle cx="1345.1" cy="2321.5" r="4.9"/><circle cx="1362.8" cy="2324" r="4.9"/><circle cx="1353.2" cy="2321.7" r="4.9"/><circle cx="1391.1" cy="2291.9" r="4.9"/><circle cx="1342.5" cy="2298.5" r="4.9"/><circle cx="1373.2" cy="2277" r="4.9"/><circle cx="1348.9" cy="2273.8" r="4.9"/><circle cx="1381.5" cy="2334" r="4.9"/><circle cx="1351.3" cy="2272.3" r="4.9"/><circle cx="1390" cy="2328.6" r="4.9"/><circle cx="1410.7" cy="2314.1" r="4.9"/><circle cx="1361.3" cy="2330.3" r="4.9"/><circle cx="1343.5" cy="2319.8" r="4.9"/><circle cx="1341.7" cy="2298.7" r="4.9"/><circle cx="1373.4" cy="2297.1" r="4.9"/><circle cx="1347.5" cy="2286.5" r="4.9"/><circle cx="1399.2" cy="2303.2" r="4.9"/><circle cx="1380.1" cy="2285.1" r="4.9"/><circle cx="1390.9" cy="2293.6" r="4.9"/><circle cx="1381.2" cy="2335.5" r="4.9"/><circle cx="1413.1" cy="2273.1" r="4.9"/><circle cx="1397.4" cy="2331.7" r="4.9"/><circle cx="1359.5" cy="2297.5" r="4.9"/><circle cx="1380.2" cy="2336.1" r="4.9"/><circle cx="1365.9" cy="2333.3" r="4.9"/><circle cx="1394.3" cy="2280.8" r="4.9"/><circle cx="1406.6" cy="2270.9" r="4.9"/><circle cx="1345.6" cy="2317.8" r="4.9"/><circle cx="1338.6" cy="2297.2" r="4.9"/><circle cx="1344.4" cy="2303.2" r="4.9"/><circle cx="1400.8" cy="2335.2" r="4.9"/><circle cx="1336.9" cy="2274.2" r="4.9"/><circle cx="1400.8" cy="2272.9" r="4.9"/><circle cx="1355.8" cy="2278.3" r="4.9"/><circle cx="1341.3" cy="2271.8" r="4.9"/><circle cx="1384.7" cy="2323.6" r="4.9"/><circle cx="1388.6" cy="2330.9" r="4.9"/><circle cx="1386.7" cy="2297.9" r="4.9"/><circle cx="1384.2" cy="2339.8" r="4.9"/><circle cx="1385" cy="2287.4" r="4.9"/><circle cx="1338.9" cy="2337.3" r="4.9"/><circle cx="1381" cy="2295" r="4.9"/><circle cx="1382.2" cy="2310.3" r="4.9"/><circle cx="1375.6" cy="2274.2" r="4.9"/><circle cx="1362.1" cy="2299.6" r="4.9"/><circle cx="1349.9" cy="2333.3" r="4.9"/><circle cx="1367.8" cy="2317.6" r="4.9"/><circle cx="1390.8" cy="2323.5" r="4.9"/><circle cx="1391.4" cy="2324.1" r="4.9"/><circle cx="1354.1" cy="2340.3" r="4.9"/><circle cx="1346.1" cy="2336.1" r="4.9"/><circle cx="1402" cy="2331.3" r="4.9"/><circle cx="1338.3" cy="2276.4" r="4.9"/><circle cx="1398.7" cy="2303.7" r="4.9"/><circle cx="1363.5" cy="2340.9" r="4.9"/><circle cx="1337.3" cy="2308.2" r="4.9"/><circle cx="1369.3" cy="2279.1" r="4.9"/><circle cx="1365.5" cy="2320.9" r="4.9"/><circle cx="1404.2" cy="2271.6" r="4.9"/><circle cx="1375.7" cy="2276.3" r="4.9"/><circle cx="1397.7" cy="2276" r="4.9"/><circle cx="1336.8" cy="2297.5" r="4.9"/><circle cx="1392.3" cy="2292.4" r="4.9"/><circle cx="1344.4" cy="2327.2" r="4.9"/><circle cx="1398.2" cy="2331.6" r="4.9"/><circle cx="1358.2" cy="2300.5" r="4.9"/><circle cx="1353.6" cy="2310" r="4.9"/><circle cx="1360.3" cy="2294.3" r="4.9"/><circle cx="1396.3" cy="2338.8" r="4.9"/><circle cx="1380.5" cy="2277.4" r="4.9"/><circle cx="1385.9" cy="2302.2" r="4.9"/><circle cx="1412.5" cy="2321.7" r="4.9"/><circle cx="1400.4" cy="2320.4" r="4.9"/><circle cx="1376.6" cy="2334.6" r="4.9"/><circle cx="1400.1" cy="2290.8" r="4.9"/><circle cx="1346.6" cy="2296.5" r="4.9"/><circle cx="1375.5" cy="2276.8" r="4.9"/><circle cx="1361.5" cy="2311.3" r="4.9"/><circle cx="1337.6" cy="2328.6" r="4.9"/><circle cx="1385.8" cy="2292.4" r="4.9"/><circle cx="1357.8" cy="2295.3" r="4.9"/><circle cx="1359.9" cy="2323.8" r="4.9"/><circle cx="1373.9" cy="2307.8" r="4.9"/><circle cx="1345.9" cy="2335.8" r="4.9"/><circle cx="1360" cy="2293.5" r="4.9"/><circle cx="1339.6" cy="2340.5" r="4.9"/><circle cx="1372.2" cy="2335.7" r="4.9"/><circle cx="1407.8" cy="2339.8" r="4.9"/><circle cx="1398.9" cy="2336.6" r="4.9"/><circle cx="1407.3" cy="2327.7" r="4.9"/><circle cx="1344.8" cy="2307.6" r="4.9"/><circle cx="1379.8" cy="2341.5" r="4.9"/><circle cx="1396.3" cy="2320.6" r="4.9"/><circle cx="1393.4" cy="2295.9" r="4.9"/><circle cx="1408.9" cy="2316.3" r="4.9"/><circle cx="1366.1" cy="2303.3" r="4.9"/><circle cx="1411.9" cy="2308.2" r="4.9"/><circle cx="1347.4" cy="2280.5" r="4.9"/><circle cx="1388.7" cy="2310.4" r="4.9"/><circle cx="1406.1" cy="2283.1" r="4.9"/><circle cx="1366.7" cy="2322.4" r="4.9"/><circle cx="1338.1" cy="2277" r="4.9"/><circle cx="1377.4" cy="2289" r="4.9"/><circle cx="1342.6" cy="2288.7" r="4.9"/><circle cx="1384.3" cy="2307.8" r="4.9"/><circle cx="1340.3" cy="2275.1" r="4.9"/><circle cx="1401.6" cy="2316.2" r="4.9"/><circle cx="1347.9" cy="2332" r="4.9"/><circle cx="1335.8" cy="2296.4" r="4.9"/><circle cx="1401.4" cy="2321.1" r="4.9"/><circle cx="1356.6" cy="2334.2" r="4.9"/><circle cx="1381.6" cy="2332.3" r="4.9"/><circle cx="1405" cy="2300.5" r="4.9"/><circle cx="1387.7" cy="2309.1" r="4.9"/><circle cx="1409.1" cy="2327.4" r="4.9"/><circle cx="1391.7" cy="2328.6" r="4.9"/><circle cx="1413.4" cy="2288.3" r="4.9"/><circle cx="1350.1" cy="2323.7" r="4.9"/><circle cx="1395.3" cy="2306.9" r="4.9"/><circle cx="1372.8" cy="2299" r="4.9"/><circle cx="1404.2" cy="2327.3" r="4.9"/><circle cx="1380.5" cy="2272.7" r="4.9"/><circle cx="1401.7" cy="2302.9" r="4.9"/><circle cx="1349.2" cy="2291.4" r="4.9"/><circle cx="1389" cy="2270.2" r="4.9"/><circle cx="1343.6" cy="2291.7" r="4.9"/><circle cx="1404.5" cy="2323.7" r="4.9"/><circle cx="1411.2" cy="2309" r="4.9"/><circle cx="1379.5" cy="2309.6" r="4.9"/><circle cx="1375.8" cy="2308.9" r="4.9"/><circle cx="1399.1" cy="2338.6" r="4.9"/><circle cx="1366.5" cy="2315.3" r="4.9"/><circle cx="1358.5" cy="2291.6" r="4.9"/><circle cx="1374.3" cy="2312.1" r="4.9"/><circle cx="1377.8" cy="2340.3" r="4.9"/><circle cx="1347" cy="2315.8" r="4.9"/><circle cx="1413.1" cy="2322.9" r="4.9"/><circle cx="1379" cy="2296.4" r="4.9"/><circle cx="1366" cy="2337.4" r="4.9"/><circle cx="1405.2" cy="2318.2" r="4.9"/><circle cx="1405.5" cy="2336.6" r="4.9"/><circle cx="1401.3" cy="2297.5" r="4.9"/><circle cx="1371" cy="2327.3" r="4.9"/><circle cx="1363.7" cy="2323.9" r="4.9"/><circle cx="1372.3" cy="2294.1" r="4.9"/><circle cx="1370.3" cy="2278.2" r="4.9"/><circle cx="1362.2" cy="2299.8" r="4.9"/><circle cx="1335.5" cy="2282.2" r="4.9"/><circle cx="1354.8" cy="2331.7" r="4.9"/><circle cx="1380.9" cy="2290.5" r="4.9"/><circle cx="1413.3" cy="2288.4" r="4.9"/><circle cx="1374.9" cy="2323.2" r="4.9"/><circle cx="1389" cy="2301.1" r="4.9"/><circle cx="1395.8" cy="2304.9" r="4.9"/><circle cx="1390.9" cy="2305.3" r="4.9"/><circle cx="1411.2" cy="2321.5" r="4.9"/><circle cx="1341.4" cy="2279.1" r="4.9"/><circle cx="1410.8" cy="2286.4" r="4.9"/><circle cx="1336.2" cy="2288.1" r="4.9"/><circle cx="1372.2" cy="2338.5" r="4.9"/><circle cx="1365.8" cy="2322" r="4.9"/><circle cx="1400.3" cy="2276.2" r="4.9"/><circle cx="1382.7" cy="2341.7" r="4.9"/><circle cx="1377.7" cy="2308.4" r="4.9"/><circle cx="1361.6" cy="2338.1" r="4.9"/><circle cx="1411.1" cy="2277.2" r="4.9"/><circle cx="1378" cy="2300.1" r="4.9"/><circle cx="1387.4" cy="2278.4" r="4.9"/><circle cx="1355.2" cy="2289.9" r="4.9"/><circle cx="1372.2" cy="2327.1" r="4.9"/><circle cx="1402.2" cy="2326.6" r="4.9"/><circle cx="1387.8" cy="2276.1" r="4.9"/><circle cx="1365" cy="2318.1" r="4.9"/><circle cx="1357.5" cy="2306.5" r="4.9"/><circle cx="1406" cy="2278.2" r="4.9"/><circle cx="1401.9" cy="2277.4" r="4.9"/><circle cx="1364.8" cy="2335.2" r="4.9"/><circle cx="1350.1" cy="2307.4" r="4.9"/><circle cx="1367.2" cy="2333.9" r="4.9"/><circle cx="1412.9" cy="2290.6" r="4.9"/><circle cx="1373.2" cy="2334.4" r="4.9"/><circle cx="1377.4" cy="2285.3" r="4.9"/><circle cx="1394.4" cy="2294.1" r="4.9"/><circle cx="1372.7" cy="2270.4" r="4.9"/><circle cx="1412.6" cy="2317.3" r="4.9"/><circle cx="1407.6" cy="2339.7" r="4.9"/><circle cx="1355.3" cy="2308.8" r="4.9"/><circle cx="1369.1" cy="2324.7" r="4.9"/><circle cx="1401" cy="2286.3" r="4.9"/><circle cx="1355.9" cy="2320.8" r="4.9"/><circle cx="1366.8" cy="2279.2" r="4.9"/><circle cx="1349.6" cy="2310.3" r="4.9"/><circle cx="1381.6" cy="2339.1" r="4.9"/><circle cx="1376.4" cy="2313.8" r="4.9"/><circle cx="1345.9" cy="2299.7" r="4.9"/><circle cx="1356.3" cy="2320" r="4.9"/><circle cx="1355.3" cy="2285.3" r="4.9"/><circle cx="1363.3" cy="2303.8" r="4.9"/><circle cx="1361" cy="2313.5" r="4.9"/><circle cx="1348.5" cy="2333.3" r="4.9"/><circle cx="1389.2" cy="2308.4" r="4.9"/><circle cx="1338.7" cy="2293.3" r="4.9"/><circle cx="1388.9" cy="2316.4" r="4.9"/><circle cx="1398.6" cy="2334.2" r="4.9"/><circle cx="1359.1" cy="2305.4" r="4.9"/><circle cx="1360.3" cy="2279" r="4.9"/><circle cx="1345.2" cy="2288.3" r="4.9"/><circle cx="1341.1" cy="2308.7" r="4.9"/><circle cx="1389.9" cy="2310.5" r="4.9"/><circle cx="1388.5" cy="2286.1" r="4.9"/><circle cx="1349.9" cy="2310.8" r="4.9"/><circle cx="1404.3" cy="2300.3" r="4.9"/><circle cx="1334.4" cy="2271.2" r="4.9"/><circle cx="1358.3" cy="2314.2" r="4.9"/><circle cx="1340.8" cy="2286" r="4.9"/><circle cx="1388.1" cy="2340.9" r="4.9"/><circle cx="1361.2" cy="2313.2" r="4.9"/><circle cx="1375.3" cy="2271.5" r="4.9"/><circle cx="1360.3" cy="2279.9" r="4.9"/><circle cx="1354" cy="2325.4" r="4.9"/><circle cx="1388.2" cy="2272.8" r="4.9"/><circle cx="1340.2" cy="2322.1" r="4.9"/><circle cx="1342.3" cy="2292.7" r="4.9"/><circle cx="1355.5" cy="2273.4" r="4.9"/><circle cx="1336.6" cy="2279.8" r="4.9"/><circle cx="1365.8" cy="2337.2" r="4.9"/><circle cx="1384.8" cy="2287.3" r="4.9"/><circle cx="1388.1" cy="2289.6" r="4.9"/><circle cx="1375" cy="2293" r="4.9"/><circle cx="1409.4" cy="2295.2" r="4.9"/><circle cx="1397.9" cy="2316.1" r="4.9"/><circle cx="1401.1" cy="2313.6" r="4.9"/><circle cx="1403.2" cy="2299.1" r="4.9"/><circle cx="1388" cy="2314.6" r="4.9"/><circle cx="1376" cy="2310.6" r="4.9"/><circle cx="1376.6" cy="2298.2" r="4.9"/><circle cx="1405.4" cy="2315.5" r="4.9"/><circle cx="1377.7" cy="2273.7" r="4.9"/><circle cx="1374.5" cy="2282.4" r="4.9"/><circle cx="1351.2" cy="2301.2" r="4.9"/><circle cx="1377.4" cy="2287.9" r="4.9"/><circle cx="1355.6" cy="2308.1" r="4.9"/><circle cx="1371.7" cy="2298.9" r="4.9"/><circle cx="1342.3" cy="2296.8" r="4.9"/><circle cx="1386.1" cy="2309.1" r="4.9"/><circle cx="1377.4" cy="2330.7" r="4.9"/><circle cx="1391.5" cy="2319.2" r="4.9"/><circle cx="1336.5" cy="2292" r="4.9"/><circle cx="1388.3" cy="2281" r="4.9"/><circle cx="1406.6" cy="2280" r="4.9"/><circle cx="1403.9" cy="2285.4" r="4.9"/><circle cx="1400.9" cy="2331" r="4.9"/><circle cx="1360.7" cy="2334" r="4.9"/><circle cx="1346.8" cy="2331.1" r="4.9"/><circle cx="1364.4" cy="2301.5" r="4.9"/><circle cx="1343.5" cy="2313.2" r="4.9"/><circle cx="1355.5" cy="2317.9" r="4.9"/><circle cx="1397.6" cy="2313.4" r="4.9"/><circle cx="1334.7" cy="2338.6" r="4.9"/><circle cx="1407.1" cy="2316.2" r="4.9"/><circle cx="1364.2" cy="2310.4" r="4.9"/><circle cx="1404.2" cy="2303" r="4.9"/><circle cx="1396" cy="2313" r="4.9"/><circle cx="1367.6" cy="2337.2" r="4.9"/><circle cx="1366.5" cy="2313.5" r="4.9"/><circle cx="1338.3" cy="2303.8" r="4.9"/><circle cx="1337.1" cy="2320.6" r="4.9"/><circle cx="1334.1" cy="2272.8" r="4.9"/><circle cx="1342.9" cy="2279.9" r="4.9"/><circle cx="1374.4" cy="2295.5" r="4.9"/><circle cx="1355.6" cy="2340.8" r="4.9"/><circle cx="1406.3" cy="2317.1" r="4.9"/><circle cx="1397.8" cy="2329" r="4.9"/><circle cx="1353.6" cy="2328.2" r="4.9"/><circle cx="1353.1" cy="2310.4" r="4.9"/><circle cx="1362.5" cy="2281.3" r="4.9"/><circle cx="1395.8" cy="2336" r="4.9"/><circle cx="1359" cy="2333.3" r="4.9"/><circle cx="1361.6" cy="2317.3" r="4.9"/><circle cx="1413.2" cy="2325.5" r="4.9"/><circle cx="1338.5" cy="2301.2" r="4.9"/><circle cx="1364" cy="2291" r="4.9"/><circle cx="1398.9" cy="2301.6" r="4.9"/><circle cx="1389.6" cy="2315.6" r="4.9"/><circle cx="1375.3" cy="2273.8" r="4.9"/><circle cx="1387.5" cy="2334.2" r="4.9"/><circle cx="1347.8" cy="2316.2" r="4.9"/><circle cx="1372.8" cy="2294.4" r="4.9"/><circle cx="1390.5" cy="2340.2" r="4.9"/><circle cx="1335.8" cy="2334.6" r="4.9"/><circle cx="1364.5" cy="2330" r="4.9"/><circle cx="1348" cy="2321.5" r="4.9"/><circle cx="1342" cy="2294" r="4.9"/><circle cx="1411.1" cy="2317.2" r="4.9"/><circle cx="1396.4" cy="2303.1" r="4.9"/><circle cx="1371.5" cy="2305.4" r="4.9"/><circle cx="1395.5" cy="2322" r="4.9"/><circle cx="1349.5" cy="2301.6" r="4.9"/><circle cx="1377.1" cy="2311.1" r="4.9"/><circle cx="1407.7" cy="2330.4" r="4.9"/><circle cx="1346" cy="2297" r="4.9"/><circle cx="1342.8" cy="2271.7" r="4.9"/><circle cx="1340" cy="2283" r="4.9"/><circle cx="1394.9" cy="2318" r="4.9"/><circle cx="1397.5" cy="2290.6" r="4.9"/><circle cx="1346.4" cy="2340" r="4.9"/><circle cx="1399.7" cy="2338.2" r="4.9"/><circle cx="1335.6" cy="2298.4" r="4.9"/><circle cx="1384.4" cy="2322.9" r="4.9"/><circle cx="1406.6" cy="2308.6" r="4.9"/><circle cx="1365.1" cy="2270.2" r="4.9"/><circle cx="1397.9" cy="2340.7" r="4.9"/><circle cx="1406.1" cy="2317.6" r="4.9"/><circle cx="1361.3" cy="2287.1" r="4.9"/><circle cx="1395.6" cy="2337.3" r="4.9"/><circle cx="1410.3" cy="2282.5" r="4.9"/><circle cx="1380.6" cy="2306.8" r="4.9"/><circle cx="1368" cy="2327.2" r="4.9"/><circle cx="1408.4" cy="2322.1" r="4.9"/><circle cx="1389.7" cy="2319.7" r="4.9"/><circle cx="1386" cy="2308.6" r="4.9"/><circle cx="1353.8" cy="2326.1" r="4.9"/><circle cx="1343.6" cy="2316.3" r="4.9"/><circle cx="1364.8" cy="2310.2" r="4.9"/><circle cx="1385" cy="2304.4" r="4.9"/><circle cx="1411.8" cy="2287.1" r="4.9"/><circle cx="1335.1" cy="2338.8" r="4.9"/><circle cx="1358.9" cy="2289.9" r="4.9"/><circle cx="1367.1" cy="2312.8" r="4.9"/><circle cx="1412.4" cy="2320.9" r="4.9"/><circle cx="1359.4" cy="2308.4" r="4.9"/><circle cx="1369.7" cy="2306" r="4.9"/><circle cx="1367.3" cy="2281.9" r="4.9"/><circle cx="1365.5" cy="2297.9" r="4.9"/><circle cx="1350" cy="2328.8" r="4.9"/><circle cx="1362.7" cy="2280.7" r="4.9"/><circle cx="1379.1" cy="2330.8" r="4.9"/><circle cx="1396.1" cy="2314.7" r="4.9"/><circle cx="1392.1" cy="2294.1" r="4.9"/><circle cx="1345.4" cy="2288.2" r="4.9"/><circle cx="1361.8" cy="2290" r="4.9"/><circle cx="1371.2" cy="2280.6" r="4.9"/><circle cx="1344.4" cy="2288" r="4.9"/><circle cx="1349.7" cy="2327.7" r="4.9"/><circle cx="1376.8" cy="2284.1" r="4.9"/><circle cx="1368.2" cy="2332.8" r="4.9"/><circle cx="1380" cy="2309.8" r="4.9"/><circle cx="1365.2" cy="2283.9" r="4.9"/><circle cx="1383.8" cy="2275.4" r="4.9"/><circle cx="1396.5" cy="2274" r="4.9"/><circle cx="1393.4" cy="2297.4" r="4.9"/><circle cx="1388.3" cy="2312.5" r="4.9"/><circle cx="1344.4" cy="2308.7" r="4.9"/><circle cx="1340" cy="2287.2" r="4.9"/><circle cx="1364.4" cy="2290.4" r="4.9"/><circle cx="1386.6" cy="2341" r="4.9"/><circle cx="1362.4" cy="2330.3" r="4.9"/><circle cx="1352" cy="2321" r="4.9"/><circle cx="1361.7" cy="2308.5" r="4.9"/><circle cx="1341.1" cy="2329.5" r="4.9"/><circle cx="1350.7" cy="2303.3" r="4.9"/><circle cx="1357.1" cy="2328.3" r="4.9"/><circle cx="1381.2" cy="2314.2" r="4.9"/><circle cx="1394" cy="2288.2" r="4.9"/><circle cx="1338.7" cy="2329.6" r="4.9"/><circle cx="1359.2" cy="2328.4" r="4.9"/><circle cx="1410.1" cy="2315.2" r="4.9"/><circle cx="1342.3" cy="2331.5" r="4.9"/><circle cx="1384.4" cy="2287.6" r="4.9"/><circle cx="1350.6" cy="2306.5" r="4.9"/><circle cx="1343.8" cy="2335.2" r="4.9"/><circle cx="1390.3" cy="2329" r="4.9"/><circle cx="1364.6" cy="2336.5" r="4.9"/><circle cx="1344.7" cy="2321.5" r="4.9"/><circle cx="1354.3" cy="2270.1" r="4.9"/><circle cx="1343.7" cy="2284.4" r="4.9"/><circle cx="1394.7" cy="2297.1" r="4.9"/><circle cx="1372.4" cy="2314.1" r="4.9"/><circle cx="1355.4" cy="2315.9" r="4.9"/><circle cx="1387.4" cy="2336.3" r="4.9"/><circle cx="1374" cy="2331.6" r="4.9"/><circle cx="1410.9" cy="2325.3" r="4.9"/><circle cx="1367.5" cy="2289.4" r="4.9"/><circle cx="1341.9" cy="2329.8" r="4.9"/><circle cx="1344.4" cy="2310.2" r="4.9"/><circle cx="1370.1" cy="2273" r="4.9"/><circle cx="1351.1" cy="2329.2" r="4.9"/><circle cx="1376.9" cy="2336.5" r="4.9"/><circle cx="1406.2" cy="2276.6" r="4.9"/><circle cx="1387.9" cy="2272.9" r="4.9"/><circle cx="1367.7" cy="2301.7" r="4.9"/><circle cx="1410.1" cy="2312.8" r="4.9"/><circle cx="1349.2" cy="2306.6" r="4.9"/><circle cx="1375.5" cy="2284" r="4.9"/><circle cx="1362.7" cy="2333.2" r="4.9"/><circle cx="1412" cy="2325.9" r="4.9"/><circle cx="1339.2" cy="2335.2" r="4.9"/><circle cx="1370.5" cy="2330" r="4.9"/><circle cx="1348.1" cy="2280.5" r="4.9"/><circle cx="1406.1" cy="2290.4" r="4.9"/><circle cx="1337.5" cy="2306" r="4.9"/><circle cx="1412.8" cy="2330.1" r="4.9"/><circle cx="1365.6" cy="2341.5" r="4.9"/><circle cx="1397.4" cy="2330.6" r="4.9"/><circle cx="1385.4" cy="2298.3" r="4.9"/><circle cx="1406" cy="2303.8" r="4.9"/><circle cx="1408.3" cy="2309.7" r="4.9"/><circle cx="1406.3" cy="2304.3" r="4.9"/><circle cx="1368" cy="2312.3" r="4.9"/><circle cx="1359.3" cy="2280.6" r="4.9"/><circle cx="1380.9" cy="2331.2" r="4.9"/><circle cx="1356.2" cy="2332.3" r="4.9"/><circle cx="1396.6" cy="2325.8" r="4.9"/><circle cx="1367.1" cy="2341.9" r="4.9"/><circle cx="1396.9" cy="2311.4" r="4.9"/><circle cx="1343.1" cy="2311.2" r="4.9"/><circle cx="1335.2" cy="2334.9" r="4.9"/><circle cx="1360.8" cy="2296.4" r="4.9"/><circle cx="1377.8" cy="2315.8" r="4.9"/><circle cx="1380.4" cy="2304.8" r="4.9"/><circle cx="1384.5" cy="2331" r="4.9"/><circle cx="1369.5" cy="2305.9" r="4.9"/><circle cx="1398.4" cy="2270" r="4.9"/><circle cx="1346.9" cy="2293.3" r="4.9"/><circle cx="1351.1" cy="2334.5" r="4.9"/><circle cx="1345.9" cy="2277.6" r="4.9"/><circle cx="1359.3" cy="2306.5" r="4.9"/><circle cx="1399.3" cy="2341.7" r="4.9"/><circle cx="1401.7" cy="2313.8" r="4.9"/><circle cx="1337.1" cy="2274.4" r="4.9"/><circle cx="1384.2" cy="2329" r="4.9"/><circle cx="1355.2" cy="2339.8" r="4.9"/><circle cx="1377.8" cy="2311.2" r="4.9"/><circle cx="1383.2" cy="2275.2" r="4.9"/><circle cx="1347.6" cy="2337.4" r="4.9"/><circle cx="1355.3" cy="2275.8" r="4.9"/><circle cx="1356.5" cy="2322.2" r="4.9"/><circle cx="1355" cy="2285" r="4.9"/><circle cx="1356.1" cy="2304.5" r="4.9"/><circle cx="1392.7" cy="2291.6" r="4.9"/><circle cx="1403.5" cy="2340.3" r="4.9"/><circle cx="1399.4" cy="2275.2" r="4.9"/><circle cx="1359.1" cy="2336.6" r="4.9"/><circle cx="1402.3" cy="2279.4" r="4.9"/><circle cx="1369.2" cy="2296.1" r="4.9"/><circle cx="1393.4" cy="2271.9" r="4.9"/><circle cx="1359.1" cy="2323.9" r="4.9"/><circle cx="1404.5" cy="2272.7" r="4.9"/><circle cx="1380.8" cy="2317.7" r="4.9"/><circle cx="1403.4" cy="2300.5" r="4.9"/><circle cx="1411.4" cy="2284.1" r="4.9"/><circle cx="1343.2" cy="2279.2" r="4.9"/><circle cx="1380.7" cy="2278.6" r="4.9"/><circle cx="1355.3" cy="2284" r="4.9"/><circle cx="1338.5" cy="2339.3" r="4.9"/><circle cx="1360.7" cy="2339.4" r="4.9"/><circle cx="1391.5" cy="2285.7" r="4.9"/><circle cx="1408.1" cy="2270.5" r="4.9"/><circle cx="1412" cy="2272.1" r="4.9"/><circle cx="1354.2" cy="2309.7" r="4.9"/><circle cx="1334.8" cy="2325" r="4.9"/><circle cx="1340.8" cy="2328.8" r="4.9"/><circle cx="1336.9" cy="2307.9" r="4.9"/><circle cx="1350.7" cy="2290.6" r="4.9"/><circle cx="1373" cy="2296.6" r="4.9"/><circle cx="1365.2" cy="2317" r="4.9"/><circle cx="1349.6" cy="2282.9" r="4.9"/><circle cx="1388.4" cy="2291.2" r="4.9"/><circle cx="1408.2" cy="2300.6" r="4.9"/><circle cx="1371.7" cy="2271.5" r="4.9"/><circle cx="1335.7" cy="2277.4" r="4.9"/><circle cx="1383.8" cy="2317.8" r="4.9"/><circle cx="1409.7" cy="2301" r="4.9"/><circle cx="1390.3" cy="2294.6" r="4.9"/><circle cx="1340" cy="2300.1" r="4.9"/><circle cx="1389.8" cy="2327.9" r="4.9"/><circle cx="1409.7" cy="2329.9" r="4.9"/><circle cx="1378.9" cy="2309.5" r="4.9"/><circle cx="1373.9" cy="2304.3" r="4.9"/><circle cx="1388.1" cy="2311.4" r="4.9"/><circle cx="1402.2" cy="2302.3" r="4.9"/><circle cx="1371.5" cy="2329.9" r="4.9"/><circle cx="1387.7" cy="2307.7" r="4.9"/><circle cx="1378.8" cy="2328" r="4.9"/><circle cx="1382.3" cy="2288.5" r="4.9"/><circle cx="1358.7" cy="2313.5" r="4.9"/><circle cx="1337.7" cy="2302.8" r="4.9"/><circle cx="1404.9" cy="2286.6" r="4.9"/><circle cx="1369.4" cy="2320.3" r="4.9"/><circle cx="1407.6" cy="2320.1" r="4.9"/><circle cx="1383.8" cy="2267.9" r="4.9"/><circle cx="1368.8" cy="2269.8" r="4.9"/><circle cx="1362.4" cy="2270.9" r="4.9"/><circle cx="1334.8" cy="2270.6" r="4.9"/><circle cx="1393" cy="2267.3" r="4.9"/><circle cx="1335.3" cy="2267.5" r="4.9"/><circle cx="1380.9" cy="2270.9" r="4.9"/><circle cx="1403.2" cy="2266.6" r="4.9"/><circle cx="1340.6" cy="2265.9" r="4.9"/><circle cx="1412.6" cy="2347.8" r="4.9"/><circle cx="1344.3" cy="2348.2" r="4.9"/><circle cx="1410.3" cy="2347.5" r="4.9"/><circle cx="1352.6" cy="2350.7" r="4.9"/><circle cx="1389.7" cy="2343.6" r="4.9"/><circle cx="1394.9" cy="2346.5" r="4.9"/><circle cx="1379.7" cy="2345.3" r="4.9"/><circle cx="1357.4" cy="2345.8" r="4.9"/><circle cx="1375.9" cy="2346.2" r="4.9"/><circle cx="1402.9" cy="2342.7" r="4.9"/><circle cx="1349.9" cy="2350.4" r="4.9"/><circle cx="1382.4" cy="2347.6" r="4.9"/>
</g>
<path d="M1175.9 2419.5V1866.1H1572.1V2298.4H1968.3V2419.5Z" fill="#000" fill-opacity="0.1"/>
<g stroke="#000" stroke-width="2.2" fill="none">
<path d="M1175.9 1746V2419.5H1968.3" stroke-linecap="square"/>
</g>
<path d="M1175.9 2419.5v8.8M1275 2419.5v8.8M1374 2419.5v8.8M1473 2419.5v8.8M1572.1 2419.5v8.8M1671.2 2419.5v8.8M1770.2 2419.5v8.8M1869.2 2419.5v8.8M1968.3 2419.5v8.8M1175.9 1783.2h-8.8M1175.9 1897.3h-8.8M1175.9 2011.3h-8.8M1175.9 2125.3h-8.8M1175.9 2239.4h-8.8M1175.9 2353.4h-8.8" stroke="#333" stroke-width="2.2" fill="none"/>
<g class="tk" text-anchor="middle">
<text x="1175.9" y="2455.7">−0.50</text>
<text x="1275" y="2455.7">−0.25</text>
<text x="1374" y="2455.7">0.00</text>
<text x="1473" y="2455.7">0.25</text>
<text x="1572.1" y="2455.7">0.50</text>
<text x="1671.2" y="2455.7">0.75</text>
<text x="1770.2" y="2455.7">1.00</text>
<text x="1869.2" y="2455.7">1.25</text>
<text x="1968.3" y="2455.7">1.50</text>
</g>
<g class="tk" text-anchor="end">
<text x="1159.5" y="1793.5">0.04</text>
<text x="1159.5" y="1907.5">0.03</text>
<text x="1159.5" y="2021.5">0.02</text>
<text x="1159.5" y="2135.5">0.01</text>
<text x="1159.5" y="2249.6">0.00</text>
<text x="1159.5" y="2363.6">−0.01</text>
</g>
<text class="lb" text-anchor="middle" x="1572.1" y="2492.5">Risk Factor Hypertension</text>
<text class="lb" text-anchor="middle" transform="translate(1032.2 2082.8) rotate(-90)">SHAP value for</text>
<text class="lb" text-anchor="middle" transform="translate(1066.3 2082.8) rotate(-90)">Risk Factor Hypertension</text>
<text class="pl" x="1072.8" y="1707">f</text>
</g>
</svg>
</body>
</html>
